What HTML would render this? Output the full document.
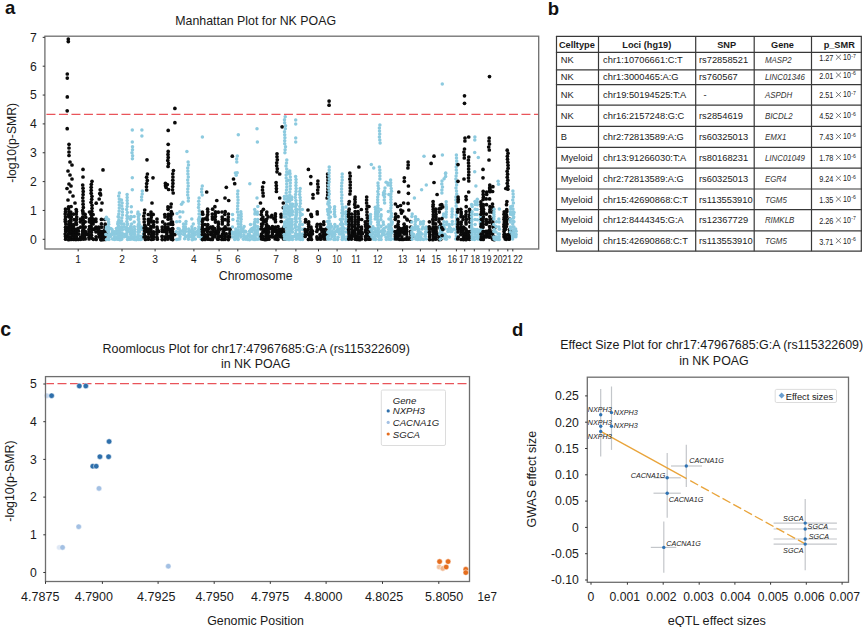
<!DOCTYPE html>
<html><head><meta charset="utf-8"><style>
html,body{margin:0;padding:0;background:#fff;}
svg{display:block;font-family:"Liberation Sans", sans-serif;}
</style></head><body>
<svg width="865" height="627" viewBox="0 0 865 627">
<rect width="865" height="627" fill="#fff"/>
<line x1="45.699999999999996" y1="114.4" x2="538.2" y2="114.4" stroke="#e9545a" stroke-width="1.3" stroke-dasharray="9 3.5" stroke-dashoffset="11.75"/>
<circle cx="65.6" cy="239.2" r="1.85" fill="#0a0a0a"/>
<circle cx="65.5" cy="236.4" r="1.85" fill="#0a0a0a"/>
<circle cx="65.2" cy="234.0" r="1.85" fill="#0a0a0a"/>
<circle cx="65.8" cy="231.5" r="1.85" fill="#0a0a0a"/>
<circle cx="65.6" cy="229.7" r="1.85" fill="#0a0a0a"/>
<circle cx="65.5" cy="227.2" r="1.85" fill="#0a0a0a"/>
<circle cx="65.8" cy="224.1" r="1.85" fill="#0a0a0a"/>
<circle cx="65.3" cy="221.6" r="1.85" fill="#0a0a0a"/>
<circle cx="65.3" cy="219.4" r="1.85" fill="#0a0a0a"/>
<circle cx="65.5" cy="216.8" r="1.85" fill="#0a0a0a"/>
<circle cx="65.2" cy="214.1" r="1.85" fill="#0a0a0a"/>
<circle cx="65.5" cy="211.7" r="1.85" fill="#0a0a0a"/>
<circle cx="65.5" cy="209.1" r="1.85" fill="#0a0a0a"/>
<circle cx="67.0" cy="236.7" r="1.85" fill="#0a0a0a"/>
<circle cx="67.4" cy="228.5" r="1.85" fill="#0a0a0a"/>
<circle cx="68.6" cy="239.7" r="1.85" fill="#0a0a0a"/>
<circle cx="68.7" cy="237.0" r="1.85" fill="#0a0a0a"/>
<circle cx="68.5" cy="234.2" r="1.85" fill="#0a0a0a"/>
<circle cx="68.8" cy="231.5" r="1.85" fill="#0a0a0a"/>
<circle cx="68.5" cy="229.5" r="1.85" fill="#0a0a0a"/>
<circle cx="68.8" cy="226.6" r="1.85" fill="#0a0a0a"/>
<circle cx="68.8" cy="224.3" r="1.85" fill="#0a0a0a"/>
<circle cx="68.9" cy="221.7" r="1.85" fill="#0a0a0a"/>
<circle cx="68.7" cy="216.8" r="1.85" fill="#0a0a0a"/>
<circle cx="68.5" cy="214.5" r="1.85" fill="#0a0a0a"/>
<circle cx="68.9" cy="211.8" r="1.85" fill="#0a0a0a"/>
<circle cx="68.6" cy="209.1" r="1.85" fill="#0a0a0a"/>
<circle cx="68.6" cy="206.8" r="1.85" fill="#0a0a0a"/>
<circle cx="70.2" cy="231.1" r="1.85" fill="#0a0a0a"/>
<circle cx="70.5" cy="228.4" r="1.85" fill="#0a0a0a"/>
<circle cx="71.0" cy="239.4" r="1.85" fill="#0a0a0a"/>
<circle cx="71.2" cy="236.8" r="1.85" fill="#0a0a0a"/>
<circle cx="71.2" cy="233.9" r="1.85" fill="#0a0a0a"/>
<circle cx="71.3" cy="232.1" r="1.85" fill="#0a0a0a"/>
<circle cx="71.0" cy="229.2" r="1.85" fill="#0a0a0a"/>
<circle cx="71.2" cy="226.4" r="1.85" fill="#0a0a0a"/>
<circle cx="70.9" cy="224.0" r="1.85" fill="#0a0a0a"/>
<circle cx="70.8" cy="221.4" r="1.85" fill="#0a0a0a"/>
<circle cx="70.8" cy="219.2" r="1.85" fill="#0a0a0a"/>
<circle cx="71.4" cy="216.9" r="1.85" fill="#0a0a0a"/>
<circle cx="70.9" cy="214.2" r="1.85" fill="#0a0a0a"/>
<circle cx="70.8" cy="212.1" r="1.85" fill="#0a0a0a"/>
<circle cx="71.1" cy="206.5" r="1.85" fill="#0a0a0a"/>
<circle cx="73.1" cy="239.1" r="1.85" fill="#0a0a0a"/>
<circle cx="72.8" cy="234.6" r="1.85" fill="#0a0a0a"/>
<circle cx="72.9" cy="231.5" r="1.85" fill="#0a0a0a"/>
<circle cx="73.2" cy="229.4" r="1.85" fill="#0a0a0a"/>
<circle cx="73.5" cy="239.5" r="1.85" fill="#0a0a0a"/>
<circle cx="73.9" cy="236.7" r="1.85" fill="#0a0a0a"/>
<circle cx="74.0" cy="234.7" r="1.85" fill="#0a0a0a"/>
<circle cx="74.0" cy="232.1" r="1.85" fill="#0a0a0a"/>
<circle cx="73.6" cy="229.3" r="1.85" fill="#0a0a0a"/>
<circle cx="73.4" cy="226.4" r="1.85" fill="#0a0a0a"/>
<circle cx="73.6" cy="224.5" r="1.85" fill="#0a0a0a"/>
<circle cx="74.1" cy="219.7" r="1.85" fill="#0a0a0a"/>
<circle cx="73.6" cy="214.1" r="1.85" fill="#0a0a0a"/>
<circle cx="75.4" cy="239.4" r="1.85" fill="#0a0a0a"/>
<circle cx="75.7" cy="231.8" r="1.85" fill="#0a0a0a"/>
<circle cx="75.7" cy="229.3" r="1.85" fill="#0a0a0a"/>
<circle cx="76.3" cy="239.5" r="1.85" fill="#0a0a0a"/>
<circle cx="76.4" cy="236.7" r="1.85" fill="#0a0a0a"/>
<circle cx="76.6" cy="234.0" r="1.85" fill="#0a0a0a"/>
<circle cx="76.2" cy="232.1" r="1.85" fill="#0a0a0a"/>
<circle cx="76.2" cy="229.6" r="1.85" fill="#0a0a0a"/>
<circle cx="76.4" cy="224.3" r="1.85" fill="#0a0a0a"/>
<circle cx="76.1" cy="222.2" r="1.85" fill="#0a0a0a"/>
<circle cx="76.5" cy="219.6" r="1.85" fill="#0a0a0a"/>
<circle cx="76.7" cy="217.1" r="1.85" fill="#0a0a0a"/>
<circle cx="76.3" cy="214.1" r="1.85" fill="#0a0a0a"/>
<circle cx="76.5" cy="211.6" r="1.85" fill="#0a0a0a"/>
<circle cx="76.2" cy="209.6" r="1.85" fill="#0a0a0a"/>
<circle cx="78.4" cy="239.4" r="1.85" fill="#0a0a0a"/>
<circle cx="78.7" cy="234.1" r="1.85" fill="#0a0a0a"/>
<circle cx="78.4" cy="231.0" r="1.85" fill="#0a0a0a"/>
<circle cx="78.1" cy="228.4" r="1.85" fill="#0a0a0a"/>
<circle cx="68.3" cy="39.0" r="1.85" fill="#0a0a0a"/>
<circle cx="68.3" cy="41.6" r="1.85" fill="#0a0a0a"/>
<circle cx="67.3" cy="74.0" r="1.85" fill="#0a0a0a"/>
<circle cx="67.3" cy="78.1" r="1.85" fill="#0a0a0a"/>
<circle cx="67.3" cy="96.9" r="1.85" fill="#0a0a0a"/>
<circle cx="67.2" cy="110.8" r="1.85" fill="#0a0a0a"/>
<circle cx="67.2" cy="128.7" r="1.85" fill="#0a0a0a"/>
<circle cx="69.0" cy="144.3" r="1.85" fill="#0a0a0a"/>
<circle cx="69.0" cy="148.0" r="1.85" fill="#0a0a0a"/>
<circle cx="69.0" cy="152.0" r="1.85" fill="#0a0a0a"/>
<circle cx="69.0" cy="155.5" r="1.85" fill="#0a0a0a"/>
<circle cx="70.0" cy="162.0" r="1.85" fill="#0a0a0a"/>
<circle cx="72.0" cy="165.0" r="1.85" fill="#0a0a0a"/>
<circle cx="68.0" cy="171.0" r="1.85" fill="#0a0a0a"/>
<circle cx="70.0" cy="175.0" r="1.85" fill="#0a0a0a"/>
<circle cx="72.0" cy="179.0" r="1.85" fill="#0a0a0a"/>
<circle cx="69.0" cy="184.0" r="1.85" fill="#0a0a0a"/>
<circle cx="67.0" cy="188.5" r="1.85" fill="#0a0a0a"/>
<circle cx="70.0" cy="192.0" r="1.85" fill="#0a0a0a"/>
<circle cx="73.0" cy="196.0" r="1.85" fill="#0a0a0a"/>
<circle cx="68.0" cy="200.0" r="1.85" fill="#0a0a0a"/>
<circle cx="75.0" cy="203.0" r="1.85" fill="#0a0a0a"/>
<circle cx="71.0" cy="186.0" r="1.85" fill="#0a0a0a"/>
<circle cx="83.0" cy="169.4" r="1.85" fill="#0a0a0a"/>
<circle cx="83.0" cy="177.0" r="1.85" fill="#0a0a0a"/>
<circle cx="82.7" cy="185.0" r="1.85" fill="#0a0a0a"/>
<circle cx="83.0" cy="188.2" r="1.85" fill="#0a0a0a"/>
<circle cx="83.2" cy="191.4" r="1.85" fill="#0a0a0a"/>
<circle cx="83.1" cy="194.6" r="1.85" fill="#0a0a0a"/>
<circle cx="82.8" cy="197.8" r="1.85" fill="#0a0a0a"/>
<circle cx="83.0" cy="201.0" r="1.85" fill="#0a0a0a"/>
<circle cx="83.1" cy="204.2" r="1.85" fill="#0a0a0a"/>
<circle cx="83.3" cy="207.4" r="1.85" fill="#0a0a0a"/>
<circle cx="82.6" cy="210.6" r="1.85" fill="#0a0a0a"/>
<circle cx="83.1" cy="213.8" r="1.85" fill="#0a0a0a"/>
<circle cx="82.7" cy="217.0" r="1.85" fill="#0a0a0a"/>
<circle cx="82.8" cy="220.2" r="1.85" fill="#0a0a0a"/>
<circle cx="83.3" cy="223.4" r="1.85" fill="#0a0a0a"/>
<circle cx="83.0" cy="226.6" r="1.85" fill="#0a0a0a"/>
<circle cx="83.1" cy="229.8" r="1.85" fill="#0a0a0a"/>
<circle cx="83.3" cy="233.0" r="1.85" fill="#0a0a0a"/>
<circle cx="83.4" cy="236.2" r="1.85" fill="#0a0a0a"/>
<circle cx="80.7" cy="239.3" r="1.85" fill="#0a0a0a"/>
<circle cx="80.5" cy="237.2" r="1.85" fill="#0a0a0a"/>
<circle cx="80.6" cy="227.2" r="1.85" fill="#0a0a0a"/>
<circle cx="80.3" cy="221.8" r="1.85" fill="#0a0a0a"/>
<circle cx="80.4" cy="219.0" r="1.85" fill="#0a0a0a"/>
<circle cx="82.3" cy="236.9" r="1.85" fill="#0a0a0a"/>
<circle cx="82.4" cy="234.6" r="1.85" fill="#0a0a0a"/>
<circle cx="82.5" cy="231.4" r="1.85" fill="#0a0a0a"/>
<circle cx="83.2" cy="239.1" r="1.85" fill="#0a0a0a"/>
<circle cx="83.4" cy="236.4" r="1.85" fill="#0a0a0a"/>
<circle cx="83.2" cy="233.9" r="1.85" fill="#0a0a0a"/>
<circle cx="83.4" cy="231.8" r="1.85" fill="#0a0a0a"/>
<circle cx="83.6" cy="229.5" r="1.85" fill="#0a0a0a"/>
<circle cx="83.1" cy="223.9" r="1.85" fill="#0a0a0a"/>
<circle cx="83.0" cy="219.2" r="1.85" fill="#0a0a0a"/>
<circle cx="83.0" cy="212.1" r="1.85" fill="#0a0a0a"/>
<circle cx="84.6" cy="236.9" r="1.85" fill="#0a0a0a"/>
<circle cx="85.3" cy="231.6" r="1.85" fill="#0a0a0a"/>
<circle cx="85.2" cy="238.9" r="1.85" fill="#0a0a0a"/>
<circle cx="85.7" cy="234.4" r="1.85" fill="#0a0a0a"/>
<circle cx="85.6" cy="232.2" r="1.85" fill="#0a0a0a"/>
<circle cx="85.2" cy="227.1" r="1.85" fill="#0a0a0a"/>
<circle cx="85.2" cy="221.8" r="1.85" fill="#0a0a0a"/>
<circle cx="85.7" cy="217.2" r="1.85" fill="#0a0a0a"/>
<circle cx="85.1" cy="214.3" r="1.85" fill="#0a0a0a"/>
<circle cx="87.3" cy="234.3" r="1.85" fill="#0a0a0a"/>
<circle cx="92.0" cy="181.3" r="1.85" fill="#0a0a0a"/>
<circle cx="91.3" cy="184.3" r="1.85" fill="#0a0a0a"/>
<circle cx="91.2" cy="187.3" r="1.85" fill="#0a0a0a"/>
<circle cx="91.2" cy="190.3" r="1.85" fill="#0a0a0a"/>
<circle cx="91.2" cy="193.3" r="1.85" fill="#0a0a0a"/>
<circle cx="91.9" cy="196.3" r="1.85" fill="#0a0a0a"/>
<circle cx="91.7" cy="199.3" r="1.85" fill="#0a0a0a"/>
<circle cx="91.1" cy="202.3" r="1.85" fill="#0a0a0a"/>
<circle cx="92.0" cy="205.3" r="1.85" fill="#0a0a0a"/>
<circle cx="92.0" cy="208.3" r="1.85" fill="#0a0a0a"/>
<circle cx="91.8" cy="211.3" r="1.85" fill="#0a0a0a"/>
<circle cx="91.0" cy="214.3" r="1.85" fill="#0a0a0a"/>
<circle cx="91.6" cy="217.3" r="1.85" fill="#0a0a0a"/>
<circle cx="91.9" cy="220.3" r="1.85" fill="#0a0a0a"/>
<circle cx="91.4" cy="223.3" r="1.85" fill="#0a0a0a"/>
<circle cx="91.1" cy="226.3" r="1.85" fill="#0a0a0a"/>
<circle cx="91.7" cy="229.3" r="1.85" fill="#0a0a0a"/>
<circle cx="91.4" cy="232.3" r="1.85" fill="#0a0a0a"/>
<circle cx="91.5" cy="235.3" r="1.85" fill="#0a0a0a"/>
<circle cx="92.0" cy="238.3" r="1.85" fill="#0a0a0a"/>
<circle cx="89.1" cy="238.9" r="1.85" fill="#0a0a0a"/>
<circle cx="89.1" cy="237.2" r="1.85" fill="#0a0a0a"/>
<circle cx="88.9" cy="234.6" r="1.85" fill="#0a0a0a"/>
<circle cx="89.0" cy="231.7" r="1.85" fill="#0a0a0a"/>
<circle cx="89.1" cy="229.4" r="1.85" fill="#0a0a0a"/>
<circle cx="89.5" cy="226.5" r="1.85" fill="#0a0a0a"/>
<circle cx="89.3" cy="221.7" r="1.85" fill="#0a0a0a"/>
<circle cx="89.4" cy="219.0" r="1.85" fill="#0a0a0a"/>
<circle cx="89.5" cy="212.0" r="1.85" fill="#0a0a0a"/>
<circle cx="91.4" cy="228.5" r="1.85" fill="#0a0a0a"/>
<circle cx="93.4" cy="239.3" r="1.85" fill="#0a0a0a"/>
<circle cx="93.7" cy="229.4" r="1.85" fill="#0a0a0a"/>
<circle cx="93.1" cy="224.0" r="1.85" fill="#0a0a0a"/>
<circle cx="93.2" cy="222.1" r="1.85" fill="#0a0a0a"/>
<circle cx="93.5" cy="219.4" r="1.85" fill="#0a0a0a"/>
<circle cx="93.1" cy="214.5" r="1.85" fill="#0a0a0a"/>
<circle cx="94.9" cy="228.7" r="1.85" fill="#0a0a0a"/>
<circle cx="100.2" cy="193.6" r="1.85" fill="#0a0a0a"/>
<circle cx="99.8" cy="193.5" r="1.85" fill="#0a0a0a"/>
<circle cx="99.2" cy="199.0" r="1.85" fill="#0a0a0a"/>
<circle cx="100.2" cy="189.8" r="1.85" fill="#0a0a0a"/>
<circle cx="100.6" cy="194.9" r="1.85" fill="#0a0a0a"/>
<circle cx="96.2" cy="203.2" r="1.85" fill="#0a0a0a"/>
<circle cx="96.2" cy="239.4" r="1.85" fill="#0a0a0a"/>
<circle cx="96.1" cy="236.8" r="1.85" fill="#0a0a0a"/>
<circle cx="95.9" cy="231.8" r="1.85" fill="#0a0a0a"/>
<circle cx="96.0" cy="227.0" r="1.85" fill="#0a0a0a"/>
<circle cx="95.9" cy="221.5" r="1.85" fill="#0a0a0a"/>
<circle cx="95.9" cy="219.0" r="1.85" fill="#0a0a0a"/>
<circle cx="98.2" cy="231.9" r="1.85" fill="#0a0a0a"/>
<circle cx="97.5" cy="229.1" r="1.85" fill="#0a0a0a"/>
<circle cx="99.1" cy="237.0" r="1.85" fill="#0a0a0a"/>
<circle cx="99.1" cy="234.3" r="1.85" fill="#0a0a0a"/>
<circle cx="98.5" cy="231.8" r="1.85" fill="#0a0a0a"/>
<circle cx="98.7" cy="229.0" r="1.85" fill="#0a0a0a"/>
<circle cx="98.7" cy="227.1" r="1.85" fill="#0a0a0a"/>
<circle cx="101.0" cy="239.6" r="1.85" fill="#0a0a0a"/>
<circle cx="101.2" cy="236.9" r="1.85" fill="#0a0a0a"/>
<circle cx="100.7" cy="231.4" r="1.85" fill="#0a0a0a"/>
<circle cx="103.0" cy="169.9" r="1.85" fill="#0a0a0a"/>
<circle cx="102.0" cy="203.0" r="1.85" fill="#0a0a0a"/>
<circle cx="101.0" cy="210.0" r="1.85" fill="#0a0a0a"/>
<circle cx="100.9" cy="239.6" r="1.85" fill="#0a0a0a"/>
<circle cx="101.5" cy="236.6" r="1.85" fill="#0a0a0a"/>
<circle cx="101.2" cy="234.1" r="1.85" fill="#0a0a0a"/>
<circle cx="101.5" cy="232.1" r="1.85" fill="#0a0a0a"/>
<circle cx="101.5" cy="227.2" r="1.85" fill="#0a0a0a"/>
<circle cx="101.4" cy="223.9" r="1.85" fill="#0a0a0a"/>
<circle cx="101.4" cy="219.4" r="1.85" fill="#0a0a0a"/>
<circle cx="102.7" cy="239.7" r="1.85" fill="#0a0a0a"/>
<circle cx="103.0" cy="236.5" r="1.85" fill="#0a0a0a"/>
<circle cx="103.2" cy="234.6" r="1.85" fill="#0a0a0a"/>
<circle cx="103.2" cy="231.3" r="1.85" fill="#0a0a0a"/>
<circle cx="105.0" cy="239.5" r="1.85" fill="#0a0a0a"/>
<circle cx="104.9" cy="236.7" r="1.85" fill="#0a0a0a"/>
<circle cx="105.0" cy="231.6" r="1.85" fill="#0a0a0a"/>
<circle cx="105.0" cy="229.2" r="1.85" fill="#0a0a0a"/>
<circle cx="105.2" cy="226.6" r="1.85" fill="#0a0a0a"/>
<circle cx="105.2" cy="224.2" r="1.85" fill="#0a0a0a"/>
<circle cx="104.8" cy="219.5" r="1.85" fill="#0a0a0a"/>
<circle cx="106.6" cy="234.1" r="1.85" fill="#0a0a0a"/>
<circle cx="106.5" cy="239.6" r="1.75" fill="#8ccadf"/>
<circle cx="105.9" cy="234.5" r="1.75" fill="#8ccadf"/>
<circle cx="106.3" cy="228.9" r="1.75" fill="#8ccadf"/>
<circle cx="106.5" cy="227.1" r="1.75" fill="#8ccadf"/>
<circle cx="106.0" cy="219.0" r="1.75" fill="#8ccadf"/>
<circle cx="106.4" cy="217.2" r="1.75" fill="#8ccadf"/>
<circle cx="108.0" cy="231.0" r="1.75" fill="#8ccadf"/>
<circle cx="109.0" cy="239.4" r="1.75" fill="#8ccadf"/>
<circle cx="108.6" cy="237.0" r="1.75" fill="#8ccadf"/>
<circle cx="108.5" cy="234.7" r="1.75" fill="#8ccadf"/>
<circle cx="108.5" cy="232.0" r="1.75" fill="#8ccadf"/>
<circle cx="108.7" cy="229.7" r="1.75" fill="#8ccadf"/>
<circle cx="108.5" cy="227.1" r="1.75" fill="#8ccadf"/>
<circle cx="108.7" cy="224.3" r="1.75" fill="#8ccadf"/>
<circle cx="108.6" cy="221.9" r="1.75" fill="#8ccadf"/>
<circle cx="108.4" cy="219.6" r="1.75" fill="#8ccadf"/>
<circle cx="110.5" cy="236.6" r="1.75" fill="#8ccadf"/>
<circle cx="110.7" cy="234.3" r="1.75" fill="#8ccadf"/>
<circle cx="110.6" cy="228.4" r="1.75" fill="#8ccadf"/>
<circle cx="112.5" cy="239.1" r="1.75" fill="#8ccadf"/>
<circle cx="111.9" cy="234.5" r="1.75" fill="#8ccadf"/>
<circle cx="112.4" cy="231.8" r="1.75" fill="#8ccadf"/>
<circle cx="111.9" cy="229.2" r="1.75" fill="#8ccadf"/>
<circle cx="113.6" cy="239.0" r="1.75" fill="#8ccadf"/>
<circle cx="113.4" cy="233.7" r="1.75" fill="#8ccadf"/>
<circle cx="114.0" cy="231.9" r="1.75" fill="#8ccadf"/>
<circle cx="114.7" cy="239.5" r="1.75" fill="#8ccadf"/>
<circle cx="114.5" cy="236.7" r="1.75" fill="#8ccadf"/>
<circle cx="114.2" cy="234.0" r="1.75" fill="#8ccadf"/>
<circle cx="114.2" cy="231.7" r="1.75" fill="#8ccadf"/>
<circle cx="116.5" cy="239.0" r="1.75" fill="#8ccadf"/>
<circle cx="116.4" cy="237.0" r="1.75" fill="#8ccadf"/>
<circle cx="115.8" cy="234.1" r="1.75" fill="#8ccadf"/>
<circle cx="116.5" cy="231.2" r="1.75" fill="#8ccadf"/>
<circle cx="116.4" cy="228.4" r="1.75" fill="#8ccadf"/>
<circle cx="118.0" cy="239.3" r="1.75" fill="#8ccadf"/>
<circle cx="117.8" cy="234.0" r="1.75" fill="#8ccadf"/>
<circle cx="118.0" cy="231.7" r="1.75" fill="#8ccadf"/>
<circle cx="118.2" cy="227.0" r="1.75" fill="#8ccadf"/>
<circle cx="118.2" cy="221.9" r="1.75" fill="#8ccadf"/>
<circle cx="119.8" cy="238.9" r="1.75" fill="#8ccadf"/>
<circle cx="119.7" cy="234.4" r="1.75" fill="#8ccadf"/>
<circle cx="119.4" cy="193.0" r="1.75" fill="#8ccadf"/>
<circle cx="118.7" cy="196.0" r="1.75" fill="#8ccadf"/>
<circle cx="119.3" cy="199.0" r="1.75" fill="#8ccadf"/>
<circle cx="119.2" cy="202.0" r="1.75" fill="#8ccadf"/>
<circle cx="119.3" cy="205.0" r="1.75" fill="#8ccadf"/>
<circle cx="119.3" cy="208.0" r="1.75" fill="#8ccadf"/>
<circle cx="119.1" cy="211.0" r="1.75" fill="#8ccadf"/>
<circle cx="118.8" cy="214.0" r="1.75" fill="#8ccadf"/>
<circle cx="118.8" cy="217.0" r="1.75" fill="#8ccadf"/>
<circle cx="118.9" cy="220.0" r="1.75" fill="#8ccadf"/>
<circle cx="119.3" cy="223.0" r="1.75" fill="#8ccadf"/>
<circle cx="118.6" cy="226.0" r="1.75" fill="#8ccadf"/>
<circle cx="118.7" cy="229.0" r="1.75" fill="#8ccadf"/>
<circle cx="119.3" cy="232.0" r="1.75" fill="#8ccadf"/>
<circle cx="118.7" cy="235.0" r="1.75" fill="#8ccadf"/>
<circle cx="118.6" cy="238.0" r="1.75" fill="#8ccadf"/>
<circle cx="121.5" cy="200.0" r="1.75" fill="#8ccadf"/>
<circle cx="122.1" cy="203.0" r="1.75" fill="#8ccadf"/>
<circle cx="121.8" cy="206.0" r="1.75" fill="#8ccadf"/>
<circle cx="122.5" cy="209.0" r="1.75" fill="#8ccadf"/>
<circle cx="122.4" cy="212.0" r="1.75" fill="#8ccadf"/>
<circle cx="122.5" cy="215.0" r="1.75" fill="#8ccadf"/>
<circle cx="121.8" cy="218.0" r="1.75" fill="#8ccadf"/>
<circle cx="121.6" cy="221.0" r="1.75" fill="#8ccadf"/>
<circle cx="121.6" cy="224.0" r="1.75" fill="#8ccadf"/>
<circle cx="122.0" cy="227.0" r="1.75" fill="#8ccadf"/>
<circle cx="122.2" cy="230.0" r="1.75" fill="#8ccadf"/>
<circle cx="121.9" cy="233.0" r="1.75" fill="#8ccadf"/>
<circle cx="121.7" cy="236.0" r="1.75" fill="#8ccadf"/>
<circle cx="121.9" cy="239.0" r="1.75" fill="#8ccadf"/>
<circle cx="127.1" cy="194.5" r="1.75" fill="#8ccadf"/>
<circle cx="127.2" cy="197.5" r="1.75" fill="#8ccadf"/>
<circle cx="127.2" cy="200.5" r="1.75" fill="#8ccadf"/>
<circle cx="127.3" cy="203.5" r="1.75" fill="#8ccadf"/>
<circle cx="127.2" cy="206.5" r="1.75" fill="#8ccadf"/>
<circle cx="126.6" cy="209.5" r="1.75" fill="#8ccadf"/>
<circle cx="127.3" cy="212.5" r="1.75" fill="#8ccadf"/>
<circle cx="126.8" cy="215.5" r="1.75" fill="#8ccadf"/>
<circle cx="127.1" cy="218.5" r="1.75" fill="#8ccadf"/>
<circle cx="126.9" cy="221.5" r="1.75" fill="#8ccadf"/>
<circle cx="127.2" cy="224.5" r="1.75" fill="#8ccadf"/>
<circle cx="126.7" cy="227.5" r="1.75" fill="#8ccadf"/>
<circle cx="126.7" cy="230.5" r="1.75" fill="#8ccadf"/>
<circle cx="126.7" cy="233.5" r="1.75" fill="#8ccadf"/>
<circle cx="126.7" cy="236.5" r="1.75" fill="#8ccadf"/>
<circle cx="118.2" cy="239.3" r="1.75" fill="#8ccadf"/>
<circle cx="118.1" cy="236.9" r="1.75" fill="#8ccadf"/>
<circle cx="117.9" cy="232.1" r="1.75" fill="#8ccadf"/>
<circle cx="117.7" cy="224.0" r="1.75" fill="#8ccadf"/>
<circle cx="118.2" cy="221.9" r="1.75" fill="#8ccadf"/>
<circle cx="118.1" cy="216.8" r="1.75" fill="#8ccadf"/>
<circle cx="119.9" cy="239.7" r="1.75" fill="#8ccadf"/>
<circle cx="119.7" cy="236.8" r="1.75" fill="#8ccadf"/>
<circle cx="119.6" cy="233.7" r="1.75" fill="#8ccadf"/>
<circle cx="119.5" cy="231.6" r="1.75" fill="#8ccadf"/>
<circle cx="121.1" cy="239.4" r="1.75" fill="#8ccadf"/>
<circle cx="120.9" cy="236.8" r="1.75" fill="#8ccadf"/>
<circle cx="121.1" cy="234.5" r="1.75" fill="#8ccadf"/>
<circle cx="121.2" cy="229.4" r="1.75" fill="#8ccadf"/>
<circle cx="121.0" cy="227.2" r="1.75" fill="#8ccadf"/>
<circle cx="120.9" cy="222.0" r="1.75" fill="#8ccadf"/>
<circle cx="122.1" cy="237.0" r="1.75" fill="#8ccadf"/>
<circle cx="122.4" cy="229.3" r="1.75" fill="#8ccadf"/>
<circle cx="124.5" cy="236.8" r="1.75" fill="#8ccadf"/>
<circle cx="123.8" cy="234.3" r="1.75" fill="#8ccadf"/>
<circle cx="124.3" cy="226.7" r="1.75" fill="#8ccadf"/>
<circle cx="123.9" cy="224.1" r="1.75" fill="#8ccadf"/>
<circle cx="125.9" cy="234.4" r="1.75" fill="#8ccadf"/>
<circle cx="125.6" cy="229.3" r="1.75" fill="#8ccadf"/>
<circle cx="127.5" cy="239.5" r="1.75" fill="#8ccadf"/>
<circle cx="128.0" cy="236.9" r="1.75" fill="#8ccadf"/>
<circle cx="127.8" cy="231.6" r="1.75" fill="#8ccadf"/>
<circle cx="127.8" cy="228.9" r="1.75" fill="#8ccadf"/>
<circle cx="127.7" cy="224.0" r="1.75" fill="#8ccadf"/>
<circle cx="128.0" cy="217.1" r="1.75" fill="#8ccadf"/>
<circle cx="129.2" cy="239.3" r="1.75" fill="#8ccadf"/>
<circle cx="129.1" cy="228.8" r="1.75" fill="#8ccadf"/>
<circle cx="130.7" cy="239.3" r="1.75" fill="#8ccadf"/>
<circle cx="130.8" cy="237.0" r="1.75" fill="#8ccadf"/>
<circle cx="130.4" cy="234.3" r="1.75" fill="#8ccadf"/>
<circle cx="130.3" cy="231.7" r="1.75" fill="#8ccadf"/>
<circle cx="130.6" cy="229.3" r="1.75" fill="#8ccadf"/>
<circle cx="130.7" cy="226.5" r="1.75" fill="#8ccadf"/>
<circle cx="130.3" cy="219.3" r="1.75" fill="#8ccadf"/>
<circle cx="130.9" cy="216.5" r="1.75" fill="#8ccadf"/>
<circle cx="132.6" cy="231.5" r="1.75" fill="#8ccadf"/>
<circle cx="132.3" cy="130.0" r="1.75" fill="#8ccadf"/>
<circle cx="132.3" cy="141.9" r="1.75" fill="#8ccadf"/>
<circle cx="132.5" cy="146.7" r="1.75" fill="#8ccadf"/>
<circle cx="132.5" cy="149.7" r="1.75" fill="#8ccadf"/>
<circle cx="132.0" cy="152.7" r="1.75" fill="#8ccadf"/>
<circle cx="132.6" cy="155.7" r="1.75" fill="#8ccadf"/>
<circle cx="132.4" cy="158.7" r="1.75" fill="#8ccadf"/>
<circle cx="132.3" cy="177.8" r="1.75" fill="#8ccadf"/>
<circle cx="132.3" cy="189.7" r="1.75" fill="#8ccadf"/>
<circle cx="131.2" cy="237.2" r="1.75" fill="#8ccadf"/>
<circle cx="131.5" cy="234.4" r="1.75" fill="#8ccadf"/>
<circle cx="131.3" cy="231.6" r="1.75" fill="#8ccadf"/>
<circle cx="131.5" cy="229.1" r="1.75" fill="#8ccadf"/>
<circle cx="131.3" cy="227.0" r="1.75" fill="#8ccadf"/>
<circle cx="131.6" cy="223.9" r="1.75" fill="#8ccadf"/>
<circle cx="131.4" cy="217.0" r="1.75" fill="#8ccadf"/>
<circle cx="131.4" cy="212.1" r="1.75" fill="#8ccadf"/>
<circle cx="131.3" cy="206.7" r="1.75" fill="#8ccadf"/>
<circle cx="132.8" cy="238.9" r="1.75" fill="#8ccadf"/>
<circle cx="133.0" cy="237.2" r="1.75" fill="#8ccadf"/>
<circle cx="132.9" cy="233.9" r="1.75" fill="#8ccadf"/>
<circle cx="134.4" cy="239.4" r="1.75" fill="#8ccadf"/>
<circle cx="134.5" cy="236.4" r="1.75" fill="#8ccadf"/>
<circle cx="134.6" cy="233.9" r="1.75" fill="#8ccadf"/>
<circle cx="134.6" cy="231.6" r="1.75" fill="#8ccadf"/>
<circle cx="134.6" cy="229.2" r="1.75" fill="#8ccadf"/>
<circle cx="134.3" cy="226.7" r="1.75" fill="#8ccadf"/>
<circle cx="134.2" cy="222.0" r="1.75" fill="#8ccadf"/>
<circle cx="134.2" cy="216.5" r="1.75" fill="#8ccadf"/>
<circle cx="136.2" cy="239.8" r="1.75" fill="#8ccadf"/>
<circle cx="136.2" cy="237.1" r="1.75" fill="#8ccadf"/>
<circle cx="138.1" cy="239.2" r="1.75" fill="#8ccadf"/>
<circle cx="137.8" cy="237.0" r="1.75" fill="#8ccadf"/>
<circle cx="138.1" cy="234.7" r="1.75" fill="#8ccadf"/>
<circle cx="137.9" cy="231.9" r="1.75" fill="#8ccadf"/>
<circle cx="138.2" cy="229.6" r="1.75" fill="#8ccadf"/>
<circle cx="138.0" cy="226.6" r="1.75" fill="#8ccadf"/>
<circle cx="138.4" cy="224.5" r="1.75" fill="#8ccadf"/>
<circle cx="138.3" cy="219.5" r="1.75" fill="#8ccadf"/>
<circle cx="138.3" cy="216.8" r="1.75" fill="#8ccadf"/>
<circle cx="137.8" cy="214.1" r="1.75" fill="#8ccadf"/>
<circle cx="138.0" cy="212.0" r="1.75" fill="#8ccadf"/>
<circle cx="139.3" cy="239.2" r="1.75" fill="#8ccadf"/>
<circle cx="139.4" cy="232.0" r="1.75" fill="#8ccadf"/>
<circle cx="139.6" cy="228.4" r="1.75" fill="#8ccadf"/>
<circle cx="141.9" cy="130.0" r="1.75" fill="#8ccadf"/>
<circle cx="141.9" cy="135.9" r="1.75" fill="#8ccadf"/>
<circle cx="142.3" cy="191.0" r="1.75" fill="#8ccadf"/>
<circle cx="142.2" cy="194.0" r="1.75" fill="#8ccadf"/>
<circle cx="141.6" cy="197.0" r="1.75" fill="#8ccadf"/>
<circle cx="141.6" cy="200.0" r="1.75" fill="#8ccadf"/>
<circle cx="138.9" cy="239.6" r="1.75" fill="#8ccadf"/>
<circle cx="139.0" cy="229.3" r="1.75" fill="#8ccadf"/>
<circle cx="138.7" cy="227.2" r="1.75" fill="#8ccadf"/>
<circle cx="139.3" cy="224.5" r="1.75" fill="#8ccadf"/>
<circle cx="139.0" cy="221.9" r="1.75" fill="#8ccadf"/>
<circle cx="138.7" cy="219.0" r="1.75" fill="#8ccadf"/>
<circle cx="139.3" cy="214.5" r="1.75" fill="#8ccadf"/>
<circle cx="140.4" cy="239.4" r="1.75" fill="#8ccadf"/>
<circle cx="140.4" cy="236.2" r="1.75" fill="#8ccadf"/>
<circle cx="141.1" cy="228.9" r="1.75" fill="#8ccadf"/>
<circle cx="141.7" cy="239.1" r="1.75" fill="#8ccadf"/>
<circle cx="141.4" cy="237.2" r="1.75" fill="#8ccadf"/>
<circle cx="141.9" cy="229.4" r="1.75" fill="#8ccadf"/>
<circle cx="141.5" cy="227.0" r="1.75" fill="#8ccadf"/>
<circle cx="143.0" cy="236.5" r="1.75" fill="#8ccadf"/>
<circle cx="143.4" cy="233.6" r="1.75" fill="#8ccadf"/>
<circle cx="144.7" cy="210.0" r="1.85" fill="#0a0a0a"/>
<circle cx="144.4" cy="213.0" r="1.85" fill="#0a0a0a"/>
<circle cx="143.8" cy="216.0" r="1.85" fill="#0a0a0a"/>
<circle cx="144.2" cy="219.0" r="1.85" fill="#0a0a0a"/>
<circle cx="144.2" cy="222.0" r="1.85" fill="#0a0a0a"/>
<circle cx="144.6" cy="225.0" r="1.85" fill="#0a0a0a"/>
<circle cx="144.1" cy="228.0" r="1.85" fill="#0a0a0a"/>
<circle cx="144.5" cy="231.0" r="1.85" fill="#0a0a0a"/>
<circle cx="144.3" cy="234.0" r="1.85" fill="#0a0a0a"/>
<circle cx="144.0" cy="237.0" r="1.85" fill="#0a0a0a"/>
<circle cx="147.0" cy="159.8" r="1.85" fill="#0a0a0a"/>
<circle cx="147.4" cy="174.0" r="1.85" fill="#0a0a0a"/>
<circle cx="146.6" cy="177.2" r="1.85" fill="#0a0a0a"/>
<circle cx="147.3" cy="180.4" r="1.85" fill="#0a0a0a"/>
<circle cx="146.7" cy="183.6" r="1.85" fill="#0a0a0a"/>
<circle cx="146.5" cy="186.8" r="1.85" fill="#0a0a0a"/>
<circle cx="146.7" cy="190.0" r="1.85" fill="#0a0a0a"/>
<circle cx="153.0" cy="177.8" r="1.85" fill="#0a0a0a"/>
<circle cx="152.0" cy="203.0" r="1.85" fill="#0a0a0a"/>
<circle cx="145.4" cy="239.5" r="1.85" fill="#0a0a0a"/>
<circle cx="145.4" cy="236.7" r="1.85" fill="#0a0a0a"/>
<circle cx="145.7" cy="231.6" r="1.85" fill="#0a0a0a"/>
<circle cx="145.6" cy="229.3" r="1.85" fill="#0a0a0a"/>
<circle cx="145.5" cy="226.5" r="1.85" fill="#0a0a0a"/>
<circle cx="147.4" cy="228.8" r="1.85" fill="#0a0a0a"/>
<circle cx="148.3" cy="239.2" r="1.85" fill="#0a0a0a"/>
<circle cx="148.2" cy="237.2" r="1.85" fill="#0a0a0a"/>
<circle cx="148.8" cy="234.0" r="1.85" fill="#0a0a0a"/>
<circle cx="148.6" cy="231.9" r="1.85" fill="#0a0a0a"/>
<circle cx="148.5" cy="229.3" r="1.85" fill="#0a0a0a"/>
<circle cx="148.5" cy="224.2" r="1.85" fill="#0a0a0a"/>
<circle cx="148.6" cy="221.6" r="1.85" fill="#0a0a0a"/>
<circle cx="148.3" cy="219.4" r="1.85" fill="#0a0a0a"/>
<circle cx="148.3" cy="214.5" r="1.85" fill="#0a0a0a"/>
<circle cx="151.5" cy="239.5" r="1.85" fill="#0a0a0a"/>
<circle cx="151.5" cy="236.5" r="1.85" fill="#0a0a0a"/>
<circle cx="151.5" cy="234.5" r="1.85" fill="#0a0a0a"/>
<circle cx="151.1" cy="231.6" r="1.85" fill="#0a0a0a"/>
<circle cx="150.9" cy="229.1" r="1.85" fill="#0a0a0a"/>
<circle cx="150.8" cy="226.7" r="1.85" fill="#0a0a0a"/>
<circle cx="151.1" cy="221.9" r="1.85" fill="#0a0a0a"/>
<circle cx="150.9" cy="219.4" r="1.85" fill="#0a0a0a"/>
<circle cx="151.3" cy="217.1" r="1.85" fill="#0a0a0a"/>
<circle cx="151.2" cy="214.5" r="1.85" fill="#0a0a0a"/>
<circle cx="151.0" cy="212.0" r="1.85" fill="#0a0a0a"/>
<circle cx="153.2" cy="239.2" r="1.85" fill="#0a0a0a"/>
<circle cx="153.7" cy="236.9" r="1.85" fill="#0a0a0a"/>
<circle cx="153.5" cy="234.3" r="1.85" fill="#0a0a0a"/>
<circle cx="153.5" cy="231.9" r="1.85" fill="#0a0a0a"/>
<circle cx="153.6" cy="227.0" r="1.85" fill="#0a0a0a"/>
<circle cx="153.5" cy="224.7" r="1.85" fill="#0a0a0a"/>
<circle cx="153.6" cy="221.5" r="1.85" fill="#0a0a0a"/>
<circle cx="153.2" cy="214.4" r="1.85" fill="#0a0a0a"/>
<circle cx="157.3" cy="239.2" r="1.85" fill="#0a0a0a"/>
<circle cx="156.9" cy="237.2" r="1.85" fill="#0a0a0a"/>
<circle cx="156.9" cy="234.1" r="1.85" fill="#0a0a0a"/>
<circle cx="156.8" cy="231.7" r="1.85" fill="#0a0a0a"/>
<circle cx="157.3" cy="229.2" r="1.85" fill="#0a0a0a"/>
<circle cx="157.0" cy="227.0" r="1.85" fill="#0a0a0a"/>
<circle cx="157.0" cy="222.0" r="1.85" fill="#0a0a0a"/>
<circle cx="157.0" cy="219.0" r="1.85" fill="#0a0a0a"/>
<circle cx="158.7" cy="231.4" r="1.85" fill="#0a0a0a"/>
<circle cx="174.9" cy="108.4" r="1.85" fill="#0a0a0a"/>
<circle cx="174.9" cy="122.7" r="1.85" fill="#0a0a0a"/>
<circle cx="168.2" cy="130.4" r="1.85" fill="#0a0a0a"/>
<circle cx="168.2" cy="144.3" r="1.85" fill="#0a0a0a"/>
<circle cx="168.2" cy="151.4" r="1.85" fill="#0a0a0a"/>
<circle cx="168.0" cy="154.4" r="1.85" fill="#0a0a0a"/>
<circle cx="168.2" cy="157.4" r="1.85" fill="#0a0a0a"/>
<circle cx="167.8" cy="160.4" r="1.85" fill="#0a0a0a"/>
<circle cx="168.5" cy="163.4" r="1.85" fill="#0a0a0a"/>
<circle cx="168.1" cy="166.4" r="1.85" fill="#0a0a0a"/>
<circle cx="173.4" cy="170.6" r="1.85" fill="#0a0a0a"/>
<circle cx="172.8" cy="173.8" r="1.85" fill="#0a0a0a"/>
<circle cx="172.9" cy="177.0" r="1.85" fill="#0a0a0a"/>
<circle cx="172.8" cy="180.2" r="1.85" fill="#0a0a0a"/>
<circle cx="172.9" cy="183.4" r="1.85" fill="#0a0a0a"/>
<circle cx="172.7" cy="186.6" r="1.85" fill="#0a0a0a"/>
<circle cx="172.5" cy="189.8" r="1.85" fill="#0a0a0a"/>
<circle cx="173.2" cy="193.0" r="1.85" fill="#0a0a0a"/>
<circle cx="165.4" cy="183.4" r="1.85" fill="#0a0a0a"/>
<circle cx="165.5" cy="185.8" r="1.85" fill="#0a0a0a"/>
<circle cx="166.1" cy="187.4" r="1.85" fill="#0a0a0a"/>
<circle cx="167.3" cy="184.6" r="1.85" fill="#0a0a0a"/>
<circle cx="168.6" cy="189.5" r="1.85" fill="#0a0a0a"/>
<circle cx="162.2" cy="239.6" r="1.85" fill="#0a0a0a"/>
<circle cx="162.1" cy="236.4" r="1.85" fill="#0a0a0a"/>
<circle cx="162.3" cy="231.5" r="1.85" fill="#0a0a0a"/>
<circle cx="162.3" cy="229.5" r="1.85" fill="#0a0a0a"/>
<circle cx="162.2" cy="227.1" r="1.85" fill="#0a0a0a"/>
<circle cx="162.7" cy="221.9" r="1.85" fill="#0a0a0a"/>
<circle cx="163.8" cy="231.5" r="1.85" fill="#0a0a0a"/>
<circle cx="165.0" cy="239.6" r="1.85" fill="#0a0a0a"/>
<circle cx="165.1" cy="236.8" r="1.85" fill="#0a0a0a"/>
<circle cx="164.9" cy="231.5" r="1.85" fill="#0a0a0a"/>
<circle cx="165.2" cy="229.0" r="1.85" fill="#0a0a0a"/>
<circle cx="165.2" cy="226.8" r="1.85" fill="#0a0a0a"/>
<circle cx="165.1" cy="224.2" r="1.85" fill="#0a0a0a"/>
<circle cx="165.0" cy="216.9" r="1.85" fill="#0a0a0a"/>
<circle cx="164.8" cy="214.5" r="1.85" fill="#0a0a0a"/>
<circle cx="167.1" cy="237.0" r="1.85" fill="#0a0a0a"/>
<circle cx="166.8" cy="234.0" r="1.85" fill="#0a0a0a"/>
<circle cx="166.7" cy="231.7" r="1.85" fill="#0a0a0a"/>
<circle cx="167.3" cy="229.0" r="1.85" fill="#0a0a0a"/>
<circle cx="167.8" cy="239.1" r="1.85" fill="#0a0a0a"/>
<circle cx="168.1" cy="236.7" r="1.85" fill="#0a0a0a"/>
<circle cx="167.9" cy="229.3" r="1.85" fill="#0a0a0a"/>
<circle cx="167.9" cy="227.0" r="1.85" fill="#0a0a0a"/>
<circle cx="168.4" cy="224.0" r="1.85" fill="#0a0a0a"/>
<circle cx="168.1" cy="219.2" r="1.85" fill="#0a0a0a"/>
<circle cx="168.0" cy="216.5" r="1.85" fill="#0a0a0a"/>
<circle cx="168.3" cy="214.3" r="1.85" fill="#0a0a0a"/>
<circle cx="168.1" cy="209.3" r="1.85" fill="#0a0a0a"/>
<circle cx="167.9" cy="206.9" r="1.85" fill="#0a0a0a"/>
<circle cx="169.5" cy="236.8" r="1.85" fill="#0a0a0a"/>
<circle cx="170.0" cy="231.9" r="1.85" fill="#0a0a0a"/>
<circle cx="169.5" cy="229.3" r="1.85" fill="#0a0a0a"/>
<circle cx="171.0" cy="239.1" r="1.85" fill="#0a0a0a"/>
<circle cx="170.9" cy="236.7" r="1.85" fill="#0a0a0a"/>
<circle cx="171.1" cy="234.6" r="1.85" fill="#0a0a0a"/>
<circle cx="171.0" cy="231.4" r="1.85" fill="#0a0a0a"/>
<circle cx="171.2" cy="229.4" r="1.85" fill="#0a0a0a"/>
<circle cx="170.7" cy="224.2" r="1.85" fill="#0a0a0a"/>
<circle cx="171.3" cy="222.2" r="1.85" fill="#0a0a0a"/>
<circle cx="170.9" cy="219.0" r="1.85" fill="#0a0a0a"/>
<circle cx="170.8" cy="216.5" r="1.85" fill="#0a0a0a"/>
<circle cx="170.6" cy="214.4" r="1.85" fill="#0a0a0a"/>
<circle cx="171.3" cy="211.5" r="1.85" fill="#0a0a0a"/>
<circle cx="170.7" cy="207.0" r="1.85" fill="#0a0a0a"/>
<circle cx="171.2" cy="204.0" r="1.85" fill="#0a0a0a"/>
<circle cx="172.5" cy="239.5" r="1.85" fill="#0a0a0a"/>
<circle cx="172.4" cy="231.7" r="1.85" fill="#0a0a0a"/>
<circle cx="172.6" cy="228.7" r="1.85" fill="#0a0a0a"/>
<circle cx="172.7" cy="239.6" r="1.85" fill="#0a0a0a"/>
<circle cx="172.4" cy="237.0" r="1.85" fill="#0a0a0a"/>
<circle cx="172.8" cy="234.3" r="1.85" fill="#0a0a0a"/>
<circle cx="172.5" cy="231.9" r="1.85" fill="#0a0a0a"/>
<circle cx="172.7" cy="229.0" r="1.85" fill="#0a0a0a"/>
<circle cx="172.7" cy="224.4" r="1.85" fill="#0a0a0a"/>
<circle cx="172.5" cy="222.0" r="1.85" fill="#0a0a0a"/>
<circle cx="172.4" cy="213.9" r="1.85" fill="#0a0a0a"/>
<circle cx="174.8" cy="234.6" r="1.85" fill="#0a0a0a"/>
<circle cx="186.9" cy="151.4" r="1.75" fill="#8ccadf"/>
<circle cx="188.1" cy="162.0" r="1.75" fill="#8ccadf"/>
<circle cx="188.5" cy="165.0" r="1.75" fill="#8ccadf"/>
<circle cx="187.7" cy="168.0" r="1.75" fill="#8ccadf"/>
<circle cx="187.9" cy="171.0" r="1.75" fill="#8ccadf"/>
<circle cx="187.9" cy="174.0" r="1.75" fill="#8ccadf"/>
<circle cx="188.3" cy="177.0" r="1.75" fill="#8ccadf"/>
<circle cx="187.7" cy="180.0" r="1.75" fill="#8ccadf"/>
<circle cx="188.0" cy="183.0" r="1.75" fill="#8ccadf"/>
<circle cx="188.2" cy="186.0" r="1.75" fill="#8ccadf"/>
<circle cx="187.8" cy="189.0" r="1.75" fill="#8ccadf"/>
<circle cx="187.8" cy="192.0" r="1.75" fill="#8ccadf"/>
<circle cx="187.7" cy="195.0" r="1.75" fill="#8ccadf"/>
<circle cx="188.4" cy="198.0" r="1.75" fill="#8ccadf"/>
<circle cx="188.3" cy="201.0" r="1.75" fill="#8ccadf"/>
<circle cx="181.5" cy="204.3" r="1.75" fill="#8ccadf"/>
<circle cx="177.0" cy="213.4" r="1.75" fill="#8ccadf"/>
<circle cx="182.9" cy="202.2" r="1.75" fill="#8ccadf"/>
<circle cx="182.8" cy="212.0" r="1.75" fill="#8ccadf"/>
<circle cx="179.8" cy="211.7" r="1.75" fill="#8ccadf"/>
<circle cx="176.6" cy="239.5" r="1.75" fill="#8ccadf"/>
<circle cx="176.3" cy="231.7" r="1.75" fill="#8ccadf"/>
<circle cx="176.6" cy="221.8" r="1.75" fill="#8ccadf"/>
<circle cx="177.9" cy="239.2" r="1.75" fill="#8ccadf"/>
<circle cx="178.5" cy="233.9" r="1.75" fill="#8ccadf"/>
<circle cx="178.0" cy="228.5" r="1.75" fill="#8ccadf"/>
<circle cx="179.7" cy="239.0" r="1.75" fill="#8ccadf"/>
<circle cx="180.0" cy="236.7" r="1.75" fill="#8ccadf"/>
<circle cx="179.8" cy="234.5" r="1.75" fill="#8ccadf"/>
<circle cx="179.7" cy="231.7" r="1.75" fill="#8ccadf"/>
<circle cx="179.3" cy="228.9" r="1.75" fill="#8ccadf"/>
<circle cx="179.7" cy="221.6" r="1.75" fill="#8ccadf"/>
<circle cx="180.0" cy="217.0" r="1.75" fill="#8ccadf"/>
<circle cx="180.8" cy="233.8" r="1.75" fill="#8ccadf"/>
<circle cx="180.9" cy="231.1" r="1.75" fill="#8ccadf"/>
<circle cx="183.6" cy="234.5" r="1.75" fill="#8ccadf"/>
<circle cx="183.2" cy="231.6" r="1.75" fill="#8ccadf"/>
<circle cx="183.6" cy="229.3" r="1.75" fill="#8ccadf"/>
<circle cx="183.6" cy="226.7" r="1.75" fill="#8ccadf"/>
<circle cx="183.5" cy="224.0" r="1.75" fill="#8ccadf"/>
<circle cx="184.6" cy="238.8" r="1.75" fill="#8ccadf"/>
<circle cx="184.6" cy="234.3" r="1.75" fill="#8ccadf"/>
<circle cx="185.5" cy="236.9" r="1.75" fill="#8ccadf"/>
<circle cx="185.5" cy="231.6" r="1.75" fill="#8ccadf"/>
<circle cx="185.6" cy="229.0" r="1.75" fill="#8ccadf"/>
<circle cx="185.4" cy="226.9" r="1.75" fill="#8ccadf"/>
<circle cx="185.8" cy="224.1" r="1.75" fill="#8ccadf"/>
<circle cx="186.0" cy="221.6" r="1.75" fill="#8ccadf"/>
<circle cx="187.0" cy="236.3" r="1.75" fill="#8ccadf"/>
<circle cx="188.4" cy="239.2" r="1.75" fill="#8ccadf"/>
<circle cx="188.8" cy="236.5" r="1.75" fill="#8ccadf"/>
<circle cx="188.9" cy="234.3" r="1.75" fill="#8ccadf"/>
<circle cx="188.6" cy="231.6" r="1.75" fill="#8ccadf"/>
<circle cx="188.7" cy="229.1" r="1.75" fill="#8ccadf"/>
<circle cx="190.1" cy="236.7" r="1.75" fill="#8ccadf"/>
<circle cx="190.4" cy="231.6" r="1.75" fill="#8ccadf"/>
<circle cx="192.1" cy="239.7" r="1.75" fill="#8ccadf"/>
<circle cx="191.8" cy="236.6" r="1.75" fill="#8ccadf"/>
<circle cx="191.9" cy="234.2" r="1.75" fill="#8ccadf"/>
<circle cx="192.2" cy="232.2" r="1.75" fill="#8ccadf"/>
<circle cx="192.0" cy="229.3" r="1.75" fill="#8ccadf"/>
<circle cx="191.9" cy="226.8" r="1.75" fill="#8ccadf"/>
<circle cx="191.8" cy="218.9" r="1.75" fill="#8ccadf"/>
<circle cx="193.0" cy="239.0" r="1.75" fill="#8ccadf"/>
<circle cx="192.9" cy="231.6" r="1.75" fill="#8ccadf"/>
<circle cx="202.4" cy="137.0" r="1.75" fill="#8ccadf"/>
<circle cx="202.3" cy="186.0" r="1.75" fill="#8ccadf"/>
<circle cx="201.7" cy="189.0" r="1.75" fill="#8ccadf"/>
<circle cx="201.6" cy="192.0" r="1.75" fill="#8ccadf"/>
<circle cx="202.2" cy="195.0" r="1.75" fill="#8ccadf"/>
<circle cx="199.1" cy="198.0" r="1.75" fill="#8ccadf"/>
<circle cx="198.7" cy="201.2" r="1.75" fill="#8ccadf"/>
<circle cx="198.8" cy="204.4" r="1.75" fill="#8ccadf"/>
<circle cx="198.5" cy="207.6" r="1.75" fill="#8ccadf"/>
<circle cx="199.2" cy="210.8" r="1.75" fill="#8ccadf"/>
<circle cx="199.0" cy="214.0" r="1.75" fill="#8ccadf"/>
<circle cx="199.3" cy="217.2" r="1.75" fill="#8ccadf"/>
<circle cx="199.4" cy="220.4" r="1.75" fill="#8ccadf"/>
<circle cx="199.0" cy="223.6" r="1.75" fill="#8ccadf"/>
<circle cx="198.8" cy="226.8" r="1.75" fill="#8ccadf"/>
<circle cx="198.8" cy="230.0" r="1.75" fill="#8ccadf"/>
<circle cx="199.1" cy="233.2" r="1.75" fill="#8ccadf"/>
<circle cx="199.4" cy="236.4" r="1.75" fill="#8ccadf"/>
<circle cx="193.5" cy="239.1" r="1.75" fill="#8ccadf"/>
<circle cx="193.7" cy="236.4" r="1.75" fill="#8ccadf"/>
<circle cx="193.6" cy="231.7" r="1.75" fill="#8ccadf"/>
<circle cx="193.3" cy="224.1" r="1.75" fill="#8ccadf"/>
<circle cx="194.4" cy="234.3" r="1.75" fill="#8ccadf"/>
<circle cx="195.0" cy="228.5" r="1.75" fill="#8ccadf"/>
<circle cx="195.4" cy="239.1" r="1.75" fill="#8ccadf"/>
<circle cx="195.3" cy="234.5" r="1.75" fill="#8ccadf"/>
<circle cx="195.3" cy="231.9" r="1.75" fill="#8ccadf"/>
<circle cx="197.8" cy="234.3" r="1.75" fill="#8ccadf"/>
<circle cx="197.2" cy="231.5" r="1.75" fill="#8ccadf"/>
<circle cx="198.3" cy="236.6" r="1.75" fill="#8ccadf"/>
<circle cx="198.5" cy="232.2" r="1.75" fill="#8ccadf"/>
<circle cx="198.6" cy="229.5" r="1.75" fill="#8ccadf"/>
<circle cx="198.9" cy="221.4" r="1.75" fill="#8ccadf"/>
<circle cx="198.5" cy="219.6" r="1.75" fill="#8ccadf"/>
<circle cx="200.4" cy="234.2" r="1.75" fill="#8ccadf"/>
<circle cx="200.2" cy="231.7" r="1.75" fill="#8ccadf"/>
<circle cx="200.8" cy="229.1" r="1.75" fill="#8ccadf"/>
<circle cx="201.3" cy="239.3" r="1.75" fill="#8ccadf"/>
<circle cx="201.1" cy="237.2" r="1.75" fill="#8ccadf"/>
<circle cx="201.4" cy="219.1" r="1.75" fill="#8ccadf"/>
<circle cx="201.4" cy="214.6" r="1.75" fill="#8ccadf"/>
<circle cx="202.9" cy="236.6" r="1.75" fill="#8ccadf"/>
<circle cx="202.8" cy="231.6" r="1.75" fill="#8ccadf"/>
<circle cx="203.0" cy="229.4" r="1.75" fill="#8ccadf"/>
<circle cx="206.7" cy="192.0" r="1.85" fill="#0a0a0a"/>
<circle cx="216.8" cy="200.5" r="1.85" fill="#0a0a0a"/>
<circle cx="226.3" cy="187.3" r="1.85" fill="#0a0a0a"/>
<circle cx="225.0" cy="198.0" r="1.85" fill="#0a0a0a"/>
<circle cx="228.7" cy="200.5" r="1.85" fill="#0a0a0a"/>
<circle cx="202.5" cy="239.6" r="1.85" fill="#0a0a0a"/>
<circle cx="202.4" cy="234.5" r="1.85" fill="#0a0a0a"/>
<circle cx="202.4" cy="231.8" r="1.85" fill="#0a0a0a"/>
<circle cx="202.3" cy="229.2" r="1.85" fill="#0a0a0a"/>
<circle cx="202.4" cy="227.1" r="1.85" fill="#0a0a0a"/>
<circle cx="202.5" cy="224.6" r="1.85" fill="#0a0a0a"/>
<circle cx="202.4" cy="221.6" r="1.85" fill="#0a0a0a"/>
<circle cx="202.9" cy="219.2" r="1.85" fill="#0a0a0a"/>
<circle cx="202.8" cy="214.2" r="1.85" fill="#0a0a0a"/>
<circle cx="202.4" cy="212.1" r="1.85" fill="#0a0a0a"/>
<circle cx="203.3" cy="238.8" r="1.85" fill="#0a0a0a"/>
<circle cx="203.8" cy="231.5" r="1.85" fill="#0a0a0a"/>
<circle cx="205.0" cy="239.5" r="1.85" fill="#0a0a0a"/>
<circle cx="204.6" cy="236.7" r="1.85" fill="#0a0a0a"/>
<circle cx="204.8" cy="234.6" r="1.85" fill="#0a0a0a"/>
<circle cx="204.9" cy="229.5" r="1.85" fill="#0a0a0a"/>
<circle cx="204.9" cy="224.5" r="1.85" fill="#0a0a0a"/>
<circle cx="205.0" cy="218.9" r="1.85" fill="#0a0a0a"/>
<circle cx="206.9" cy="229.3" r="1.85" fill="#0a0a0a"/>
<circle cx="207.6" cy="239.1" r="1.85" fill="#0a0a0a"/>
<circle cx="207.5" cy="236.7" r="1.85" fill="#0a0a0a"/>
<circle cx="207.7" cy="234.6" r="1.85" fill="#0a0a0a"/>
<circle cx="207.4" cy="231.5" r="1.85" fill="#0a0a0a"/>
<circle cx="207.2" cy="229.4" r="1.85" fill="#0a0a0a"/>
<circle cx="207.2" cy="227.1" r="1.85" fill="#0a0a0a"/>
<circle cx="207.7" cy="224.6" r="1.85" fill="#0a0a0a"/>
<circle cx="207.4" cy="219.6" r="1.85" fill="#0a0a0a"/>
<circle cx="207.1" cy="216.9" r="1.85" fill="#0a0a0a"/>
<circle cx="207.7" cy="214.5" r="1.85" fill="#0a0a0a"/>
<circle cx="207.8" cy="211.8" r="1.85" fill="#0a0a0a"/>
<circle cx="207.6" cy="209.2" r="1.85" fill="#0a0a0a"/>
<circle cx="209.2" cy="239.2" r="1.85" fill="#0a0a0a"/>
<circle cx="209.0" cy="228.8" r="1.85" fill="#0a0a0a"/>
<circle cx="210.7" cy="239.4" r="1.85" fill="#0a0a0a"/>
<circle cx="210.8" cy="234.6" r="1.85" fill="#0a0a0a"/>
<circle cx="210.6" cy="232.2" r="1.85" fill="#0a0a0a"/>
<circle cx="210.5" cy="227.1" r="1.85" fill="#0a0a0a"/>
<circle cx="211.6" cy="233.9" r="1.85" fill="#0a0a0a"/>
<circle cx="212.4" cy="239.4" r="1.85" fill="#0a0a0a"/>
<circle cx="212.8" cy="237.0" r="1.85" fill="#0a0a0a"/>
<circle cx="212.3" cy="234.5" r="1.85" fill="#0a0a0a"/>
<circle cx="213.0" cy="231.7" r="1.85" fill="#0a0a0a"/>
<circle cx="212.3" cy="228.9" r="1.85" fill="#0a0a0a"/>
<circle cx="212.8" cy="226.9" r="1.85" fill="#0a0a0a"/>
<circle cx="212.4" cy="219.1" r="1.85" fill="#0a0a0a"/>
<circle cx="212.4" cy="216.8" r="1.85" fill="#0a0a0a"/>
<circle cx="212.3" cy="214.0" r="1.85" fill="#0a0a0a"/>
<circle cx="212.6" cy="209.2" r="1.85" fill="#0a0a0a"/>
<circle cx="214.5" cy="228.7" r="1.85" fill="#0a0a0a"/>
<circle cx="215.0" cy="236.8" r="1.85" fill="#0a0a0a"/>
<circle cx="214.8" cy="234.6" r="1.85" fill="#0a0a0a"/>
<circle cx="215.4" cy="231.8" r="1.85" fill="#0a0a0a"/>
<circle cx="214.9" cy="228.9" r="1.85" fill="#0a0a0a"/>
<circle cx="215.4" cy="222.1" r="1.85" fill="#0a0a0a"/>
<circle cx="215.2" cy="219.7" r="1.85" fill="#0a0a0a"/>
<circle cx="215.4" cy="216.6" r="1.85" fill="#0a0a0a"/>
<circle cx="215.3" cy="214.1" r="1.85" fill="#0a0a0a"/>
<circle cx="215.4" cy="211.8" r="1.85" fill="#0a0a0a"/>
<circle cx="214.9" cy="206.7" r="1.85" fill="#0a0a0a"/>
<circle cx="217.5" cy="239.1" r="1.85" fill="#0a0a0a"/>
<circle cx="217.1" cy="234.0" r="1.85" fill="#0a0a0a"/>
<circle cx="216.8" cy="231.1" r="1.85" fill="#0a0a0a"/>
<circle cx="218.3" cy="239.2" r="1.85" fill="#0a0a0a"/>
<circle cx="218.1" cy="237.0" r="1.85" fill="#0a0a0a"/>
<circle cx="218.1" cy="234.1" r="1.85" fill="#0a0a0a"/>
<circle cx="218.6" cy="231.8" r="1.85" fill="#0a0a0a"/>
<circle cx="218.6" cy="229.1" r="1.85" fill="#0a0a0a"/>
<circle cx="218.2" cy="226.7" r="1.85" fill="#0a0a0a"/>
<circle cx="218.4" cy="224.1" r="1.85" fill="#0a0a0a"/>
<circle cx="218.2" cy="222.1" r="1.85" fill="#0a0a0a"/>
<circle cx="218.3" cy="212.2" r="1.85" fill="#0a0a0a"/>
<circle cx="220.1" cy="236.3" r="1.85" fill="#0a0a0a"/>
<circle cx="220.4" cy="229.1" r="1.85" fill="#0a0a0a"/>
<circle cx="221.8" cy="239.5" r="1.85" fill="#0a0a0a"/>
<circle cx="222.3" cy="236.6" r="1.85" fill="#0a0a0a"/>
<circle cx="222.4" cy="234.0" r="1.85" fill="#0a0a0a"/>
<circle cx="222.3" cy="224.0" r="1.85" fill="#0a0a0a"/>
<circle cx="222.3" cy="221.7" r="1.85" fill="#0a0a0a"/>
<circle cx="222.4" cy="219.3" r="1.85" fill="#0a0a0a"/>
<circle cx="222.2" cy="217.1" r="1.85" fill="#0a0a0a"/>
<circle cx="222.0" cy="212.0" r="1.85" fill="#0a0a0a"/>
<circle cx="223.7" cy="239.3" r="1.85" fill="#0a0a0a"/>
<circle cx="223.8" cy="233.7" r="1.85" fill="#0a0a0a"/>
<circle cx="223.3" cy="231.6" r="1.85" fill="#0a0a0a"/>
<circle cx="223.6" cy="228.8" r="1.85" fill="#0a0a0a"/>
<circle cx="225.1" cy="239.3" r="1.85" fill="#0a0a0a"/>
<circle cx="225.3" cy="236.9" r="1.85" fill="#0a0a0a"/>
<circle cx="225.0" cy="234.3" r="1.85" fill="#0a0a0a"/>
<circle cx="225.0" cy="229.6" r="1.85" fill="#0a0a0a"/>
<circle cx="225.1" cy="226.9" r="1.85" fill="#0a0a0a"/>
<circle cx="225.1" cy="219.7" r="1.85" fill="#0a0a0a"/>
<circle cx="224.8" cy="214.5" r="1.85" fill="#0a0a0a"/>
<circle cx="225.2" cy="211.7" r="1.85" fill="#0a0a0a"/>
<circle cx="226.3" cy="233.9" r="1.85" fill="#0a0a0a"/>
<circle cx="226.2" cy="228.9" r="1.85" fill="#0a0a0a"/>
<circle cx="228.4" cy="239.6" r="1.85" fill="#0a0a0a"/>
<circle cx="228.3" cy="236.6" r="1.85" fill="#0a0a0a"/>
<circle cx="228.1" cy="229.0" r="1.85" fill="#0a0a0a"/>
<circle cx="228.1" cy="224.7" r="1.85" fill="#0a0a0a"/>
<circle cx="228.2" cy="221.5" r="1.85" fill="#0a0a0a"/>
<circle cx="228.0" cy="219.4" r="1.85" fill="#0a0a0a"/>
<circle cx="228.3" cy="217.0" r="1.85" fill="#0a0a0a"/>
<circle cx="228.4" cy="214.0" r="1.85" fill="#0a0a0a"/>
<circle cx="229.9" cy="236.8" r="1.85" fill="#0a0a0a"/>
<circle cx="229.8" cy="233.7" r="1.85" fill="#0a0a0a"/>
<circle cx="230.1" cy="231.7" r="1.85" fill="#0a0a0a"/>
<circle cx="230.1" cy="229.2" r="1.85" fill="#0a0a0a"/>
<circle cx="232.3" cy="156.2" r="1.85" fill="#0a0a0a"/>
<circle cx="233.5" cy="179.0" r="1.85" fill="#0a0a0a"/>
<circle cx="234.7" cy="183.7" r="1.85" fill="#0a0a0a"/>
<circle cx="238.3" cy="134.7" r="1.75" fill="#8ccadf"/>
<circle cx="237.3" cy="156.0" r="1.75" fill="#8ccadf"/>
<circle cx="236.6" cy="159.0" r="1.75" fill="#8ccadf"/>
<circle cx="236.8" cy="162.0" r="1.75" fill="#8ccadf"/>
<circle cx="237.2" cy="172.8" r="1.75" fill="#8ccadf"/>
<circle cx="235.4" cy="173.1" r="1.75" fill="#8ccadf"/>
<circle cx="236.2" cy="175.2" r="1.75" fill="#8ccadf"/>
<circle cx="237.9" cy="191.0" r="1.75" fill="#8ccadf"/>
<circle cx="237.6" cy="194.0" r="1.75" fill="#8ccadf"/>
<circle cx="237.8" cy="197.0" r="1.75" fill="#8ccadf"/>
<circle cx="238.0" cy="200.0" r="1.75" fill="#8ccadf"/>
<circle cx="237.9" cy="203.0" r="1.75" fill="#8ccadf"/>
<circle cx="237.7" cy="206.0" r="1.75" fill="#8ccadf"/>
<circle cx="237.6" cy="209.0" r="1.75" fill="#8ccadf"/>
<circle cx="237.5" cy="212.0" r="1.75" fill="#8ccadf"/>
<circle cx="238.5" cy="215.0" r="1.75" fill="#8ccadf"/>
<circle cx="238.3" cy="218.0" r="1.75" fill="#8ccadf"/>
<circle cx="237.6" cy="221.0" r="1.75" fill="#8ccadf"/>
<circle cx="238.2" cy="224.0" r="1.75" fill="#8ccadf"/>
<circle cx="238.5" cy="227.0" r="1.75" fill="#8ccadf"/>
<circle cx="238.1" cy="230.0" r="1.75" fill="#8ccadf"/>
<circle cx="237.6" cy="233.0" r="1.75" fill="#8ccadf"/>
<circle cx="238.0" cy="236.0" r="1.75" fill="#8ccadf"/>
<circle cx="237.9" cy="239.0" r="1.75" fill="#8ccadf"/>
<circle cx="232.8" cy="237.1" r="1.75" fill="#8ccadf"/>
<circle cx="232.6" cy="234.1" r="1.75" fill="#8ccadf"/>
<circle cx="232.4" cy="232.0" r="1.75" fill="#8ccadf"/>
<circle cx="232.5" cy="226.9" r="1.75" fill="#8ccadf"/>
<circle cx="232.9" cy="219.6" r="1.75" fill="#8ccadf"/>
<circle cx="232.5" cy="214.6" r="1.75" fill="#8ccadf"/>
<circle cx="234.7" cy="239.4" r="1.75" fill="#8ccadf"/>
<circle cx="235.1" cy="236.4" r="1.75" fill="#8ccadf"/>
<circle cx="234.9" cy="234.2" r="1.75" fill="#8ccadf"/>
<circle cx="235.4" cy="239.1" r="1.75" fill="#8ccadf"/>
<circle cx="235.3" cy="237.0" r="1.75" fill="#8ccadf"/>
<circle cx="235.6" cy="234.7" r="1.75" fill="#8ccadf"/>
<circle cx="235.3" cy="231.8" r="1.75" fill="#8ccadf"/>
<circle cx="235.8" cy="228.9" r="1.75" fill="#8ccadf"/>
<circle cx="237.1" cy="236.9" r="1.75" fill="#8ccadf"/>
<circle cx="237.1" cy="231.4" r="1.75" fill="#8ccadf"/>
<circle cx="238.1" cy="239.4" r="1.75" fill="#8ccadf"/>
<circle cx="237.9" cy="236.5" r="1.75" fill="#8ccadf"/>
<circle cx="238.1" cy="234.7" r="1.75" fill="#8ccadf"/>
<circle cx="240.2" cy="234.2" r="1.75" fill="#8ccadf"/>
<circle cx="240.1" cy="232.0" r="1.75" fill="#8ccadf"/>
<circle cx="240.9" cy="236.9" r="1.75" fill="#8ccadf"/>
<circle cx="240.8" cy="234.4" r="1.75" fill="#8ccadf"/>
<circle cx="241.1" cy="231.7" r="1.75" fill="#8ccadf"/>
<circle cx="241.1" cy="229.2" r="1.75" fill="#8ccadf"/>
<circle cx="240.8" cy="227.1" r="1.75" fill="#8ccadf"/>
<circle cx="240.8" cy="224.6" r="1.75" fill="#8ccadf"/>
<circle cx="240.8" cy="221.8" r="1.75" fill="#8ccadf"/>
<circle cx="241.1" cy="219.3" r="1.75" fill="#8ccadf"/>
<circle cx="241.1" cy="216.5" r="1.75" fill="#8ccadf"/>
<circle cx="241.1" cy="214.0" r="1.75" fill="#8ccadf"/>
<circle cx="240.8" cy="211.8" r="1.75" fill="#8ccadf"/>
<circle cx="243.2" cy="231.7" r="1.75" fill="#8ccadf"/>
<circle cx="243.1" cy="228.8" r="1.75" fill="#8ccadf"/>
<circle cx="243.4" cy="239.2" r="1.75" fill="#8ccadf"/>
<circle cx="243.7" cy="236.4" r="1.75" fill="#8ccadf"/>
<circle cx="243.9" cy="234.7" r="1.75" fill="#8ccadf"/>
<circle cx="243.5" cy="231.5" r="1.75" fill="#8ccadf"/>
<circle cx="244.1" cy="226.6" r="1.75" fill="#8ccadf"/>
<circle cx="245.8" cy="239.2" r="1.75" fill="#8ccadf"/>
<circle cx="245.9" cy="237.0" r="1.75" fill="#8ccadf"/>
<circle cx="245.4" cy="231.2" r="1.75" fill="#8ccadf"/>
<circle cx="257.0" cy="128.7" r="1.75" fill="#8ccadf"/>
<circle cx="257.4" cy="141.9" r="1.75" fill="#8ccadf"/>
<circle cx="249.8" cy="183.7" r="1.75" fill="#8ccadf"/>
<circle cx="257.0" cy="198.0" r="1.75" fill="#8ccadf"/>
<circle cx="255.0" cy="239.5" r="1.75" fill="#8ccadf"/>
<circle cx="255.3" cy="236.9" r="1.75" fill="#8ccadf"/>
<circle cx="254.8" cy="234.3" r="1.75" fill="#8ccadf"/>
<circle cx="254.7" cy="228.9" r="1.75" fill="#8ccadf"/>
<circle cx="255.2" cy="226.5" r="1.75" fill="#8ccadf"/>
<circle cx="254.8" cy="224.4" r="1.75" fill="#8ccadf"/>
<circle cx="254.7" cy="222.1" r="1.75" fill="#8ccadf"/>
<circle cx="255.1" cy="219.5" r="1.75" fill="#8ccadf"/>
<circle cx="254.9" cy="214.0" r="1.75" fill="#8ccadf"/>
<circle cx="255.2" cy="212.0" r="1.75" fill="#8ccadf"/>
<circle cx="254.7" cy="209.6" r="1.75" fill="#8ccadf"/>
<circle cx="256.4" cy="239.0" r="1.75" fill="#8ccadf"/>
<circle cx="256.8" cy="234.2" r="1.75" fill="#8ccadf"/>
<circle cx="256.3" cy="231.2" r="1.75" fill="#8ccadf"/>
<circle cx="257.5" cy="239.3" r="1.75" fill="#8ccadf"/>
<circle cx="257.5" cy="234.3" r="1.75" fill="#8ccadf"/>
<circle cx="257.4" cy="232.1" r="1.75" fill="#8ccadf"/>
<circle cx="257.7" cy="229.5" r="1.75" fill="#8ccadf"/>
<circle cx="257.5" cy="226.5" r="1.75" fill="#8ccadf"/>
<circle cx="257.6" cy="221.9" r="1.75" fill="#8ccadf"/>
<circle cx="257.7" cy="219.6" r="1.75" fill="#8ccadf"/>
<circle cx="257.4" cy="214.2" r="1.75" fill="#8ccadf"/>
<circle cx="257.3" cy="212.0" r="1.75" fill="#8ccadf"/>
<circle cx="257.8" cy="206.5" r="1.75" fill="#8ccadf"/>
<circle cx="259.2" cy="239.1" r="1.75" fill="#8ccadf"/>
<circle cx="259.1" cy="236.4" r="1.75" fill="#8ccadf"/>
<circle cx="259.0" cy="229.1" r="1.75" fill="#8ccadf"/>
<circle cx="245.7" cy="237.1" r="1.75" fill="#8ccadf"/>
<circle cx="245.8" cy="232.0" r="1.75" fill="#8ccadf"/>
<circle cx="247.4" cy="236.5" r="1.75" fill="#8ccadf"/>
<circle cx="247.9" cy="239.4" r="1.75" fill="#8ccadf"/>
<circle cx="248.3" cy="234.2" r="1.75" fill="#8ccadf"/>
<circle cx="249.6" cy="239.7" r="1.75" fill="#8ccadf"/>
<circle cx="249.4" cy="236.2" r="1.75" fill="#8ccadf"/>
<circle cx="249.4" cy="234.3" r="1.75" fill="#8ccadf"/>
<circle cx="249.5" cy="231.2" r="1.75" fill="#8ccadf"/>
<circle cx="250.3" cy="237.0" r="1.75" fill="#8ccadf"/>
<circle cx="250.4" cy="231.6" r="1.75" fill="#8ccadf"/>
<circle cx="250.9" cy="229.4" r="1.75" fill="#8ccadf"/>
<circle cx="250.5" cy="224.5" r="1.75" fill="#8ccadf"/>
<circle cx="252.1" cy="239.1" r="1.75" fill="#8ccadf"/>
<circle cx="251.9" cy="236.2" r="1.75" fill="#8ccadf"/>
<circle cx="252.0" cy="231.6" r="1.75" fill="#8ccadf"/>
<circle cx="252.0" cy="228.4" r="1.75" fill="#8ccadf"/>
<circle cx="254.0" cy="239.5" r="1.75" fill="#8ccadf"/>
<circle cx="253.6" cy="236.5" r="1.75" fill="#8ccadf"/>
<circle cx="254.1" cy="234.0" r="1.75" fill="#8ccadf"/>
<circle cx="253.9" cy="229.4" r="1.75" fill="#8ccadf"/>
<circle cx="254.0" cy="226.9" r="1.75" fill="#8ccadf"/>
<circle cx="254.1" cy="224.1" r="1.75" fill="#8ccadf"/>
<circle cx="255.2" cy="232.0" r="1.75" fill="#8ccadf"/>
<circle cx="254.8" cy="228.9" r="1.75" fill="#8ccadf"/>
<circle cx="260.5" cy="203.0" r="1.85" fill="#0a0a0a"/>
<circle cx="263.7" cy="182.5" r="1.85" fill="#0a0a0a"/>
<circle cx="262.6" cy="187.0" r="1.85" fill="#0a0a0a"/>
<circle cx="262.5" cy="190.0" r="1.85" fill="#0a0a0a"/>
<circle cx="263.0" cy="193.0" r="1.85" fill="#0a0a0a"/>
<circle cx="263.2" cy="196.0" r="1.85" fill="#0a0a0a"/>
<circle cx="261.6" cy="239.0" r="1.85" fill="#0a0a0a"/>
<circle cx="261.2" cy="236.4" r="1.85" fill="#0a0a0a"/>
<circle cx="261.5" cy="234.0" r="1.85" fill="#0a0a0a"/>
<circle cx="261.2" cy="229.0" r="1.85" fill="#0a0a0a"/>
<circle cx="261.7" cy="226.5" r="1.85" fill="#0a0a0a"/>
<circle cx="261.6" cy="224.1" r="1.85" fill="#0a0a0a"/>
<circle cx="261.5" cy="219.2" r="1.85" fill="#0a0a0a"/>
<circle cx="261.3" cy="214.6" r="1.85" fill="#0a0a0a"/>
<circle cx="261.6" cy="211.5" r="1.85" fill="#0a0a0a"/>
<circle cx="262.8" cy="236.3" r="1.85" fill="#0a0a0a"/>
<circle cx="262.9" cy="231.9" r="1.85" fill="#0a0a0a"/>
<circle cx="263.1" cy="239.2" r="1.85" fill="#0a0a0a"/>
<circle cx="263.2" cy="236.6" r="1.85" fill="#0a0a0a"/>
<circle cx="263.6" cy="232.0" r="1.85" fill="#0a0a0a"/>
<circle cx="263.6" cy="229.5" r="1.85" fill="#0a0a0a"/>
<circle cx="263.1" cy="224.0" r="1.85" fill="#0a0a0a"/>
<circle cx="263.5" cy="221.6" r="1.85" fill="#0a0a0a"/>
<circle cx="263.3" cy="219.7" r="1.85" fill="#0a0a0a"/>
<circle cx="262.9" cy="217.0" r="1.85" fill="#0a0a0a"/>
<circle cx="263.4" cy="209.3" r="1.85" fill="#0a0a0a"/>
<circle cx="265.0" cy="239.7" r="1.85" fill="#0a0a0a"/>
<circle cx="265.7" cy="231.1" r="1.85" fill="#0a0a0a"/>
<circle cx="265.3" cy="228.8" r="1.85" fill="#0a0a0a"/>
<circle cx="266.5" cy="239.4" r="1.85" fill="#0a0a0a"/>
<circle cx="266.3" cy="237.1" r="1.85" fill="#0a0a0a"/>
<circle cx="266.2" cy="234.4" r="1.85" fill="#0a0a0a"/>
<circle cx="266.2" cy="231.9" r="1.85" fill="#0a0a0a"/>
<circle cx="266.6" cy="229.5" r="1.85" fill="#0a0a0a"/>
<circle cx="266.7" cy="226.5" r="1.85" fill="#0a0a0a"/>
<circle cx="266.7" cy="224.7" r="1.85" fill="#0a0a0a"/>
<circle cx="266.1" cy="221.6" r="1.85" fill="#0a0a0a"/>
<circle cx="266.5" cy="219.3" r="1.85" fill="#0a0a0a"/>
<circle cx="266.7" cy="214.7" r="1.85" fill="#0a0a0a"/>
<circle cx="266.8" cy="212.1" r="1.85" fill="#0a0a0a"/>
<circle cx="267.8" cy="236.9" r="1.85" fill="#0a0a0a"/>
<circle cx="267.9" cy="234.6" r="1.85" fill="#0a0a0a"/>
<circle cx="267.8" cy="231.8" r="1.85" fill="#0a0a0a"/>
<circle cx="268.1" cy="216.9" r="1.85" fill="#0a0a0a"/>
<circle cx="271.9" cy="215.4" r="1.85" fill="#0a0a0a"/>
<circle cx="271.3" cy="216.9" r="1.85" fill="#0a0a0a"/>
<circle cx="273.9" cy="218.7" r="1.85" fill="#0a0a0a"/>
<circle cx="269.0" cy="239.2" r="1.85" fill="#0a0a0a"/>
<circle cx="268.6" cy="236.5" r="1.85" fill="#0a0a0a"/>
<circle cx="268.8" cy="232.1" r="1.85" fill="#0a0a0a"/>
<circle cx="268.8" cy="229.2" r="1.85" fill="#0a0a0a"/>
<circle cx="268.5" cy="226.5" r="1.85" fill="#0a0a0a"/>
<circle cx="270.6" cy="236.5" r="1.85" fill="#0a0a0a"/>
<circle cx="270.8" cy="228.4" r="1.85" fill="#0a0a0a"/>
<circle cx="272.4" cy="237.0" r="1.85" fill="#0a0a0a"/>
<circle cx="272.5" cy="234.2" r="1.85" fill="#0a0a0a"/>
<circle cx="272.4" cy="231.9" r="1.85" fill="#0a0a0a"/>
<circle cx="272.4" cy="229.3" r="1.85" fill="#0a0a0a"/>
<circle cx="272.4" cy="226.6" r="1.85" fill="#0a0a0a"/>
<circle cx="273.6" cy="229.3" r="1.85" fill="#0a0a0a"/>
<circle cx="282.1" cy="126.8" r="1.85" fill="#0a0a0a"/>
<circle cx="277.0" cy="153.8" r="1.85" fill="#0a0a0a"/>
<circle cx="277.0" cy="156.8" r="1.85" fill="#0a0a0a"/>
<circle cx="277.3" cy="159.8" r="1.85" fill="#0a0a0a"/>
<circle cx="276.7" cy="162.8" r="1.85" fill="#0a0a0a"/>
<circle cx="276.7" cy="165.8" r="1.85" fill="#0a0a0a"/>
<circle cx="277.3" cy="168.8" r="1.85" fill="#0a0a0a"/>
<circle cx="277.0" cy="171.8" r="1.85" fill="#0a0a0a"/>
<circle cx="279.7" cy="174.0" r="1.85" fill="#0a0a0a"/>
<circle cx="276.1" cy="182.5" r="1.85" fill="#0a0a0a"/>
<circle cx="276.3" cy="185.5" r="1.85" fill="#0a0a0a"/>
<circle cx="276.4" cy="188.5" r="1.85" fill="#0a0a0a"/>
<circle cx="276.4" cy="191.5" r="1.85" fill="#0a0a0a"/>
<circle cx="279.7" cy="198.0" r="1.85" fill="#0a0a0a"/>
<circle cx="283.3" cy="203.0" r="1.85" fill="#0a0a0a"/>
<circle cx="283.3" cy="207.7" r="1.85" fill="#0a0a0a"/>
<circle cx="275.1" cy="239.0" r="1.85" fill="#0a0a0a"/>
<circle cx="275.1" cy="236.7" r="1.85" fill="#0a0a0a"/>
<circle cx="275.4" cy="231.5" r="1.85" fill="#0a0a0a"/>
<circle cx="275.7" cy="229.5" r="1.85" fill="#0a0a0a"/>
<circle cx="275.4" cy="227.0" r="1.85" fill="#0a0a0a"/>
<circle cx="275.5" cy="221.7" r="1.85" fill="#0a0a0a"/>
<circle cx="275.2" cy="219.2" r="1.85" fill="#0a0a0a"/>
<circle cx="275.3" cy="216.4" r="1.85" fill="#0a0a0a"/>
<circle cx="275.4" cy="213.9" r="1.85" fill="#0a0a0a"/>
<circle cx="276.8" cy="239.1" r="1.85" fill="#0a0a0a"/>
<circle cx="276.4" cy="237.0" r="1.85" fill="#0a0a0a"/>
<circle cx="276.8" cy="234.5" r="1.85" fill="#0a0a0a"/>
<circle cx="276.6" cy="231.8" r="1.85" fill="#0a0a0a"/>
<circle cx="277.9" cy="239.5" r="1.85" fill="#0a0a0a"/>
<circle cx="278.3" cy="234.1" r="1.85" fill="#0a0a0a"/>
<circle cx="278.5" cy="231.5" r="1.85" fill="#0a0a0a"/>
<circle cx="278.6" cy="229.6" r="1.85" fill="#0a0a0a"/>
<circle cx="278.0" cy="226.6" r="1.85" fill="#0a0a0a"/>
<circle cx="279.6" cy="236.6" r="1.85" fill="#0a0a0a"/>
<circle cx="280.0" cy="234.2" r="1.85" fill="#0a0a0a"/>
<circle cx="279.7" cy="229.3" r="1.85" fill="#0a0a0a"/>
<circle cx="281.4" cy="236.8" r="1.85" fill="#0a0a0a"/>
<circle cx="281.6" cy="231.7" r="1.85" fill="#0a0a0a"/>
<circle cx="281.6" cy="229.3" r="1.85" fill="#0a0a0a"/>
<circle cx="281.2" cy="221.5" r="1.85" fill="#0a0a0a"/>
<circle cx="281.1" cy="217.0" r="1.85" fill="#0a0a0a"/>
<circle cx="281.1" cy="214.4" r="1.85" fill="#0a0a0a"/>
<circle cx="283.2" cy="234.0" r="1.85" fill="#0a0a0a"/>
<circle cx="283.5" cy="238.9" r="1.85" fill="#0a0a0a"/>
<circle cx="283.3" cy="234.2" r="1.85" fill="#0a0a0a"/>
<circle cx="283.7" cy="231.8" r="1.85" fill="#0a0a0a"/>
<circle cx="283.4" cy="228.9" r="1.85" fill="#0a0a0a"/>
<circle cx="283.8" cy="227.0" r="1.85" fill="#0a0a0a"/>
<circle cx="285.2" cy="238.9" r="1.85" fill="#0a0a0a"/>
<circle cx="285.4" cy="234.1" r="1.85" fill="#0a0a0a"/>
<circle cx="285.7" cy="228.6" r="1.85" fill="#0a0a0a"/>
<circle cx="285.2" cy="116.7" r="1.75" fill="#8ccadf"/>
<circle cx="284.5" cy="119.7" r="1.75" fill="#8ccadf"/>
<circle cx="284.6" cy="122.7" r="1.75" fill="#8ccadf"/>
<circle cx="285.5" cy="125.7" r="1.75" fill="#8ccadf"/>
<circle cx="285.3" cy="128.7" r="1.75" fill="#8ccadf"/>
<circle cx="284.5" cy="131.7" r="1.75" fill="#8ccadf"/>
<circle cx="284.7" cy="134.7" r="1.75" fill="#8ccadf"/>
<circle cx="284.9" cy="137.7" r="1.75" fill="#8ccadf"/>
<circle cx="284.7" cy="140.7" r="1.75" fill="#8ccadf"/>
<circle cx="284.7" cy="143.7" r="1.75" fill="#8ccadf"/>
<circle cx="285.5" cy="146.7" r="1.75" fill="#8ccadf"/>
<circle cx="285.1" cy="149.7" r="1.75" fill="#8ccadf"/>
<circle cx="284.9" cy="152.7" r="1.75" fill="#8ccadf"/>
<circle cx="289.5" cy="173.7" r="1.75" fill="#8ccadf"/>
<circle cx="288.4" cy="173.5" r="1.75" fill="#8ccadf"/>
<circle cx="289.7" cy="173.0" r="1.75" fill="#8ccadf"/>
<circle cx="288.3" cy="180.2" r="1.75" fill="#8ccadf"/>
<circle cx="286.8" cy="160.0" r="1.75" fill="#8ccadf"/>
<circle cx="286.5" cy="163.0" r="1.75" fill="#8ccadf"/>
<circle cx="286.0" cy="166.0" r="1.75" fill="#8ccadf"/>
<circle cx="286.7" cy="169.0" r="1.75" fill="#8ccadf"/>
<circle cx="286.7" cy="172.0" r="1.75" fill="#8ccadf"/>
<circle cx="286.2" cy="175.0" r="1.75" fill="#8ccadf"/>
<circle cx="286.2" cy="178.0" r="1.75" fill="#8ccadf"/>
<circle cx="286.7" cy="181.0" r="1.75" fill="#8ccadf"/>
<circle cx="286.7" cy="184.0" r="1.75" fill="#8ccadf"/>
<circle cx="286.8" cy="187.0" r="1.75" fill="#8ccadf"/>
<circle cx="286.5" cy="190.0" r="1.75" fill="#8ccadf"/>
<circle cx="286.2" cy="193.0" r="1.75" fill="#8ccadf"/>
<circle cx="286.8" cy="196.0" r="1.75" fill="#8ccadf"/>
<circle cx="286.7" cy="199.0" r="1.75" fill="#8ccadf"/>
<circle cx="286.5" cy="202.0" r="1.75" fill="#8ccadf"/>
<circle cx="286.5" cy="205.0" r="1.75" fill="#8ccadf"/>
<circle cx="286.2" cy="208.0" r="1.75" fill="#8ccadf"/>
<circle cx="286.1" cy="211.0" r="1.75" fill="#8ccadf"/>
<circle cx="286.1" cy="214.0" r="1.75" fill="#8ccadf"/>
<circle cx="286.2" cy="217.0" r="1.75" fill="#8ccadf"/>
<circle cx="286.8" cy="220.0" r="1.75" fill="#8ccadf"/>
<circle cx="286.7" cy="223.0" r="1.75" fill="#8ccadf"/>
<circle cx="286.4" cy="226.0" r="1.75" fill="#8ccadf"/>
<circle cx="286.4" cy="229.0" r="1.75" fill="#8ccadf"/>
<circle cx="286.9" cy="232.0" r="1.75" fill="#8ccadf"/>
<circle cx="286.9" cy="235.0" r="1.75" fill="#8ccadf"/>
<circle cx="286.1" cy="238.0" r="1.75" fill="#8ccadf"/>
<circle cx="289.7" cy="171.0" r="1.75" fill="#8ccadf"/>
<circle cx="289.9" cy="174.0" r="1.75" fill="#8ccadf"/>
<circle cx="290.3" cy="177.0" r="1.75" fill="#8ccadf"/>
<circle cx="290.4" cy="180.0" r="1.75" fill="#8ccadf"/>
<circle cx="290.3" cy="183.0" r="1.75" fill="#8ccadf"/>
<circle cx="290.2" cy="186.0" r="1.75" fill="#8ccadf"/>
<circle cx="290.2" cy="189.0" r="1.75" fill="#8ccadf"/>
<circle cx="289.8" cy="192.0" r="1.75" fill="#8ccadf"/>
<circle cx="289.8" cy="195.0" r="1.75" fill="#8ccadf"/>
<circle cx="290.0" cy="198.0" r="1.75" fill="#8ccadf"/>
<circle cx="289.7" cy="201.0" r="1.75" fill="#8ccadf"/>
<circle cx="290.4" cy="204.0" r="1.75" fill="#8ccadf"/>
<circle cx="290.2" cy="207.0" r="1.75" fill="#8ccadf"/>
<circle cx="289.7" cy="210.0" r="1.75" fill="#8ccadf"/>
<circle cx="290.5" cy="213.0" r="1.75" fill="#8ccadf"/>
<circle cx="289.8" cy="216.0" r="1.75" fill="#8ccadf"/>
<circle cx="289.7" cy="219.0" r="1.75" fill="#8ccadf"/>
<circle cx="289.8" cy="222.0" r="1.75" fill="#8ccadf"/>
<circle cx="290.2" cy="225.0" r="1.75" fill="#8ccadf"/>
<circle cx="290.2" cy="228.0" r="1.75" fill="#8ccadf"/>
<circle cx="289.7" cy="231.0" r="1.75" fill="#8ccadf"/>
<circle cx="289.6" cy="234.0" r="1.75" fill="#8ccadf"/>
<circle cx="289.7" cy="237.0" r="1.75" fill="#8ccadf"/>
<circle cx="284.5" cy="239.1" r="1.75" fill="#8ccadf"/>
<circle cx="284.5" cy="236.5" r="1.75" fill="#8ccadf"/>
<circle cx="284.1" cy="234.5" r="1.75" fill="#8ccadf"/>
<circle cx="284.3" cy="226.6" r="1.75" fill="#8ccadf"/>
<circle cx="284.6" cy="224.1" r="1.75" fill="#8ccadf"/>
<circle cx="284.6" cy="222.0" r="1.75" fill="#8ccadf"/>
<circle cx="284.3" cy="216.9" r="1.75" fill="#8ccadf"/>
<circle cx="284.1" cy="214.1" r="1.75" fill="#8ccadf"/>
<circle cx="284.3" cy="211.5" r="1.75" fill="#8ccadf"/>
<circle cx="284.4" cy="209.2" r="1.75" fill="#8ccadf"/>
<circle cx="284.2" cy="207.1" r="1.75" fill="#8ccadf"/>
<circle cx="284.6" cy="199.0" r="1.75" fill="#8ccadf"/>
<circle cx="284.4" cy="196.4" r="1.75" fill="#8ccadf"/>
<circle cx="286.6" cy="239.2" r="1.75" fill="#8ccadf"/>
<circle cx="286.8" cy="233.7" r="1.75" fill="#8ccadf"/>
<circle cx="288.6" cy="239.6" r="1.75" fill="#8ccadf"/>
<circle cx="288.1" cy="236.5" r="1.75" fill="#8ccadf"/>
<circle cx="288.3" cy="231.8" r="1.75" fill="#8ccadf"/>
<circle cx="288.3" cy="229.0" r="1.75" fill="#8ccadf"/>
<circle cx="288.3" cy="226.7" r="1.75" fill="#8ccadf"/>
<circle cx="288.3" cy="224.1" r="1.75" fill="#8ccadf"/>
<circle cx="288.2" cy="222.1" r="1.75" fill="#8ccadf"/>
<circle cx="288.6" cy="218.9" r="1.75" fill="#8ccadf"/>
<circle cx="288.5" cy="214.4" r="1.75" fill="#8ccadf"/>
<circle cx="288.2" cy="212.0" r="1.75" fill="#8ccadf"/>
<circle cx="288.2" cy="208.9" r="1.75" fill="#8ccadf"/>
<circle cx="288.4" cy="206.6" r="1.75" fill="#8ccadf"/>
<circle cx="288.4" cy="201.6" r="1.75" fill="#8ccadf"/>
<circle cx="288.5" cy="199.5" r="1.75" fill="#8ccadf"/>
<circle cx="288.2" cy="196.9" r="1.75" fill="#8ccadf"/>
<circle cx="289.6" cy="239.5" r="1.75" fill="#8ccadf"/>
<circle cx="289.7" cy="234.1" r="1.75" fill="#8ccadf"/>
<circle cx="289.9" cy="228.8" r="1.75" fill="#8ccadf"/>
<circle cx="291.6" cy="239.0" r="1.75" fill="#8ccadf"/>
<circle cx="291.8" cy="236.6" r="1.75" fill="#8ccadf"/>
<circle cx="291.7" cy="231.5" r="1.75" fill="#8ccadf"/>
<circle cx="291.9" cy="228.9" r="1.75" fill="#8ccadf"/>
<circle cx="291.5" cy="226.5" r="1.75" fill="#8ccadf"/>
<circle cx="291.3" cy="224.6" r="1.75" fill="#8ccadf"/>
<circle cx="291.5" cy="221.7" r="1.75" fill="#8ccadf"/>
<circle cx="291.9" cy="219.4" r="1.75" fill="#8ccadf"/>
<circle cx="291.8" cy="214.3" r="1.75" fill="#8ccadf"/>
<circle cx="291.7" cy="211.6" r="1.75" fill="#8ccadf"/>
<circle cx="291.6" cy="209.5" r="1.75" fill="#8ccadf"/>
<circle cx="291.4" cy="206.7" r="1.75" fill="#8ccadf"/>
<circle cx="291.9" cy="204.3" r="1.75" fill="#8ccadf"/>
<circle cx="291.7" cy="199.4" r="1.75" fill="#8ccadf"/>
<circle cx="291.8" cy="197.0" r="1.75" fill="#8ccadf"/>
<circle cx="293.0" cy="236.8" r="1.75" fill="#8ccadf"/>
<circle cx="295.7" cy="120.0" r="1.75" fill="#8ccadf"/>
<circle cx="295.7" cy="124.0" r="1.75" fill="#8ccadf"/>
<circle cx="295.7" cy="138.0" r="1.75" fill="#8ccadf"/>
<circle cx="295.7" cy="142.0" r="1.75" fill="#8ccadf"/>
<circle cx="295.6" cy="176.6" r="1.75" fill="#8ccadf"/>
<circle cx="296.0" cy="179.6" r="1.75" fill="#8ccadf"/>
<circle cx="296.0" cy="182.6" r="1.75" fill="#8ccadf"/>
<circle cx="295.9" cy="185.6" r="1.75" fill="#8ccadf"/>
<circle cx="296.1" cy="188.6" r="1.75" fill="#8ccadf"/>
<circle cx="296.0" cy="191.6" r="1.75" fill="#8ccadf"/>
<circle cx="295.6" cy="194.6" r="1.75" fill="#8ccadf"/>
<circle cx="295.3" cy="197.6" r="1.75" fill="#8ccadf"/>
<circle cx="295.9" cy="200.6" r="1.75" fill="#8ccadf"/>
<circle cx="296.0" cy="203.6" r="1.75" fill="#8ccadf"/>
<circle cx="295.5" cy="206.6" r="1.75" fill="#8ccadf"/>
<circle cx="295.8" cy="209.6" r="1.75" fill="#8ccadf"/>
<circle cx="296.0" cy="212.6" r="1.75" fill="#8ccadf"/>
<circle cx="296.0" cy="215.6" r="1.75" fill="#8ccadf"/>
<circle cx="295.2" cy="218.6" r="1.75" fill="#8ccadf"/>
<circle cx="295.7" cy="221.6" r="1.75" fill="#8ccadf"/>
<circle cx="295.2" cy="224.6" r="1.75" fill="#8ccadf"/>
<circle cx="295.3" cy="227.6" r="1.75" fill="#8ccadf"/>
<circle cx="296.0" cy="230.6" r="1.75" fill="#8ccadf"/>
<circle cx="295.6" cy="233.6" r="1.75" fill="#8ccadf"/>
<circle cx="295.8" cy="236.6" r="1.75" fill="#8ccadf"/>
<circle cx="292.5" cy="239.4" r="1.75" fill="#8ccadf"/>
<circle cx="292.0" cy="236.6" r="1.75" fill="#8ccadf"/>
<circle cx="292.4" cy="232.0" r="1.75" fill="#8ccadf"/>
<circle cx="292.4" cy="228.9" r="1.75" fill="#8ccadf"/>
<circle cx="292.1" cy="224.7" r="1.75" fill="#8ccadf"/>
<circle cx="292.1" cy="222.1" r="1.75" fill="#8ccadf"/>
<circle cx="292.3" cy="214.7" r="1.75" fill="#8ccadf"/>
<circle cx="292.6" cy="211.6" r="1.75" fill="#8ccadf"/>
<circle cx="292.3" cy="206.4" r="1.75" fill="#8ccadf"/>
<circle cx="292.6" cy="204.3" r="1.75" fill="#8ccadf"/>
<circle cx="294.0" cy="236.3" r="1.75" fill="#8ccadf"/>
<circle cx="296.1" cy="239.3" r="1.75" fill="#8ccadf"/>
<circle cx="296.0" cy="236.6" r="1.75" fill="#8ccadf"/>
<circle cx="296.3" cy="234.4" r="1.75" fill="#8ccadf"/>
<circle cx="296.3" cy="226.8" r="1.75" fill="#8ccadf"/>
<circle cx="296.5" cy="222.1" r="1.75" fill="#8ccadf"/>
<circle cx="296.1" cy="219.1" r="1.75" fill="#8ccadf"/>
<circle cx="296.0" cy="216.9" r="1.75" fill="#8ccadf"/>
<circle cx="296.5" cy="214.3" r="1.75" fill="#8ccadf"/>
<circle cx="296.5" cy="211.6" r="1.75" fill="#8ccadf"/>
<circle cx="296.5" cy="209.3" r="1.75" fill="#8ccadf"/>
<circle cx="296.3" cy="204.7" r="1.75" fill="#8ccadf"/>
<circle cx="297.8" cy="238.8" r="1.75" fill="#8ccadf"/>
<circle cx="297.2" cy="234.6" r="1.75" fill="#8ccadf"/>
<circle cx="300.2" cy="188.5" r="1.75" fill="#8ccadf"/>
<circle cx="299.8" cy="191.5" r="1.75" fill="#8ccadf"/>
<circle cx="299.7" cy="194.5" r="1.75" fill="#8ccadf"/>
<circle cx="300.1" cy="197.5" r="1.75" fill="#8ccadf"/>
<circle cx="300.3" cy="200.5" r="1.75" fill="#8ccadf"/>
<circle cx="300.3" cy="203.5" r="1.75" fill="#8ccadf"/>
<circle cx="299.8" cy="206.5" r="1.75" fill="#8ccadf"/>
<circle cx="299.6" cy="209.5" r="1.75" fill="#8ccadf"/>
<circle cx="300.0" cy="212.5" r="1.75" fill="#8ccadf"/>
<circle cx="300.4" cy="215.5" r="1.75" fill="#8ccadf"/>
<circle cx="299.7" cy="218.5" r="1.75" fill="#8ccadf"/>
<circle cx="300.2" cy="221.5" r="1.75" fill="#8ccadf"/>
<circle cx="299.7" cy="224.5" r="1.75" fill="#8ccadf"/>
<circle cx="299.8" cy="227.5" r="1.75" fill="#8ccadf"/>
<circle cx="299.6" cy="230.5" r="1.75" fill="#8ccadf"/>
<circle cx="299.8" cy="233.5" r="1.75" fill="#8ccadf"/>
<circle cx="299.9" cy="236.5" r="1.75" fill="#8ccadf"/>
<circle cx="299.2" cy="239.1" r="1.75" fill="#8ccadf"/>
<circle cx="298.8" cy="236.5" r="1.75" fill="#8ccadf"/>
<circle cx="298.8" cy="234.2" r="1.75" fill="#8ccadf"/>
<circle cx="298.6" cy="229.6" r="1.75" fill="#8ccadf"/>
<circle cx="299.1" cy="226.9" r="1.75" fill="#8ccadf"/>
<circle cx="300.5" cy="239.6" r="1.75" fill="#8ccadf"/>
<circle cx="302.6" cy="239.6" r="1.75" fill="#8ccadf"/>
<circle cx="302.3" cy="236.4" r="1.75" fill="#8ccadf"/>
<circle cx="302.5" cy="234.1" r="1.75" fill="#8ccadf"/>
<circle cx="302.7" cy="229.6" r="1.75" fill="#8ccadf"/>
<circle cx="302.4" cy="224.6" r="1.75" fill="#8ccadf"/>
<circle cx="302.2" cy="214.5" r="1.75" fill="#8ccadf"/>
<circle cx="302.3" cy="209.6" r="1.75" fill="#8ccadf"/>
<circle cx="304.1" cy="229.1" r="1.75" fill="#8ccadf"/>
<circle cx="308.4" cy="169.4" r="1.85" fill="#0a0a0a"/>
<circle cx="310.8" cy="176.6" r="1.85" fill="#0a0a0a"/>
<circle cx="310.8" cy="183.7" r="1.85" fill="#0a0a0a"/>
<circle cx="313.0" cy="194.5" r="1.85" fill="#0a0a0a"/>
<circle cx="313.0" cy="198.0" r="1.85" fill="#0a0a0a"/>
<circle cx="308.0" cy="210.0" r="1.85" fill="#0a0a0a"/>
<circle cx="305.2" cy="236.5" r="1.85" fill="#0a0a0a"/>
<circle cx="305.3" cy="234.6" r="1.85" fill="#0a0a0a"/>
<circle cx="305.4" cy="231.7" r="1.85" fill="#0a0a0a"/>
<circle cx="305.1" cy="229.6" r="1.85" fill="#0a0a0a"/>
<circle cx="305.4" cy="222.0" r="1.85" fill="#0a0a0a"/>
<circle cx="305.6" cy="219.6" r="1.85" fill="#0a0a0a"/>
<circle cx="306.9" cy="231.7" r="1.85" fill="#0a0a0a"/>
<circle cx="308.4" cy="239.4" r="1.85" fill="#0a0a0a"/>
<circle cx="308.3" cy="234.4" r="1.85" fill="#0a0a0a"/>
<circle cx="308.1" cy="229.3" r="1.85" fill="#0a0a0a"/>
<circle cx="308.7" cy="226.6" r="1.85" fill="#0a0a0a"/>
<circle cx="308.6" cy="224.3" r="1.85" fill="#0a0a0a"/>
<circle cx="308.7" cy="221.9" r="1.85" fill="#0a0a0a"/>
<circle cx="309.8" cy="236.7" r="1.85" fill="#0a0a0a"/>
<circle cx="310.1" cy="232.0" r="1.85" fill="#0a0a0a"/>
<circle cx="311.5" cy="239.5" r="1.85" fill="#0a0a0a"/>
<circle cx="310.9" cy="237.0" r="1.85" fill="#0a0a0a"/>
<circle cx="311.2" cy="234.2" r="1.85" fill="#0a0a0a"/>
<circle cx="311.3" cy="232.0" r="1.85" fill="#0a0a0a"/>
<circle cx="311.2" cy="229.3" r="1.85" fill="#0a0a0a"/>
<circle cx="311.0" cy="227.1" r="1.85" fill="#0a0a0a"/>
<circle cx="311.6" cy="216.5" r="1.85" fill="#0a0a0a"/>
<circle cx="311.0" cy="214.3" r="1.85" fill="#0a0a0a"/>
<circle cx="312.4" cy="233.8" r="1.85" fill="#0a0a0a"/>
<circle cx="312.4" cy="231.2" r="1.85" fill="#0a0a0a"/>
<circle cx="317.9" cy="181.0" r="1.85" fill="#0a0a0a"/>
<circle cx="317.7" cy="184.0" r="1.85" fill="#0a0a0a"/>
<circle cx="318.2" cy="187.0" r="1.85" fill="#0a0a0a"/>
<circle cx="317.7" cy="190.0" r="1.85" fill="#0a0a0a"/>
<circle cx="317.8" cy="193.0" r="1.85" fill="#0a0a0a"/>
<circle cx="327.6" cy="174.0" r="1.85" fill="#0a0a0a"/>
<circle cx="327.7" cy="177.0" r="1.85" fill="#0a0a0a"/>
<circle cx="328.0" cy="180.0" r="1.85" fill="#0a0a0a"/>
<circle cx="327.7" cy="183.0" r="1.85" fill="#0a0a0a"/>
<circle cx="327.9" cy="186.0" r="1.85" fill="#0a0a0a"/>
<circle cx="327.9" cy="189.0" r="1.85" fill="#0a0a0a"/>
<circle cx="327.7" cy="192.0" r="1.85" fill="#0a0a0a"/>
<circle cx="327.7" cy="195.0" r="1.85" fill="#0a0a0a"/>
<circle cx="327.1" cy="198.0" r="1.85" fill="#0a0a0a"/>
<circle cx="317.2" cy="239.1" r="1.85" fill="#0a0a0a"/>
<circle cx="316.9" cy="236.9" r="1.85" fill="#0a0a0a"/>
<circle cx="316.8" cy="231.5" r="1.85" fill="#0a0a0a"/>
<circle cx="317.4" cy="229.5" r="1.85" fill="#0a0a0a"/>
<circle cx="316.8" cy="226.5" r="1.85" fill="#0a0a0a"/>
<circle cx="317.3" cy="224.3" r="1.85" fill="#0a0a0a"/>
<circle cx="317.3" cy="214.0" r="1.85" fill="#0a0a0a"/>
<circle cx="317.2" cy="211.8" r="1.85" fill="#0a0a0a"/>
<circle cx="318.1" cy="238.8" r="1.85" fill="#0a0a0a"/>
<circle cx="320.6" cy="239.2" r="1.85" fill="#0a0a0a"/>
<circle cx="320.1" cy="237.0" r="1.85" fill="#0a0a0a"/>
<circle cx="320.0" cy="234.6" r="1.85" fill="#0a0a0a"/>
<circle cx="320.6" cy="229.1" r="1.85" fill="#0a0a0a"/>
<circle cx="320.7" cy="227.1" r="1.85" fill="#0a0a0a"/>
<circle cx="320.4" cy="224.3" r="1.85" fill="#0a0a0a"/>
<circle cx="321.5" cy="236.6" r="1.85" fill="#0a0a0a"/>
<circle cx="322.0" cy="231.9" r="1.85" fill="#0a0a0a"/>
<circle cx="321.8" cy="229.3" r="1.85" fill="#0a0a0a"/>
<circle cx="323.9" cy="239.0" r="1.85" fill="#0a0a0a"/>
<circle cx="323.9" cy="237.2" r="1.85" fill="#0a0a0a"/>
<circle cx="323.6" cy="234.6" r="1.85" fill="#0a0a0a"/>
<circle cx="323.3" cy="231.8" r="1.85" fill="#0a0a0a"/>
<circle cx="323.8" cy="229.5" r="1.85" fill="#0a0a0a"/>
<circle cx="323.7" cy="224.5" r="1.85" fill="#0a0a0a"/>
<circle cx="323.8" cy="221.9" r="1.85" fill="#0a0a0a"/>
<circle cx="325.5" cy="239.0" r="1.85" fill="#0a0a0a"/>
<circle cx="325.1" cy="236.6" r="1.85" fill="#0a0a0a"/>
<circle cx="325.8" cy="236.4" r="1.85" fill="#0a0a0a"/>
<circle cx="325.8" cy="234.7" r="1.85" fill="#0a0a0a"/>
<circle cx="325.9" cy="232.0" r="1.85" fill="#0a0a0a"/>
<circle cx="326.1" cy="229.0" r="1.85" fill="#0a0a0a"/>
<circle cx="327.8" cy="234.2" r="1.85" fill="#0a0a0a"/>
<circle cx="311.0" cy="215.0" r="1.85" fill="#0a0a0a"/>
<circle cx="329.1" cy="101.1" r="1.85" fill="#0a0a0a"/>
<circle cx="329.1" cy="105.2" r="1.85" fill="#0a0a0a"/>
<circle cx="329.2" cy="167.0" r="1.75" fill="#8ccadf"/>
<circle cx="329.2" cy="170.0" r="1.75" fill="#8ccadf"/>
<circle cx="329.1" cy="173.0" r="1.75" fill="#8ccadf"/>
<circle cx="329.0" cy="176.0" r="1.75" fill="#8ccadf"/>
<circle cx="329.2" cy="179.0" r="1.75" fill="#8ccadf"/>
<circle cx="329.1" cy="182.0" r="1.75" fill="#8ccadf"/>
<circle cx="328.7" cy="185.0" r="1.75" fill="#8ccadf"/>
<circle cx="328.7" cy="188.0" r="1.75" fill="#8ccadf"/>
<circle cx="329.0" cy="191.0" r="1.75" fill="#8ccadf"/>
<circle cx="329.3" cy="194.0" r="1.75" fill="#8ccadf"/>
<circle cx="328.7" cy="197.0" r="1.75" fill="#8ccadf"/>
<circle cx="329.2" cy="200.0" r="1.75" fill="#8ccadf"/>
<circle cx="329.2" cy="203.0" r="1.75" fill="#8ccadf"/>
<circle cx="329.2" cy="206.0" r="1.75" fill="#8ccadf"/>
<circle cx="329.5" cy="209.0" r="1.75" fill="#8ccadf"/>
<circle cx="329.1" cy="212.0" r="1.75" fill="#8ccadf"/>
<circle cx="328.6" cy="215.0" r="1.75" fill="#8ccadf"/>
<circle cx="329.0" cy="218.0" r="1.75" fill="#8ccadf"/>
<circle cx="329.2" cy="221.0" r="1.75" fill="#8ccadf"/>
<circle cx="328.6" cy="224.0" r="1.75" fill="#8ccadf"/>
<circle cx="328.7" cy="227.0" r="1.75" fill="#8ccadf"/>
<circle cx="329.4" cy="230.0" r="1.75" fill="#8ccadf"/>
<circle cx="329.5" cy="233.0" r="1.75" fill="#8ccadf"/>
<circle cx="328.6" cy="236.0" r="1.75" fill="#8ccadf"/>
<circle cx="328.8" cy="239.0" r="1.75" fill="#8ccadf"/>
<circle cx="327.7" cy="239.1" r="1.75" fill="#8ccadf"/>
<circle cx="327.5" cy="236.9" r="1.75" fill="#8ccadf"/>
<circle cx="327.8" cy="232.2" r="1.75" fill="#8ccadf"/>
<circle cx="327.7" cy="227.0" r="1.75" fill="#8ccadf"/>
<circle cx="327.5" cy="221.4" r="1.75" fill="#8ccadf"/>
<circle cx="328.2" cy="214.5" r="1.75" fill="#8ccadf"/>
<circle cx="327.9" cy="211.6" r="1.75" fill="#8ccadf"/>
<circle cx="327.6" cy="209.5" r="1.75" fill="#8ccadf"/>
<circle cx="327.8" cy="204.0" r="1.75" fill="#8ccadf"/>
<circle cx="328.2" cy="201.9" r="1.75" fill="#8ccadf"/>
<circle cx="329.7" cy="228.4" r="1.75" fill="#8ccadf"/>
<circle cx="330.5" cy="238.9" r="1.75" fill="#8ccadf"/>
<circle cx="330.2" cy="234.0" r="1.75" fill="#8ccadf"/>
<circle cx="330.0" cy="232.1" r="1.75" fill="#8ccadf"/>
<circle cx="330.2" cy="229.0" r="1.75" fill="#8ccadf"/>
<circle cx="330.3" cy="226.6" r="1.75" fill="#8ccadf"/>
<circle cx="330.4" cy="224.1" r="1.75" fill="#8ccadf"/>
<circle cx="330.5" cy="216.9" r="1.75" fill="#8ccadf"/>
<circle cx="330.5" cy="212.1" r="1.75" fill="#8ccadf"/>
<circle cx="330.0" cy="207.2" r="1.75" fill="#8ccadf"/>
<circle cx="332.2" cy="236.5" r="1.75" fill="#8ccadf"/>
<circle cx="331.7" cy="234.6" r="1.75" fill="#8ccadf"/>
<circle cx="332.2" cy="231.6" r="1.75" fill="#8ccadf"/>
<circle cx="342.2" cy="174.0" r="1.75" fill="#8ccadf"/>
<circle cx="342.1" cy="177.0" r="1.75" fill="#8ccadf"/>
<circle cx="342.2" cy="180.0" r="1.75" fill="#8ccadf"/>
<circle cx="341.8" cy="183.0" r="1.75" fill="#8ccadf"/>
<circle cx="341.6" cy="186.0" r="1.75" fill="#8ccadf"/>
<circle cx="341.6" cy="189.0" r="1.75" fill="#8ccadf"/>
<circle cx="341.5" cy="192.0" r="1.75" fill="#8ccadf"/>
<circle cx="341.9" cy="195.0" r="1.75" fill="#8ccadf"/>
<circle cx="341.6" cy="198.0" r="1.75" fill="#8ccadf"/>
<circle cx="341.6" cy="201.0" r="1.75" fill="#8ccadf"/>
<circle cx="342.0" cy="204.0" r="1.75" fill="#8ccadf"/>
<circle cx="342.5" cy="207.0" r="1.75" fill="#8ccadf"/>
<circle cx="342.2" cy="210.0" r="1.75" fill="#8ccadf"/>
<circle cx="341.8" cy="213.0" r="1.75" fill="#8ccadf"/>
<circle cx="342.3" cy="216.0" r="1.75" fill="#8ccadf"/>
<circle cx="341.7" cy="219.0" r="1.75" fill="#8ccadf"/>
<circle cx="341.6" cy="222.0" r="1.75" fill="#8ccadf"/>
<circle cx="341.8" cy="225.0" r="1.75" fill="#8ccadf"/>
<circle cx="341.9" cy="228.0" r="1.75" fill="#8ccadf"/>
<circle cx="342.2" cy="231.0" r="1.75" fill="#8ccadf"/>
<circle cx="341.9" cy="234.0" r="1.75" fill="#8ccadf"/>
<circle cx="342.2" cy="237.0" r="1.75" fill="#8ccadf"/>
<circle cx="332.2" cy="236.6" r="1.75" fill="#8ccadf"/>
<circle cx="331.6" cy="226.6" r="1.75" fill="#8ccadf"/>
<circle cx="333.8" cy="239.4" r="1.75" fill="#8ccadf"/>
<circle cx="333.4" cy="233.7" r="1.75" fill="#8ccadf"/>
<circle cx="333.8" cy="229.0" r="1.75" fill="#8ccadf"/>
<circle cx="335.0" cy="239.6" r="1.75" fill="#8ccadf"/>
<circle cx="334.7" cy="236.5" r="1.75" fill="#8ccadf"/>
<circle cx="334.9" cy="234.2" r="1.75" fill="#8ccadf"/>
<circle cx="334.8" cy="232.1" r="1.75" fill="#8ccadf"/>
<circle cx="334.9" cy="227.1" r="1.75" fill="#8ccadf"/>
<circle cx="334.8" cy="224.6" r="1.75" fill="#8ccadf"/>
<circle cx="335.0" cy="216.6" r="1.75" fill="#8ccadf"/>
<circle cx="334.4" cy="214.2" r="1.75" fill="#8ccadf"/>
<circle cx="334.6" cy="211.8" r="1.75" fill="#8ccadf"/>
<circle cx="334.4" cy="209.3" r="1.75" fill="#8ccadf"/>
<circle cx="334.6" cy="206.8" r="1.75" fill="#8ccadf"/>
<circle cx="336.3" cy="231.3" r="1.75" fill="#8ccadf"/>
<circle cx="337.6" cy="239.5" r="1.75" fill="#8ccadf"/>
<circle cx="338.0" cy="237.2" r="1.75" fill="#8ccadf"/>
<circle cx="338.1" cy="231.8" r="1.75" fill="#8ccadf"/>
<circle cx="337.5" cy="229.6" r="1.75" fill="#8ccadf"/>
<circle cx="337.5" cy="226.6" r="1.75" fill="#8ccadf"/>
<circle cx="339.3" cy="233.9" r="1.75" fill="#8ccadf"/>
<circle cx="339.4" cy="231.4" r="1.75" fill="#8ccadf"/>
<circle cx="339.7" cy="228.9" r="1.75" fill="#8ccadf"/>
<circle cx="340.8" cy="233.9" r="1.75" fill="#8ccadf"/>
<circle cx="340.5" cy="224.2" r="1.75" fill="#8ccadf"/>
<circle cx="340.3" cy="219.6" r="1.75" fill="#8ccadf"/>
<circle cx="342.1" cy="239.5" r="1.75" fill="#8ccadf"/>
<circle cx="342.5" cy="231.8" r="1.75" fill="#8ccadf"/>
<circle cx="342.0" cy="228.6" r="1.75" fill="#8ccadf"/>
<circle cx="343.4" cy="239.1" r="1.75" fill="#8ccadf"/>
<circle cx="343.1" cy="237.2" r="1.75" fill="#8ccadf"/>
<circle cx="343.4" cy="234.4" r="1.75" fill="#8ccadf"/>
<circle cx="343.3" cy="231.6" r="1.75" fill="#8ccadf"/>
<circle cx="342.9" cy="227.2" r="1.75" fill="#8ccadf"/>
<circle cx="343.0" cy="224.2" r="1.75" fill="#8ccadf"/>
<circle cx="343.0" cy="219.0" r="1.75" fill="#8ccadf"/>
<circle cx="343.2" cy="214.1" r="1.75" fill="#8ccadf"/>
<circle cx="343.1" cy="212.0" r="1.75" fill="#8ccadf"/>
<circle cx="342.9" cy="209.0" r="1.75" fill="#8ccadf"/>
<circle cx="344.2" cy="236.7" r="1.75" fill="#8ccadf"/>
<circle cx="344.3" cy="228.6" r="1.75" fill="#8ccadf"/>
<circle cx="345.8" cy="239.5" r="1.75" fill="#8ccadf"/>
<circle cx="346.0" cy="232.1" r="1.75" fill="#8ccadf"/>
<circle cx="346.2" cy="224.0" r="1.75" fill="#8ccadf"/>
<circle cx="345.7" cy="221.7" r="1.75" fill="#8ccadf"/>
<circle cx="346.1" cy="219.5" r="1.75" fill="#8ccadf"/>
<circle cx="346.0" cy="216.8" r="1.75" fill="#8ccadf"/>
<circle cx="346.1" cy="214.2" r="1.75" fill="#8ccadf"/>
<circle cx="346.1" cy="211.7" r="1.75" fill="#8ccadf"/>
<circle cx="345.9" cy="207.1" r="1.75" fill="#8ccadf"/>
<circle cx="347.9" cy="236.5" r="1.75" fill="#8ccadf"/>
<circle cx="347.7" cy="228.6" r="1.75" fill="#8ccadf"/>
<circle cx="348.6" cy="239.5" r="1.75" fill="#8ccadf"/>
<circle cx="348.2" cy="237.2" r="1.75" fill="#8ccadf"/>
<circle cx="348.4" cy="232.2" r="1.75" fill="#8ccadf"/>
<circle cx="348.4" cy="229.7" r="1.75" fill="#8ccadf"/>
<circle cx="348.6" cy="224.2" r="1.75" fill="#8ccadf"/>
<circle cx="348.3" cy="216.6" r="1.75" fill="#8ccadf"/>
<circle cx="350.2" cy="238.9" r="1.75" fill="#8ccadf"/>
<circle cx="350.5" cy="236.3" r="1.75" fill="#8ccadf"/>
<circle cx="358.9" cy="167.0" r="1.85" fill="#0a0a0a"/>
<circle cx="349.8" cy="173.0" r="1.85" fill="#0a0a0a"/>
<circle cx="350.3" cy="176.0" r="1.85" fill="#0a0a0a"/>
<circle cx="349.8" cy="179.0" r="1.85" fill="#0a0a0a"/>
<circle cx="350.3" cy="182.0" r="1.85" fill="#0a0a0a"/>
<circle cx="350.2" cy="185.0" r="1.85" fill="#0a0a0a"/>
<circle cx="350.2" cy="188.0" r="1.85" fill="#0a0a0a"/>
<circle cx="350.3" cy="191.0" r="1.85" fill="#0a0a0a"/>
<circle cx="349.9" cy="194.0" r="1.85" fill="#0a0a0a"/>
<circle cx="348.7" cy="239.1" r="1.85" fill="#0a0a0a"/>
<circle cx="349.1" cy="236.7" r="1.85" fill="#0a0a0a"/>
<circle cx="349.0" cy="234.0" r="1.85" fill="#0a0a0a"/>
<circle cx="348.9" cy="231.9" r="1.85" fill="#0a0a0a"/>
<circle cx="348.6" cy="229.6" r="1.85" fill="#0a0a0a"/>
<circle cx="348.9" cy="226.8" r="1.85" fill="#0a0a0a"/>
<circle cx="349.1" cy="224.6" r="1.85" fill="#0a0a0a"/>
<circle cx="348.8" cy="221.5" r="1.85" fill="#0a0a0a"/>
<circle cx="349.2" cy="219.5" r="1.85" fill="#0a0a0a"/>
<circle cx="348.6" cy="216.5" r="1.85" fill="#0a0a0a"/>
<circle cx="348.7" cy="214.3" r="1.85" fill="#0a0a0a"/>
<circle cx="348.8" cy="211.6" r="1.85" fill="#0a0a0a"/>
<circle cx="349.2" cy="209.2" r="1.85" fill="#0a0a0a"/>
<circle cx="348.8" cy="204.0" r="1.85" fill="#0a0a0a"/>
<circle cx="349.3" cy="201.5" r="1.85" fill="#0a0a0a"/>
<circle cx="350.7" cy="236.3" r="1.85" fill="#0a0a0a"/>
<circle cx="351.5" cy="239.1" r="1.85" fill="#0a0a0a"/>
<circle cx="351.8" cy="236.5" r="1.85" fill="#0a0a0a"/>
<circle cx="352.1" cy="234.3" r="1.85" fill="#0a0a0a"/>
<circle cx="352.1" cy="231.9" r="1.85" fill="#0a0a0a"/>
<circle cx="351.8" cy="229.2" r="1.85" fill="#0a0a0a"/>
<circle cx="352.2" cy="226.6" r="1.85" fill="#0a0a0a"/>
<circle cx="351.8" cy="224.5" r="1.85" fill="#0a0a0a"/>
<circle cx="351.9" cy="221.7" r="1.85" fill="#0a0a0a"/>
<circle cx="351.7" cy="218.9" r="1.85" fill="#0a0a0a"/>
<circle cx="351.7" cy="217.0" r="1.85" fill="#0a0a0a"/>
<circle cx="351.6" cy="214.0" r="1.85" fill="#0a0a0a"/>
<circle cx="353.2" cy="234.1" r="1.85" fill="#0a0a0a"/>
<circle cx="353.7" cy="231.7" r="1.85" fill="#0a0a0a"/>
<circle cx="355.2" cy="239.2" r="1.85" fill="#0a0a0a"/>
<circle cx="354.8" cy="236.6" r="1.85" fill="#0a0a0a"/>
<circle cx="355.1" cy="234.1" r="1.85" fill="#0a0a0a"/>
<circle cx="354.8" cy="232.0" r="1.85" fill="#0a0a0a"/>
<circle cx="355.2" cy="229.4" r="1.85" fill="#0a0a0a"/>
<circle cx="354.8" cy="226.5" r="1.85" fill="#0a0a0a"/>
<circle cx="355.1" cy="224.2" r="1.85" fill="#0a0a0a"/>
<circle cx="355.2" cy="221.8" r="1.85" fill="#0a0a0a"/>
<circle cx="355.2" cy="219.7" r="1.85" fill="#0a0a0a"/>
<circle cx="355.1" cy="216.8" r="1.85" fill="#0a0a0a"/>
<circle cx="355.1" cy="214.2" r="1.85" fill="#0a0a0a"/>
<circle cx="355.2" cy="211.5" r="1.85" fill="#0a0a0a"/>
<circle cx="355.2" cy="207.2" r="1.85" fill="#0a0a0a"/>
<circle cx="354.7" cy="204.4" r="1.85" fill="#0a0a0a"/>
<circle cx="355.1" cy="202.1" r="1.85" fill="#0a0a0a"/>
<circle cx="354.9" cy="199.3" r="1.85" fill="#0a0a0a"/>
<circle cx="355.1" cy="197.0" r="1.85" fill="#0a0a0a"/>
<circle cx="356.9" cy="239.5" r="1.85" fill="#0a0a0a"/>
<circle cx="356.7" cy="236.5" r="1.85" fill="#0a0a0a"/>
<circle cx="356.3" cy="228.8" r="1.85" fill="#0a0a0a"/>
<circle cx="358.2" cy="239.3" r="1.85" fill="#0a0a0a"/>
<circle cx="358.5" cy="237.2" r="1.85" fill="#0a0a0a"/>
<circle cx="358.1" cy="234.1" r="1.85" fill="#0a0a0a"/>
<circle cx="358.4" cy="232.0" r="1.85" fill="#0a0a0a"/>
<circle cx="358.0" cy="229.5" r="1.85" fill="#0a0a0a"/>
<circle cx="358.5" cy="226.8" r="1.85" fill="#0a0a0a"/>
<circle cx="358.2" cy="224.5" r="1.85" fill="#0a0a0a"/>
<circle cx="358.2" cy="222.1" r="1.85" fill="#0a0a0a"/>
<circle cx="358.5" cy="219.4" r="1.85" fill="#0a0a0a"/>
<circle cx="358.4" cy="217.1" r="1.85" fill="#0a0a0a"/>
<circle cx="358.3" cy="213.9" r="1.85" fill="#0a0a0a"/>
<circle cx="358.0" cy="211.7" r="1.85" fill="#0a0a0a"/>
<circle cx="357.9" cy="206.4" r="1.85" fill="#0a0a0a"/>
<circle cx="359.8" cy="239.7" r="1.85" fill="#0a0a0a"/>
<circle cx="360.0" cy="234.0" r="1.85" fill="#0a0a0a"/>
<circle cx="360.3" cy="231.0" r="1.85" fill="#0a0a0a"/>
<circle cx="361.6" cy="239.0" r="1.85" fill="#0a0a0a"/>
<circle cx="361.1" cy="236.8" r="1.85" fill="#0a0a0a"/>
<circle cx="361.2" cy="234.1" r="1.85" fill="#0a0a0a"/>
<circle cx="361.4" cy="231.9" r="1.85" fill="#0a0a0a"/>
<circle cx="361.6" cy="229.0" r="1.85" fill="#0a0a0a"/>
<circle cx="361.5" cy="227.1" r="1.85" fill="#0a0a0a"/>
<circle cx="361.6" cy="219.5" r="1.85" fill="#0a0a0a"/>
<circle cx="361.3" cy="209.5" r="1.85" fill="#0a0a0a"/>
<circle cx="362.4" cy="233.7" r="1.85" fill="#0a0a0a"/>
<circle cx="366.7" cy="197.0" r="1.85" fill="#0a0a0a"/>
<circle cx="366.6" cy="200.0" r="1.85" fill="#0a0a0a"/>
<circle cx="366.6" cy="203.0" r="1.85" fill="#0a0a0a"/>
<circle cx="367.2" cy="206.0" r="1.85" fill="#0a0a0a"/>
<circle cx="366.7" cy="209.0" r="1.85" fill="#0a0a0a"/>
<circle cx="367.0" cy="212.0" r="1.85" fill="#0a0a0a"/>
<circle cx="366.9" cy="215.0" r="1.85" fill="#0a0a0a"/>
<circle cx="367.3" cy="218.0" r="1.85" fill="#0a0a0a"/>
<circle cx="367.5" cy="221.0" r="1.85" fill="#0a0a0a"/>
<circle cx="366.8" cy="224.0" r="1.85" fill="#0a0a0a"/>
<circle cx="367.1" cy="227.0" r="1.85" fill="#0a0a0a"/>
<circle cx="367.4" cy="230.0" r="1.85" fill="#0a0a0a"/>
<circle cx="367.0" cy="233.0" r="1.85" fill="#0a0a0a"/>
<circle cx="367.4" cy="236.0" r="1.85" fill="#0a0a0a"/>
<circle cx="367.2" cy="239.0" r="1.85" fill="#0a0a0a"/>
<circle cx="365.5" cy="239.6" r="1.85" fill="#0a0a0a"/>
<circle cx="365.4" cy="236.7" r="1.85" fill="#0a0a0a"/>
<circle cx="365.2" cy="231.7" r="1.85" fill="#0a0a0a"/>
<circle cx="365.8" cy="229.5" r="1.85" fill="#0a0a0a"/>
<circle cx="365.7" cy="226.4" r="1.85" fill="#0a0a0a"/>
<circle cx="365.4" cy="224.5" r="1.85" fill="#0a0a0a"/>
<circle cx="365.2" cy="221.8" r="1.85" fill="#0a0a0a"/>
<circle cx="366.8" cy="234.3" r="1.85" fill="#0a0a0a"/>
<circle cx="367.3" cy="229.4" r="1.85" fill="#0a0a0a"/>
<circle cx="368.9" cy="239.2" r="1.85" fill="#0a0a0a"/>
<circle cx="369.2" cy="234.3" r="1.85" fill="#0a0a0a"/>
<circle cx="369.2" cy="229.4" r="1.85" fill="#0a0a0a"/>
<circle cx="369.1" cy="227.1" r="1.85" fill="#0a0a0a"/>
<circle cx="368.6" cy="224.4" r="1.85" fill="#0a0a0a"/>
<circle cx="369.0" cy="218.9" r="1.85" fill="#0a0a0a"/>
<circle cx="368.9" cy="217.1" r="1.85" fill="#0a0a0a"/>
<circle cx="368.9" cy="206.5" r="1.85" fill="#0a0a0a"/>
<circle cx="370.1" cy="239.2" r="1.85" fill="#0a0a0a"/>
<circle cx="370.1" cy="236.9" r="1.85" fill="#0a0a0a"/>
<circle cx="370.1" cy="231.6" r="1.85" fill="#0a0a0a"/>
<circle cx="370.6" cy="229.2" r="1.85" fill="#0a0a0a"/>
<circle cx="371.3" cy="164.6" r="1.75" fill="#8ccadf"/>
<circle cx="373.7" cy="168.0" r="1.75" fill="#8ccadf"/>
<circle cx="379.9" cy="125.0" r="1.75" fill="#8ccadf"/>
<circle cx="379.4" cy="128.0" r="1.75" fill="#8ccadf"/>
<circle cx="379.5" cy="131.0" r="1.75" fill="#8ccadf"/>
<circle cx="379.7" cy="134.0" r="1.75" fill="#8ccadf"/>
<circle cx="379.4" cy="137.0" r="1.75" fill="#8ccadf"/>
<circle cx="379.8" cy="140.0" r="1.75" fill="#8ccadf"/>
<circle cx="380.1" cy="143.0" r="1.75" fill="#8ccadf"/>
<circle cx="379.4" cy="167.0" r="1.75" fill="#8ccadf"/>
<circle cx="379.8" cy="170.0" r="1.75" fill="#8ccadf"/>
<circle cx="379.9" cy="173.0" r="1.75" fill="#8ccadf"/>
<circle cx="379.9" cy="176.0" r="1.75" fill="#8ccadf"/>
<circle cx="379.9" cy="179.0" r="1.75" fill="#8ccadf"/>
<circle cx="388.0" cy="185.0" r="1.75" fill="#8ccadf"/>
<circle cx="388.9" cy="194.6" r="1.75" fill="#8ccadf"/>
<circle cx="383.4" cy="194.9" r="1.75" fill="#8ccadf"/>
<circle cx="386.1" cy="182.3" r="1.75" fill="#8ccadf"/>
<circle cx="383.5" cy="192.7" r="1.75" fill="#8ccadf"/>
<circle cx="387.7" cy="183.1" r="1.75" fill="#8ccadf"/>
<circle cx="378.0" cy="183.0" r="1.75" fill="#8ccadf"/>
<circle cx="378.1" cy="185.8" r="1.75" fill="#8ccadf"/>
<circle cx="378.5" cy="188.6" r="1.75" fill="#8ccadf"/>
<circle cx="377.8" cy="191.4" r="1.75" fill="#8ccadf"/>
<circle cx="378.3" cy="194.2" r="1.75" fill="#8ccadf"/>
<circle cx="377.7" cy="197.0" r="1.75" fill="#8ccadf"/>
<circle cx="377.7" cy="199.8" r="1.75" fill="#8ccadf"/>
<circle cx="377.7" cy="202.6" r="1.75" fill="#8ccadf"/>
<circle cx="377.9" cy="205.4" r="1.75" fill="#8ccadf"/>
<circle cx="378.1" cy="208.2" r="1.75" fill="#8ccadf"/>
<circle cx="377.8" cy="211.0" r="1.75" fill="#8ccadf"/>
<circle cx="377.7" cy="213.8" r="1.75" fill="#8ccadf"/>
<circle cx="377.7" cy="216.6" r="1.75" fill="#8ccadf"/>
<circle cx="377.6" cy="219.4" r="1.75" fill="#8ccadf"/>
<circle cx="377.7" cy="222.2" r="1.75" fill="#8ccadf"/>
<circle cx="377.8" cy="225.0" r="1.75" fill="#8ccadf"/>
<circle cx="378.0" cy="227.8" r="1.75" fill="#8ccadf"/>
<circle cx="377.7" cy="230.6" r="1.75" fill="#8ccadf"/>
<circle cx="378.0" cy="233.4" r="1.75" fill="#8ccadf"/>
<circle cx="377.9" cy="236.2" r="1.75" fill="#8ccadf"/>
<circle cx="385.0" cy="188.0" r="1.75" fill="#8ccadf"/>
<circle cx="384.5" cy="191.0" r="1.75" fill="#8ccadf"/>
<circle cx="384.9" cy="194.0" r="1.75" fill="#8ccadf"/>
<circle cx="384.5" cy="197.0" r="1.75" fill="#8ccadf"/>
<circle cx="384.2" cy="200.0" r="1.75" fill="#8ccadf"/>
<circle cx="384.6" cy="203.0" r="1.75" fill="#8ccadf"/>
<circle cx="390.6" cy="180.0" r="1.75" fill="#8ccadf"/>
<circle cx="390.7" cy="182.8" r="1.75" fill="#8ccadf"/>
<circle cx="390.6" cy="185.6" r="1.75" fill="#8ccadf"/>
<circle cx="391.2" cy="188.4" r="1.75" fill="#8ccadf"/>
<circle cx="391.5" cy="191.2" r="1.75" fill="#8ccadf"/>
<circle cx="390.9" cy="194.0" r="1.75" fill="#8ccadf"/>
<circle cx="390.9" cy="196.8" r="1.75" fill="#8ccadf"/>
<circle cx="390.9" cy="199.6" r="1.75" fill="#8ccadf"/>
<circle cx="390.9" cy="202.4" r="1.75" fill="#8ccadf"/>
<circle cx="391.2" cy="205.2" r="1.75" fill="#8ccadf"/>
<circle cx="390.9" cy="208.0" r="1.75" fill="#8ccadf"/>
<circle cx="390.7" cy="210.8" r="1.75" fill="#8ccadf"/>
<circle cx="391.4" cy="213.6" r="1.75" fill="#8ccadf"/>
<circle cx="391.1" cy="216.4" r="1.75" fill="#8ccadf"/>
<circle cx="390.5" cy="219.2" r="1.75" fill="#8ccadf"/>
<circle cx="391.3" cy="222.0" r="1.75" fill="#8ccadf"/>
<circle cx="391.2" cy="224.8" r="1.75" fill="#8ccadf"/>
<circle cx="390.9" cy="227.6" r="1.75" fill="#8ccadf"/>
<circle cx="391.1" cy="230.4" r="1.75" fill="#8ccadf"/>
<circle cx="391.4" cy="233.2" r="1.75" fill="#8ccadf"/>
<circle cx="390.9" cy="236.0" r="1.75" fill="#8ccadf"/>
<circle cx="390.9" cy="238.8" r="1.75" fill="#8ccadf"/>
<circle cx="370.4" cy="234.6" r="1.75" fill="#8ccadf"/>
<circle cx="370.6" cy="229.2" r="1.75" fill="#8ccadf"/>
<circle cx="370.5" cy="224.0" r="1.75" fill="#8ccadf"/>
<circle cx="370.8" cy="222.0" r="1.75" fill="#8ccadf"/>
<circle cx="370.4" cy="219.3" r="1.75" fill="#8ccadf"/>
<circle cx="370.4" cy="217.1" r="1.75" fill="#8ccadf"/>
<circle cx="370.5" cy="214.6" r="1.75" fill="#8ccadf"/>
<circle cx="371.9" cy="236.8" r="1.75" fill="#8ccadf"/>
<circle cx="371.9" cy="231.4" r="1.75" fill="#8ccadf"/>
<circle cx="372.3" cy="228.9" r="1.75" fill="#8ccadf"/>
<circle cx="373.5" cy="239.2" r="1.75" fill="#8ccadf"/>
<circle cx="372.9" cy="237.0" r="1.75" fill="#8ccadf"/>
<circle cx="373.0" cy="234.1" r="1.75" fill="#8ccadf"/>
<circle cx="372.9" cy="232.2" r="1.75" fill="#8ccadf"/>
<circle cx="372.9" cy="226.8" r="1.75" fill="#8ccadf"/>
<circle cx="375.2" cy="238.8" r="1.75" fill="#8ccadf"/>
<circle cx="375.1" cy="231.7" r="1.75" fill="#8ccadf"/>
<circle cx="374.7" cy="228.7" r="1.75" fill="#8ccadf"/>
<circle cx="375.5" cy="239.4" r="1.75" fill="#8ccadf"/>
<circle cx="375.1" cy="236.5" r="1.75" fill="#8ccadf"/>
<circle cx="375.5" cy="234.7" r="1.75" fill="#8ccadf"/>
<circle cx="375.7" cy="231.7" r="1.75" fill="#8ccadf"/>
<circle cx="375.2" cy="229.1" r="1.75" fill="#8ccadf"/>
<circle cx="375.2" cy="219.0" r="1.75" fill="#8ccadf"/>
<circle cx="375.5" cy="216.4" r="1.75" fill="#8ccadf"/>
<circle cx="375.5" cy="213.9" r="1.75" fill="#8ccadf"/>
<circle cx="375.6" cy="211.9" r="1.75" fill="#8ccadf"/>
<circle cx="375.6" cy="209.4" r="1.75" fill="#8ccadf"/>
<circle cx="375.3" cy="207.2" r="1.75" fill="#8ccadf"/>
<circle cx="377.1" cy="231.4" r="1.75" fill="#8ccadf"/>
<circle cx="378.9" cy="239.6" r="1.75" fill="#8ccadf"/>
<circle cx="378.7" cy="236.6" r="1.75" fill="#8ccadf"/>
<circle cx="378.7" cy="234.2" r="1.75" fill="#8ccadf"/>
<circle cx="378.6" cy="232.2" r="1.75" fill="#8ccadf"/>
<circle cx="378.9" cy="229.1" r="1.75" fill="#8ccadf"/>
<circle cx="378.7" cy="224.4" r="1.75" fill="#8ccadf"/>
<circle cx="378.6" cy="221.7" r="1.75" fill="#8ccadf"/>
<circle cx="378.6" cy="211.8" r="1.75" fill="#8ccadf"/>
<circle cx="381.1" cy="239.4" r="1.75" fill="#8ccadf"/>
<circle cx="381.1" cy="236.5" r="1.75" fill="#8ccadf"/>
<circle cx="380.7" cy="231.5" r="1.75" fill="#8ccadf"/>
<circle cx="381.0" cy="226.6" r="1.75" fill="#8ccadf"/>
<circle cx="380.8" cy="219.5" r="1.75" fill="#8ccadf"/>
<circle cx="380.9" cy="216.6" r="1.75" fill="#8ccadf"/>
<circle cx="381.1" cy="214.7" r="1.75" fill="#8ccadf"/>
<circle cx="380.9" cy="209.5" r="1.75" fill="#8ccadf"/>
<circle cx="382.5" cy="234.1" r="1.75" fill="#8ccadf"/>
<circle cx="382.4" cy="231.1" r="1.75" fill="#8ccadf"/>
<circle cx="383.6" cy="234.6" r="1.75" fill="#8ccadf"/>
<circle cx="383.3" cy="231.8" r="1.75" fill="#8ccadf"/>
<circle cx="383.0" cy="229.5" r="1.75" fill="#8ccadf"/>
<circle cx="383.4" cy="224.6" r="1.75" fill="#8ccadf"/>
<circle cx="383.2" cy="222.1" r="1.75" fill="#8ccadf"/>
<circle cx="384.3" cy="234.5" r="1.75" fill="#8ccadf"/>
<circle cx="384.8" cy="231.2" r="1.75" fill="#8ccadf"/>
<circle cx="384.2" cy="228.6" r="1.75" fill="#8ccadf"/>
<circle cx="386.3" cy="239.6" r="1.75" fill="#8ccadf"/>
<circle cx="385.9" cy="237.1" r="1.75" fill="#8ccadf"/>
<circle cx="386.2" cy="227.1" r="1.75" fill="#8ccadf"/>
<circle cx="387.7" cy="236.8" r="1.75" fill="#8ccadf"/>
<circle cx="387.3" cy="233.7" r="1.75" fill="#8ccadf"/>
<circle cx="388.9" cy="239.2" r="1.75" fill="#8ccadf"/>
<circle cx="388.3" cy="236.7" r="1.75" fill="#8ccadf"/>
<circle cx="388.9" cy="234.3" r="1.75" fill="#8ccadf"/>
<circle cx="388.4" cy="231.9" r="1.75" fill="#8ccadf"/>
<circle cx="388.7" cy="229.2" r="1.75" fill="#8ccadf"/>
<circle cx="388.9" cy="226.8" r="1.75" fill="#8ccadf"/>
<circle cx="388.8" cy="224.7" r="1.75" fill="#8ccadf"/>
<circle cx="388.9" cy="219.1" r="1.75" fill="#8ccadf"/>
<circle cx="388.3" cy="211.6" r="1.75" fill="#8ccadf"/>
<circle cx="390.7" cy="239.5" r="1.75" fill="#8ccadf"/>
<circle cx="390.3" cy="233.7" r="1.75" fill="#8ccadf"/>
<circle cx="391.6" cy="229.2" r="1.75" fill="#8ccadf"/>
<circle cx="392.0" cy="223.9" r="1.75" fill="#8ccadf"/>
<circle cx="392.2" cy="221.9" r="1.75" fill="#8ccadf"/>
<circle cx="391.7" cy="216.5" r="1.75" fill="#8ccadf"/>
<circle cx="393.7" cy="239.1" r="1.75" fill="#8ccadf"/>
<circle cx="393.7" cy="231.4" r="1.75" fill="#8ccadf"/>
<circle cx="408.1" cy="162.0" r="1.85" fill="#0a0a0a"/>
<circle cx="408.2" cy="165.0" r="1.85" fill="#0a0a0a"/>
<circle cx="407.9" cy="168.0" r="1.85" fill="#0a0a0a"/>
<circle cx="404.3" cy="177.8" r="1.85" fill="#0a0a0a"/>
<circle cx="404.3" cy="181.3" r="1.85" fill="#0a0a0a"/>
<circle cx="398.8" cy="192.0" r="1.85" fill="#0a0a0a"/>
<circle cx="408.4" cy="186.0" r="1.85" fill="#0a0a0a"/>
<circle cx="408.4" cy="193.3" r="1.85" fill="#0a0a0a"/>
<circle cx="403.6" cy="203.0" r="1.85" fill="#0a0a0a"/>
<circle cx="397.6" cy="206.5" r="1.85" fill="#0a0a0a"/>
<circle cx="407.4" cy="220.0" r="1.85" fill="#0a0a0a"/>
<circle cx="402.7" cy="211.1" r="1.85" fill="#0a0a0a"/>
<circle cx="408.1" cy="203.4" r="1.85" fill="#0a0a0a"/>
<circle cx="395.4" cy="204.0" r="1.85" fill="#0a0a0a"/>
<circle cx="401.4" cy="213.1" r="1.85" fill="#0a0a0a"/>
<circle cx="400.8" cy="210.1" r="1.85" fill="#0a0a0a"/>
<circle cx="400.5" cy="205.5" r="1.85" fill="#0a0a0a"/>
<circle cx="408.8" cy="210.0" r="1.85" fill="#0a0a0a"/>
<circle cx="395.5" cy="239.0" r="1.85" fill="#0a0a0a"/>
<circle cx="395.4" cy="236.5" r="1.85" fill="#0a0a0a"/>
<circle cx="395.3" cy="234.5" r="1.85" fill="#0a0a0a"/>
<circle cx="395.1" cy="231.5" r="1.85" fill="#0a0a0a"/>
<circle cx="395.6" cy="226.7" r="1.85" fill="#0a0a0a"/>
<circle cx="395.3" cy="219.3" r="1.85" fill="#0a0a0a"/>
<circle cx="395.6" cy="217.2" r="1.85" fill="#0a0a0a"/>
<circle cx="395.6" cy="214.1" r="1.85" fill="#0a0a0a"/>
<circle cx="397.6" cy="239.0" r="1.85" fill="#0a0a0a"/>
<circle cx="397.5" cy="237.0" r="1.85" fill="#0a0a0a"/>
<circle cx="396.9" cy="234.4" r="1.85" fill="#0a0a0a"/>
<circle cx="397.5" cy="231.4" r="1.85" fill="#0a0a0a"/>
<circle cx="398.2" cy="236.5" r="1.85" fill="#0a0a0a"/>
<circle cx="398.0" cy="234.6" r="1.85" fill="#0a0a0a"/>
<circle cx="398.0" cy="231.9" r="1.85" fill="#0a0a0a"/>
<circle cx="398.3" cy="229.2" r="1.85" fill="#0a0a0a"/>
<circle cx="398.4" cy="227.0" r="1.85" fill="#0a0a0a"/>
<circle cx="398.0" cy="224.4" r="1.85" fill="#0a0a0a"/>
<circle cx="398.4" cy="221.5" r="1.85" fill="#0a0a0a"/>
<circle cx="398.1" cy="216.7" r="1.85" fill="#0a0a0a"/>
<circle cx="399.7" cy="239.5" r="1.85" fill="#0a0a0a"/>
<circle cx="399.9" cy="234.3" r="1.85" fill="#0a0a0a"/>
<circle cx="400.0" cy="231.7" r="1.85" fill="#0a0a0a"/>
<circle cx="399.8" cy="228.5" r="1.85" fill="#0a0a0a"/>
<circle cx="401.7" cy="239.3" r="1.85" fill="#0a0a0a"/>
<circle cx="401.8" cy="236.8" r="1.85" fill="#0a0a0a"/>
<circle cx="402.0" cy="232.1" r="1.85" fill="#0a0a0a"/>
<circle cx="401.4" cy="229.3" r="1.85" fill="#0a0a0a"/>
<circle cx="403.0" cy="239.5" r="1.85" fill="#0a0a0a"/>
<circle cx="403.0" cy="231.8" r="1.85" fill="#0a0a0a"/>
<circle cx="402.7" cy="228.5" r="1.85" fill="#0a0a0a"/>
<circle cx="404.6" cy="239.1" r="1.85" fill="#0a0a0a"/>
<circle cx="404.1" cy="234.0" r="1.85" fill="#0a0a0a"/>
<circle cx="404.7" cy="231.9" r="1.85" fill="#0a0a0a"/>
<circle cx="404.7" cy="229.5" r="1.85" fill="#0a0a0a"/>
<circle cx="404.4" cy="226.9" r="1.85" fill="#0a0a0a"/>
<circle cx="404.1" cy="224.2" r="1.85" fill="#0a0a0a"/>
<circle cx="404.7" cy="217.0" r="1.85" fill="#0a0a0a"/>
<circle cx="406.5" cy="239.2" r="1.85" fill="#0a0a0a"/>
<circle cx="407.1" cy="236.9" r="1.85" fill="#0a0a0a"/>
<circle cx="406.5" cy="233.9" r="1.85" fill="#0a0a0a"/>
<circle cx="406.8" cy="231.4" r="1.85" fill="#0a0a0a"/>
<circle cx="406.5" cy="229.4" r="1.85" fill="#0a0a0a"/>
<circle cx="406.7" cy="226.8" r="1.85" fill="#0a0a0a"/>
<circle cx="406.8" cy="219.1" r="1.85" fill="#0a0a0a"/>
<circle cx="408.5" cy="239.1" r="1.85" fill="#0a0a0a"/>
<circle cx="410.5" cy="239.1" r="1.85" fill="#0a0a0a"/>
<circle cx="410.8" cy="236.9" r="1.85" fill="#0a0a0a"/>
<circle cx="410.8" cy="234.1" r="1.85" fill="#0a0a0a"/>
<circle cx="410.6" cy="231.4" r="1.85" fill="#0a0a0a"/>
<circle cx="410.8" cy="227.2" r="1.85" fill="#0a0a0a"/>
<circle cx="410.6" cy="221.5" r="1.85" fill="#0a0a0a"/>
<circle cx="411.9" cy="236.7" r="1.85" fill="#0a0a0a"/>
<circle cx="424.0" cy="156.2" r="1.75" fill="#8ccadf"/>
<circle cx="426.3" cy="185.0" r="1.75" fill="#8ccadf"/>
<circle cx="421.6" cy="189.7" r="1.75" fill="#8ccadf"/>
<circle cx="414.4" cy="198.0" r="1.75" fill="#8ccadf"/>
<circle cx="412.1" cy="239.2" r="1.75" fill="#8ccadf"/>
<circle cx="412.1" cy="236.6" r="1.75" fill="#8ccadf"/>
<circle cx="411.8" cy="233.9" r="1.75" fill="#8ccadf"/>
<circle cx="411.8" cy="232.0" r="1.75" fill="#8ccadf"/>
<circle cx="411.7" cy="229.1" r="1.75" fill="#8ccadf"/>
<circle cx="412.3" cy="227.2" r="1.75" fill="#8ccadf"/>
<circle cx="411.8" cy="222.0" r="1.75" fill="#8ccadf"/>
<circle cx="411.9" cy="216.5" r="1.75" fill="#8ccadf"/>
<circle cx="412.2" cy="214.1" r="1.75" fill="#8ccadf"/>
<circle cx="413.6" cy="234.3" r="1.75" fill="#8ccadf"/>
<circle cx="413.9" cy="229.2" r="1.75" fill="#8ccadf"/>
<circle cx="415.7" cy="239.0" r="1.75" fill="#8ccadf"/>
<circle cx="415.2" cy="236.8" r="1.75" fill="#8ccadf"/>
<circle cx="415.2" cy="229.2" r="1.75" fill="#8ccadf"/>
<circle cx="415.5" cy="226.7" r="1.75" fill="#8ccadf"/>
<circle cx="415.2" cy="224.4" r="1.75" fill="#8ccadf"/>
<circle cx="415.5" cy="221.6" r="1.75" fill="#8ccadf"/>
<circle cx="415.6" cy="219.3" r="1.75" fill="#8ccadf"/>
<circle cx="415.5" cy="216.8" r="1.75" fill="#8ccadf"/>
<circle cx="417.0" cy="239.3" r="1.75" fill="#8ccadf"/>
<circle cx="417.3" cy="234.6" r="1.75" fill="#8ccadf"/>
<circle cx="417.8" cy="239.6" r="1.75" fill="#8ccadf"/>
<circle cx="417.8" cy="236.7" r="1.75" fill="#8ccadf"/>
<circle cx="418.4" cy="234.2" r="1.75" fill="#8ccadf"/>
<circle cx="418.3" cy="231.5" r="1.75" fill="#8ccadf"/>
<circle cx="417.8" cy="229.1" r="1.75" fill="#8ccadf"/>
<circle cx="417.9" cy="226.7" r="1.75" fill="#8ccadf"/>
<circle cx="418.0" cy="219.5" r="1.75" fill="#8ccadf"/>
<circle cx="419.7" cy="236.8" r="1.75" fill="#8ccadf"/>
<circle cx="419.5" cy="233.7" r="1.75" fill="#8ccadf"/>
<circle cx="419.0" cy="231.9" r="1.75" fill="#8ccadf"/>
<circle cx="418.9" cy="229.4" r="1.75" fill="#8ccadf"/>
<circle cx="420.3" cy="239.5" r="1.75" fill="#8ccadf"/>
<circle cx="420.7" cy="236.7" r="1.75" fill="#8ccadf"/>
<circle cx="420.3" cy="232.2" r="1.75" fill="#8ccadf"/>
<circle cx="420.5" cy="224.1" r="1.75" fill="#8ccadf"/>
<circle cx="420.6" cy="222.0" r="1.75" fill="#8ccadf"/>
<circle cx="422.3" cy="238.9" r="1.75" fill="#8ccadf"/>
<circle cx="422.2" cy="233.9" r="1.75" fill="#8ccadf"/>
<circle cx="422.1" cy="229.0" r="1.75" fill="#8ccadf"/>
<circle cx="423.5" cy="239.5" r="1.75" fill="#8ccadf"/>
<circle cx="422.9" cy="227.1" r="1.75" fill="#8ccadf"/>
<circle cx="423.2" cy="224.0" r="1.75" fill="#8ccadf"/>
<circle cx="423.5" cy="221.5" r="1.75" fill="#8ccadf"/>
<circle cx="425.2" cy="236.3" r="1.75" fill="#8ccadf"/>
<circle cx="425.0" cy="228.6" r="1.75" fill="#8ccadf"/>
<circle cx="426.2" cy="239.1" r="1.75" fill="#8ccadf"/>
<circle cx="425.6" cy="234.2" r="1.75" fill="#8ccadf"/>
<circle cx="425.6" cy="231.9" r="1.75" fill="#8ccadf"/>
<circle cx="425.7" cy="229.1" r="1.75" fill="#8ccadf"/>
<circle cx="426.2" cy="227.1" r="1.75" fill="#8ccadf"/>
<circle cx="427.7" cy="231.8" r="1.75" fill="#8ccadf"/>
<circle cx="434.0" cy="156.2" r="1.85" fill="#0a0a0a"/>
<circle cx="431.1" cy="163.4" r="1.85" fill="#0a0a0a"/>
<circle cx="434.0" cy="182.5" r="1.85" fill="#0a0a0a"/>
<circle cx="437.1" cy="194.5" r="1.85" fill="#0a0a0a"/>
<circle cx="429.6" cy="239.6" r="1.85" fill="#0a0a0a"/>
<circle cx="429.6" cy="236.7" r="1.85" fill="#0a0a0a"/>
<circle cx="429.8" cy="234.7" r="1.85" fill="#0a0a0a"/>
<circle cx="429.4" cy="232.2" r="1.85" fill="#0a0a0a"/>
<circle cx="429.3" cy="229.1" r="1.85" fill="#0a0a0a"/>
<circle cx="429.2" cy="226.8" r="1.85" fill="#0a0a0a"/>
<circle cx="429.4" cy="221.8" r="1.85" fill="#0a0a0a"/>
<circle cx="430.7" cy="228.9" r="1.85" fill="#0a0a0a"/>
<circle cx="432.8" cy="239.7" r="1.85" fill="#0a0a0a"/>
<circle cx="433.3" cy="236.9" r="1.85" fill="#0a0a0a"/>
<circle cx="433.1" cy="234.6" r="1.85" fill="#0a0a0a"/>
<circle cx="432.9" cy="231.5" r="1.85" fill="#0a0a0a"/>
<circle cx="433.1" cy="229.6" r="1.85" fill="#0a0a0a"/>
<circle cx="433.2" cy="227.1" r="1.85" fill="#0a0a0a"/>
<circle cx="433.2" cy="224.0" r="1.85" fill="#0a0a0a"/>
<circle cx="433.1" cy="222.1" r="1.85" fill="#0a0a0a"/>
<circle cx="432.8" cy="219.4" r="1.85" fill="#0a0a0a"/>
<circle cx="433.4" cy="216.7" r="1.85" fill="#0a0a0a"/>
<circle cx="433.3" cy="214.5" r="1.85" fill="#0a0a0a"/>
<circle cx="433.3" cy="211.5" r="1.85" fill="#0a0a0a"/>
<circle cx="433.3" cy="209.2" r="1.85" fill="#0a0a0a"/>
<circle cx="433.0" cy="206.6" r="1.85" fill="#0a0a0a"/>
<circle cx="433.2" cy="204.6" r="1.85" fill="#0a0a0a"/>
<circle cx="433.1" cy="201.6" r="1.85" fill="#0a0a0a"/>
<circle cx="434.0" cy="237.2" r="1.85" fill="#0a0a0a"/>
<circle cx="434.7" cy="231.6" r="1.85" fill="#0a0a0a"/>
<circle cx="434.3" cy="229.3" r="1.85" fill="#0a0a0a"/>
<circle cx="435.6" cy="239.2" r="1.85" fill="#0a0a0a"/>
<circle cx="436.1" cy="237.2" r="1.85" fill="#0a0a0a"/>
<circle cx="435.7" cy="234.1" r="1.85" fill="#0a0a0a"/>
<circle cx="436.1" cy="231.4" r="1.85" fill="#0a0a0a"/>
<circle cx="436.1" cy="229.1" r="1.85" fill="#0a0a0a"/>
<circle cx="435.7" cy="227.1" r="1.85" fill="#0a0a0a"/>
<circle cx="435.6" cy="223.9" r="1.85" fill="#0a0a0a"/>
<circle cx="435.7" cy="219.6" r="1.85" fill="#0a0a0a"/>
<circle cx="436.0" cy="217.1" r="1.85" fill="#0a0a0a"/>
<circle cx="436.0" cy="214.3" r="1.85" fill="#0a0a0a"/>
<circle cx="435.5" cy="211.6" r="1.85" fill="#0a0a0a"/>
<circle cx="435.7" cy="209.2" r="1.85" fill="#0a0a0a"/>
<circle cx="437.3" cy="234.2" r="1.85" fill="#0a0a0a"/>
<circle cx="439.0" cy="239.6" r="1.85" fill="#0a0a0a"/>
<circle cx="439.4" cy="236.6" r="1.85" fill="#0a0a0a"/>
<circle cx="439.0" cy="234.7" r="1.85" fill="#0a0a0a"/>
<circle cx="438.9" cy="226.9" r="1.85" fill="#0a0a0a"/>
<circle cx="438.9" cy="221.6" r="1.85" fill="#0a0a0a"/>
<circle cx="439.0" cy="219.1" r="1.85" fill="#0a0a0a"/>
<circle cx="439.3" cy="212.1" r="1.85" fill="#0a0a0a"/>
<circle cx="439.1" cy="208.9" r="1.85" fill="#0a0a0a"/>
<circle cx="440.7" cy="239.5" r="1.85" fill="#0a0a0a"/>
<circle cx="440.6" cy="236.3" r="1.85" fill="#0a0a0a"/>
<circle cx="440.4" cy="233.6" r="1.85" fill="#0a0a0a"/>
<circle cx="441.0" cy="231.7" r="1.85" fill="#0a0a0a"/>
<circle cx="440.4" cy="229.0" r="1.85" fill="#0a0a0a"/>
<circle cx="442.3" cy="84.1" r="1.75" fill="#8ccadf"/>
<circle cx="442.4" cy="155.0" r="1.75" fill="#8ccadf"/>
<circle cx="444.1" cy="178.7" r="1.75" fill="#8ccadf"/>
<circle cx="445.5" cy="173.5" r="1.75" fill="#8ccadf"/>
<circle cx="445.6" cy="176.6" r="1.75" fill="#8ccadf"/>
<circle cx="445.7" cy="173.0" r="1.75" fill="#8ccadf"/>
<circle cx="442.0" cy="181.0" r="1.75" fill="#8ccadf"/>
<circle cx="441.8" cy="184.0" r="1.75" fill="#8ccadf"/>
<circle cx="442.5" cy="187.0" r="1.75" fill="#8ccadf"/>
<circle cx="441.9" cy="190.0" r="1.75" fill="#8ccadf"/>
<circle cx="441.9" cy="193.0" r="1.75" fill="#8ccadf"/>
<circle cx="440.3" cy="239.2" r="1.75" fill="#8ccadf"/>
<circle cx="439.8" cy="233.9" r="1.75" fill="#8ccadf"/>
<circle cx="440.4" cy="231.6" r="1.75" fill="#8ccadf"/>
<circle cx="440.3" cy="229.1" r="1.75" fill="#8ccadf"/>
<circle cx="440.1" cy="226.7" r="1.75" fill="#8ccadf"/>
<circle cx="441.9" cy="236.6" r="1.75" fill="#8ccadf"/>
<circle cx="441.8" cy="234.5" r="1.75" fill="#8ccadf"/>
<circle cx="441.9" cy="231.7" r="1.75" fill="#8ccadf"/>
<circle cx="442.2" cy="228.5" r="1.75" fill="#8ccadf"/>
<circle cx="443.8" cy="236.5" r="1.75" fill="#8ccadf"/>
<circle cx="443.6" cy="234.4" r="1.75" fill="#8ccadf"/>
<circle cx="443.7" cy="229.0" r="1.75" fill="#8ccadf"/>
<circle cx="443.9" cy="226.8" r="1.75" fill="#8ccadf"/>
<circle cx="443.5" cy="224.7" r="1.75" fill="#8ccadf"/>
<circle cx="443.9" cy="221.8" r="1.75" fill="#8ccadf"/>
<circle cx="443.3" cy="216.5" r="1.75" fill="#8ccadf"/>
<circle cx="443.6" cy="214.1" r="1.75" fill="#8ccadf"/>
<circle cx="444.9" cy="238.8" r="1.75" fill="#8ccadf"/>
<circle cx="444.9" cy="234.2" r="1.75" fill="#8ccadf"/>
<circle cx="444.9" cy="228.7" r="1.75" fill="#8ccadf"/>
<circle cx="446.4" cy="239.2" r="1.75" fill="#8ccadf"/>
<circle cx="446.6" cy="236.6" r="1.75" fill="#8ccadf"/>
<circle cx="446.5" cy="224.4" r="1.75" fill="#8ccadf"/>
<circle cx="446.6" cy="221.9" r="1.75" fill="#8ccadf"/>
<circle cx="446.0" cy="217.1" r="1.75" fill="#8ccadf"/>
<circle cx="446.1" cy="214.4" r="1.75" fill="#8ccadf"/>
<circle cx="446.3" cy="212.0" r="1.75" fill="#8ccadf"/>
<circle cx="446.4" cy="209.0" r="1.75" fill="#8ccadf"/>
<circle cx="446.4" cy="206.9" r="1.75" fill="#8ccadf"/>
<circle cx="446.1" cy="204.7" r="1.75" fill="#8ccadf"/>
<circle cx="446.2" cy="201.7" r="1.75" fill="#8ccadf"/>
<circle cx="447.9" cy="231.5" r="1.75" fill="#8ccadf"/>
<circle cx="448.2" cy="229.4" r="1.75" fill="#8ccadf"/>
<circle cx="449.4" cy="237.0" r="1.75" fill="#8ccadf"/>
<circle cx="449.4" cy="226.8" r="1.75" fill="#8ccadf"/>
<circle cx="449.1" cy="224.5" r="1.75" fill="#8ccadf"/>
<circle cx="450.6" cy="231.6" r="1.75" fill="#8ccadf"/>
<circle cx="450.7" cy="228.5" r="1.75" fill="#8ccadf"/>
<circle cx="451.8" cy="231.6" r="1.75" fill="#8ccadf"/>
<circle cx="452.1" cy="224.3" r="1.75" fill="#8ccadf"/>
<circle cx="452.3" cy="221.5" r="1.75" fill="#8ccadf"/>
<circle cx="451.9" cy="216.9" r="1.75" fill="#8ccadf"/>
<circle cx="452.1" cy="214.4" r="1.75" fill="#8ccadf"/>
<circle cx="452.1" cy="211.6" r="1.75" fill="#8ccadf"/>
<circle cx="452.2" cy="208.9" r="1.75" fill="#8ccadf"/>
<circle cx="453.6" cy="229.3" r="1.75" fill="#8ccadf"/>
<circle cx="440.8" cy="208.4" r="1.85" fill="#0a0a0a"/>
<circle cx="440.6" cy="224.1" r="1.85" fill="#0a0a0a"/>
<circle cx="441.7" cy="227.7" r="1.85" fill="#0a0a0a"/>
<circle cx="441.9" cy="218.6" r="1.85" fill="#0a0a0a"/>
<circle cx="442.8" cy="229.4" r="1.85" fill="#0a0a0a"/>
<circle cx="441.7" cy="204.6" r="1.85" fill="#0a0a0a"/>
<circle cx="442.8" cy="206.9" r="1.85" fill="#0a0a0a"/>
<circle cx="440.3" cy="205.0" r="1.85" fill="#0a0a0a"/>
<circle cx="442.1" cy="235.5" r="1.85" fill="#0a0a0a"/>
<circle cx="456.4" cy="155.0" r="1.75" fill="#8ccadf"/>
<circle cx="456.5" cy="158.0" r="1.75" fill="#8ccadf"/>
<circle cx="456.7" cy="161.0" r="1.75" fill="#8ccadf"/>
<circle cx="456.6" cy="164.0" r="1.75" fill="#8ccadf"/>
<circle cx="456.2" cy="167.0" r="1.75" fill="#8ccadf"/>
<circle cx="456.3" cy="170.0" r="1.75" fill="#8ccadf"/>
<circle cx="456.6" cy="173.0" r="1.75" fill="#8ccadf"/>
<circle cx="456.1" cy="176.0" r="1.75" fill="#8ccadf"/>
<circle cx="455.9" cy="179.0" r="1.75" fill="#8ccadf"/>
<circle cx="456.4" cy="182.0" r="1.75" fill="#8ccadf"/>
<circle cx="456.6" cy="185.0" r="1.75" fill="#8ccadf"/>
<circle cx="456.0" cy="188.0" r="1.75" fill="#8ccadf"/>
<circle cx="456.5" cy="191.0" r="1.75" fill="#8ccadf"/>
<circle cx="456.7" cy="194.0" r="1.75" fill="#8ccadf"/>
<circle cx="455.9" cy="197.0" r="1.75" fill="#8ccadf"/>
<circle cx="455.9" cy="200.0" r="1.75" fill="#8ccadf"/>
<circle cx="456.3" cy="203.0" r="1.75" fill="#8ccadf"/>
<circle cx="456.1" cy="206.0" r="1.75" fill="#8ccadf"/>
<circle cx="456.7" cy="209.0" r="1.75" fill="#8ccadf"/>
<circle cx="456.8" cy="212.0" r="1.75" fill="#8ccadf"/>
<circle cx="456.2" cy="215.0" r="1.75" fill="#8ccadf"/>
<circle cx="456.6" cy="218.0" r="1.75" fill="#8ccadf"/>
<circle cx="456.4" cy="221.0" r="1.75" fill="#8ccadf"/>
<circle cx="456.0" cy="224.0" r="1.75" fill="#8ccadf"/>
<circle cx="456.8" cy="227.0" r="1.75" fill="#8ccadf"/>
<circle cx="456.0" cy="230.0" r="1.75" fill="#8ccadf"/>
<circle cx="455.9" cy="233.0" r="1.75" fill="#8ccadf"/>
<circle cx="456.3" cy="236.0" r="1.75" fill="#8ccadf"/>
<circle cx="455.8" cy="239.0" r="1.75" fill="#8ccadf"/>
<circle cx="464.5" cy="95.8" r="1.85" fill="#0a0a0a"/>
<circle cx="464.5" cy="103.3" r="1.85" fill="#0a0a0a"/>
<circle cx="468.7" cy="137.0" r="1.85" fill="#0a0a0a"/>
<circle cx="458.0" cy="164.6" r="1.85" fill="#0a0a0a"/>
<circle cx="458.0" cy="181.3" r="1.85" fill="#0a0a0a"/>
<circle cx="464.0" cy="179.0" r="1.85" fill="#0a0a0a"/>
<circle cx="468.7" cy="192.0" r="1.85" fill="#0a0a0a"/>
<circle cx="465.0" cy="138.0" r="1.85" fill="#0a0a0a"/>
<circle cx="464.9" cy="141.0" r="1.85" fill="#0a0a0a"/>
<circle cx="464.5" cy="149.0" r="1.85" fill="#0a0a0a"/>
<circle cx="463.9" cy="152.0" r="1.85" fill="#0a0a0a"/>
<circle cx="464.3" cy="155.0" r="1.85" fill="#0a0a0a"/>
<circle cx="464.3" cy="158.0" r="1.85" fill="#0a0a0a"/>
<circle cx="468.8" cy="157.0" r="1.85" fill="#0a0a0a"/>
<circle cx="468.4" cy="160.0" r="1.85" fill="#0a0a0a"/>
<circle cx="468.5" cy="163.0" r="1.85" fill="#0a0a0a"/>
<circle cx="468.7" cy="166.0" r="1.85" fill="#0a0a0a"/>
<circle cx="468.6" cy="169.0" r="1.85" fill="#0a0a0a"/>
<circle cx="468.8" cy="172.0" r="1.85" fill="#0a0a0a"/>
<circle cx="468.7" cy="175.0" r="1.85" fill="#0a0a0a"/>
<circle cx="468.5" cy="178.0" r="1.85" fill="#0a0a0a"/>
<circle cx="468.8" cy="181.0" r="1.85" fill="#0a0a0a"/>
<circle cx="457.7" cy="238.9" r="1.85" fill="#0a0a0a"/>
<circle cx="458.3" cy="237.0" r="1.85" fill="#0a0a0a"/>
<circle cx="458.1" cy="231.9" r="1.85" fill="#0a0a0a"/>
<circle cx="457.9" cy="229.1" r="1.85" fill="#0a0a0a"/>
<circle cx="457.7" cy="226.8" r="1.85" fill="#0a0a0a"/>
<circle cx="458.0" cy="224.2" r="1.85" fill="#0a0a0a"/>
<circle cx="458.2" cy="222.0" r="1.85" fill="#0a0a0a"/>
<circle cx="457.8" cy="219.4" r="1.85" fill="#0a0a0a"/>
<circle cx="457.7" cy="212.1" r="1.85" fill="#0a0a0a"/>
<circle cx="457.9" cy="209.6" r="1.85" fill="#0a0a0a"/>
<circle cx="458.1" cy="201.7" r="1.85" fill="#0a0a0a"/>
<circle cx="458.2" cy="199.4" r="1.85" fill="#0a0a0a"/>
<circle cx="458.1" cy="197.1" r="1.85" fill="#0a0a0a"/>
<circle cx="459.8" cy="229.0" r="1.85" fill="#0a0a0a"/>
<circle cx="461.0" cy="239.5" r="1.85" fill="#0a0a0a"/>
<circle cx="460.8" cy="234.6" r="1.85" fill="#0a0a0a"/>
<circle cx="461.2" cy="231.4" r="1.85" fill="#0a0a0a"/>
<circle cx="461.2" cy="229.1" r="1.85" fill="#0a0a0a"/>
<circle cx="460.8" cy="227.0" r="1.85" fill="#0a0a0a"/>
<circle cx="461.0" cy="224.2" r="1.85" fill="#0a0a0a"/>
<circle cx="461.3" cy="222.0" r="1.85" fill="#0a0a0a"/>
<circle cx="461.0" cy="216.7" r="1.85" fill="#0a0a0a"/>
<circle cx="461.2" cy="214.0" r="1.85" fill="#0a0a0a"/>
<circle cx="461.2" cy="212.1" r="1.85" fill="#0a0a0a"/>
<circle cx="460.8" cy="209.3" r="1.85" fill="#0a0a0a"/>
<circle cx="462.9" cy="239.2" r="1.85" fill="#0a0a0a"/>
<circle cx="462.5" cy="231.2" r="1.85" fill="#0a0a0a"/>
<circle cx="462.4" cy="229.1" r="1.85" fill="#0a0a0a"/>
<circle cx="463.3" cy="239.6" r="1.85" fill="#0a0a0a"/>
<circle cx="463.6" cy="236.5" r="1.85" fill="#0a0a0a"/>
<circle cx="463.6" cy="233.9" r="1.85" fill="#0a0a0a"/>
<circle cx="463.6" cy="229.0" r="1.85" fill="#0a0a0a"/>
<circle cx="463.4" cy="227.0" r="1.85" fill="#0a0a0a"/>
<circle cx="463.1" cy="219.5" r="1.85" fill="#0a0a0a"/>
<circle cx="463.1" cy="216.9" r="1.85" fill="#0a0a0a"/>
<circle cx="465.2" cy="239.4" r="1.85" fill="#0a0a0a"/>
<circle cx="465.1" cy="236.6" r="1.85" fill="#0a0a0a"/>
<circle cx="465.2" cy="233.6" r="1.85" fill="#0a0a0a"/>
<circle cx="464.8" cy="228.4" r="1.85" fill="#0a0a0a"/>
<circle cx="466.2" cy="239.6" r="1.85" fill="#0a0a0a"/>
<circle cx="465.9" cy="236.7" r="1.85" fill="#0a0a0a"/>
<circle cx="465.9" cy="234.0" r="1.85" fill="#0a0a0a"/>
<circle cx="465.9" cy="231.9" r="1.85" fill="#0a0a0a"/>
<circle cx="466.0" cy="229.4" r="1.85" fill="#0a0a0a"/>
<circle cx="466.1" cy="223.9" r="1.85" fill="#0a0a0a"/>
<circle cx="466.0" cy="222.0" r="1.85" fill="#0a0a0a"/>
<circle cx="466.4" cy="219.3" r="1.85" fill="#0a0a0a"/>
<circle cx="465.9" cy="216.7" r="1.85" fill="#0a0a0a"/>
<circle cx="466.0" cy="214.5" r="1.85" fill="#0a0a0a"/>
<circle cx="466.1" cy="211.6" r="1.85" fill="#0a0a0a"/>
<circle cx="466.2" cy="206.7" r="1.85" fill="#0a0a0a"/>
<circle cx="466.2" cy="199.6" r="1.85" fill="#0a0a0a"/>
<circle cx="466.0" cy="196.5" r="1.85" fill="#0a0a0a"/>
<circle cx="468.2" cy="239.0" r="1.85" fill="#0a0a0a"/>
<circle cx="468.4" cy="236.7" r="1.85" fill="#0a0a0a"/>
<circle cx="468.3" cy="234.5" r="1.85" fill="#0a0a0a"/>
<circle cx="467.7" cy="231.6" r="1.85" fill="#0a0a0a"/>
<circle cx="469.5" cy="239.3" r="1.85" fill="#0a0a0a"/>
<circle cx="469.9" cy="237.1" r="1.85" fill="#0a0a0a"/>
<circle cx="469.9" cy="231.5" r="1.85" fill="#0a0a0a"/>
<circle cx="469.9" cy="226.7" r="1.85" fill="#0a0a0a"/>
<circle cx="469.8" cy="222.1" r="1.85" fill="#0a0a0a"/>
<circle cx="469.8" cy="219.1" r="1.85" fill="#0a0a0a"/>
<circle cx="469.6" cy="216.7" r="1.85" fill="#0a0a0a"/>
<circle cx="469.8" cy="214.5" r="1.85" fill="#0a0a0a"/>
<circle cx="469.9" cy="211.6" r="1.85" fill="#0a0a0a"/>
<circle cx="469.5" cy="209.4" r="1.85" fill="#0a0a0a"/>
<circle cx="471.1" cy="233.7" r="1.85" fill="#0a0a0a"/>
<circle cx="471.5" cy="231.4" r="1.85" fill="#0a0a0a"/>
<circle cx="474.9" cy="137.0" r="1.75" fill="#8ccadf"/>
<circle cx="474.8" cy="140.0" r="1.75" fill="#8ccadf"/>
<circle cx="474.7" cy="152.6" r="1.75" fill="#8ccadf"/>
<circle cx="478.3" cy="157.4" r="1.75" fill="#8ccadf"/>
<circle cx="474.7" cy="171.8" r="1.75" fill="#8ccadf"/>
<circle cx="475.9" cy="186.0" r="1.75" fill="#8ccadf"/>
<circle cx="472.2" cy="239.2" r="1.75" fill="#8ccadf"/>
<circle cx="472.2" cy="237.0" r="1.75" fill="#8ccadf"/>
<circle cx="471.9" cy="234.3" r="1.75" fill="#8ccadf"/>
<circle cx="472.1" cy="231.4" r="1.75" fill="#8ccadf"/>
<circle cx="471.6" cy="229.1" r="1.75" fill="#8ccadf"/>
<circle cx="471.7" cy="227.1" r="1.75" fill="#8ccadf"/>
<circle cx="471.6" cy="224.5" r="1.75" fill="#8ccadf"/>
<circle cx="471.7" cy="221.5" r="1.75" fill="#8ccadf"/>
<circle cx="471.9" cy="219.5" r="1.75" fill="#8ccadf"/>
<circle cx="471.6" cy="216.7" r="1.75" fill="#8ccadf"/>
<circle cx="471.6" cy="214.0" r="1.75" fill="#8ccadf"/>
<circle cx="472.1" cy="211.7" r="1.75" fill="#8ccadf"/>
<circle cx="472.2" cy="206.6" r="1.75" fill="#8ccadf"/>
<circle cx="471.6" cy="204.5" r="1.75" fill="#8ccadf"/>
<circle cx="473.5" cy="237.0" r="1.75" fill="#8ccadf"/>
<circle cx="473.2" cy="231.4" r="1.75" fill="#8ccadf"/>
<circle cx="473.1" cy="229.2" r="1.75" fill="#8ccadf"/>
<circle cx="474.5" cy="239.5" r="1.75" fill="#8ccadf"/>
<circle cx="475.0" cy="236.7" r="1.75" fill="#8ccadf"/>
<circle cx="474.9" cy="234.1" r="1.75" fill="#8ccadf"/>
<circle cx="475.0" cy="231.8" r="1.75" fill="#8ccadf"/>
<circle cx="474.8" cy="229.5" r="1.75" fill="#8ccadf"/>
<circle cx="475.1" cy="224.4" r="1.75" fill="#8ccadf"/>
<circle cx="475.0" cy="219.4" r="1.75" fill="#8ccadf"/>
<circle cx="474.8" cy="214.4" r="1.75" fill="#8ccadf"/>
<circle cx="475.2" cy="209.3" r="1.75" fill="#8ccadf"/>
<circle cx="475.1" cy="204.5" r="1.75" fill="#8ccadf"/>
<circle cx="475.0" cy="201.5" r="1.75" fill="#8ccadf"/>
<circle cx="476.4" cy="231.2" r="1.75" fill="#8ccadf"/>
<circle cx="477.6" cy="239.1" r="1.75" fill="#8ccadf"/>
<circle cx="477.2" cy="236.6" r="1.75" fill="#8ccadf"/>
<circle cx="477.3" cy="234.7" r="1.75" fill="#8ccadf"/>
<circle cx="477.5" cy="231.7" r="1.75" fill="#8ccadf"/>
<circle cx="477.3" cy="229.6" r="1.75" fill="#8ccadf"/>
<circle cx="477.4" cy="219.7" r="1.75" fill="#8ccadf"/>
<circle cx="477.1" cy="214.5" r="1.75" fill="#8ccadf"/>
<circle cx="477.2" cy="209.5" r="1.75" fill="#8ccadf"/>
<circle cx="477.3" cy="204.7" r="1.75" fill="#8ccadf"/>
<circle cx="477.2" cy="201.9" r="1.75" fill="#8ccadf"/>
<circle cx="477.3" cy="199.2" r="1.75" fill="#8ccadf"/>
<circle cx="479.7" cy="239.3" r="1.75" fill="#8ccadf"/>
<circle cx="479.4" cy="237.0" r="1.75" fill="#8ccadf"/>
<circle cx="479.3" cy="234.2" r="1.75" fill="#8ccadf"/>
<circle cx="479.1" cy="231.5" r="1.75" fill="#8ccadf"/>
<circle cx="481.0" cy="239.6" r="1.75" fill="#8ccadf"/>
<circle cx="480.8" cy="236.6" r="1.75" fill="#8ccadf"/>
<circle cx="480.9" cy="234.2" r="1.75" fill="#8ccadf"/>
<circle cx="480.8" cy="231.6" r="1.75" fill="#8ccadf"/>
<circle cx="480.6" cy="229.7" r="1.75" fill="#8ccadf"/>
<circle cx="480.8" cy="226.4" r="1.75" fill="#8ccadf"/>
<circle cx="480.4" cy="224.0" r="1.75" fill="#8ccadf"/>
<circle cx="480.4" cy="222.0" r="1.75" fill="#8ccadf"/>
<circle cx="480.8" cy="219.6" r="1.75" fill="#8ccadf"/>
<circle cx="480.5" cy="217.0" r="1.75" fill="#8ccadf"/>
<circle cx="482.1" cy="234.6" r="1.75" fill="#8ccadf"/>
<circle cx="482.5" cy="231.9" r="1.75" fill="#8ccadf"/>
<circle cx="482.2" cy="229.3" r="1.75" fill="#8ccadf"/>
<circle cx="489.5" cy="76.6" r="1.85" fill="#0a0a0a"/>
<circle cx="489.2" cy="138.0" r="1.85" fill="#0a0a0a"/>
<circle cx="489.0" cy="141.0" r="1.85" fill="#0a0a0a"/>
<circle cx="489.5" cy="144.0" r="1.85" fill="#0a0a0a"/>
<circle cx="488.7" cy="147.0" r="1.85" fill="#0a0a0a"/>
<circle cx="489.3" cy="150.0" r="1.85" fill="#0a0a0a"/>
<circle cx="489.0" cy="160.0" r="1.85" fill="#0a0a0a"/>
<circle cx="483.0" cy="169.4" r="1.85" fill="#0a0a0a"/>
<circle cx="483.0" cy="177.8" r="1.85" fill="#0a0a0a"/>
<circle cx="489.8" cy="185.0" r="1.85" fill="#0a0a0a"/>
<circle cx="489.6" cy="188.0" r="1.85" fill="#0a0a0a"/>
<circle cx="489.7" cy="191.0" r="1.85" fill="#0a0a0a"/>
<circle cx="481.0" cy="239.3" r="1.85" fill="#0a0a0a"/>
<circle cx="481.3" cy="237.0" r="1.85" fill="#0a0a0a"/>
<circle cx="481.1" cy="234.2" r="1.85" fill="#0a0a0a"/>
<circle cx="481.0" cy="226.6" r="1.85" fill="#0a0a0a"/>
<circle cx="481.3" cy="224.1" r="1.85" fill="#0a0a0a"/>
<circle cx="481.4" cy="219.3" r="1.85" fill="#0a0a0a"/>
<circle cx="481.0" cy="214.3" r="1.85" fill="#0a0a0a"/>
<circle cx="481.5" cy="211.9" r="1.85" fill="#0a0a0a"/>
<circle cx="481.5" cy="209.2" r="1.85" fill="#0a0a0a"/>
<circle cx="481.3" cy="206.6" r="1.85" fill="#0a0a0a"/>
<circle cx="481.0" cy="204.6" r="1.85" fill="#0a0a0a"/>
<circle cx="480.9" cy="201.9" r="1.85" fill="#0a0a0a"/>
<circle cx="483.0" cy="239.2" r="1.85" fill="#0a0a0a"/>
<circle cx="483.1" cy="234.1" r="1.85" fill="#0a0a0a"/>
<circle cx="483.2" cy="239.5" r="1.85" fill="#0a0a0a"/>
<circle cx="483.7" cy="236.8" r="1.85" fill="#0a0a0a"/>
<circle cx="483.1" cy="231.5" r="1.85" fill="#0a0a0a"/>
<circle cx="483.1" cy="227.1" r="1.85" fill="#0a0a0a"/>
<circle cx="483.2" cy="224.3" r="1.85" fill="#0a0a0a"/>
<circle cx="483.1" cy="221.6" r="1.85" fill="#0a0a0a"/>
<circle cx="483.1" cy="219.0" r="1.85" fill="#0a0a0a"/>
<circle cx="483.4" cy="217.1" r="1.85" fill="#0a0a0a"/>
<circle cx="483.7" cy="214.1" r="1.85" fill="#0a0a0a"/>
<circle cx="483.6" cy="211.9" r="1.85" fill="#0a0a0a"/>
<circle cx="483.5" cy="209.3" r="1.85" fill="#0a0a0a"/>
<circle cx="483.1" cy="206.8" r="1.85" fill="#0a0a0a"/>
<circle cx="483.3" cy="204.6" r="1.85" fill="#0a0a0a"/>
<circle cx="483.1" cy="199.5" r="1.85" fill="#0a0a0a"/>
<circle cx="483.4" cy="197.2" r="1.85" fill="#0a0a0a"/>
<circle cx="483.2" cy="194.4" r="1.85" fill="#0a0a0a"/>
<circle cx="483.2" cy="191.4" r="1.85" fill="#0a0a0a"/>
<circle cx="485.0" cy="236.5" r="1.85" fill="#0a0a0a"/>
<circle cx="485.2" cy="231.5" r="1.85" fill="#0a0a0a"/>
<circle cx="486.1" cy="237.0" r="1.85" fill="#0a0a0a"/>
<circle cx="486.4" cy="234.4" r="1.85" fill="#0a0a0a"/>
<circle cx="486.3" cy="231.4" r="1.85" fill="#0a0a0a"/>
<circle cx="486.4" cy="224.2" r="1.85" fill="#0a0a0a"/>
<circle cx="486.7" cy="222.1" r="1.85" fill="#0a0a0a"/>
<circle cx="486.3" cy="219.5" r="1.85" fill="#0a0a0a"/>
<circle cx="486.4" cy="214.1" r="1.85" fill="#0a0a0a"/>
<circle cx="486.5" cy="204.7" r="1.85" fill="#0a0a0a"/>
<circle cx="486.2" cy="198.9" r="1.85" fill="#0a0a0a"/>
<circle cx="486.7" cy="194.4" r="1.85" fill="#0a0a0a"/>
<circle cx="486.7" cy="192.1" r="1.85" fill="#0a0a0a"/>
<circle cx="488.2" cy="236.6" r="1.85" fill="#0a0a0a"/>
<circle cx="488.5" cy="234.3" r="1.85" fill="#0a0a0a"/>
<circle cx="488.0" cy="231.3" r="1.85" fill="#0a0a0a"/>
<circle cx="489.7" cy="237.2" r="1.85" fill="#0a0a0a"/>
<circle cx="489.4" cy="234.6" r="1.85" fill="#0a0a0a"/>
<circle cx="489.5" cy="232.1" r="1.85" fill="#0a0a0a"/>
<circle cx="489.7" cy="229.6" r="1.85" fill="#0a0a0a"/>
<circle cx="489.6" cy="226.6" r="1.85" fill="#0a0a0a"/>
<circle cx="489.4" cy="222.2" r="1.85" fill="#0a0a0a"/>
<circle cx="490.0" cy="219.4" r="1.85" fill="#0a0a0a"/>
<circle cx="489.8" cy="216.6" r="1.85" fill="#0a0a0a"/>
<circle cx="489.8" cy="211.9" r="1.85" fill="#0a0a0a"/>
<circle cx="489.9" cy="209.5" r="1.85" fill="#0a0a0a"/>
<circle cx="489.9" cy="206.6" r="1.85" fill="#0a0a0a"/>
<circle cx="489.6" cy="198.9" r="1.85" fill="#0a0a0a"/>
<circle cx="490.0" cy="191.7" r="1.85" fill="#0a0a0a"/>
<circle cx="490.0" cy="189.6" r="1.85" fill="#0a0a0a"/>
<circle cx="490.0" cy="187.2" r="1.85" fill="#0a0a0a"/>
<circle cx="491.3" cy="232.0" r="1.85" fill="#0a0a0a"/>
<circle cx="492.5" cy="239.1" r="1.85" fill="#0a0a0a"/>
<circle cx="493.0" cy="236.8" r="1.85" fill="#0a0a0a"/>
<circle cx="492.6" cy="234.1" r="1.85" fill="#0a0a0a"/>
<circle cx="492.7" cy="232.0" r="1.85" fill="#0a0a0a"/>
<circle cx="493.1" cy="226.9" r="1.85" fill="#0a0a0a"/>
<circle cx="492.5" cy="224.0" r="1.85" fill="#0a0a0a"/>
<circle cx="492.8" cy="222.1" r="1.85" fill="#0a0a0a"/>
<circle cx="492.7" cy="219.1" r="1.85" fill="#0a0a0a"/>
<circle cx="492.5" cy="212.2" r="1.85" fill="#0a0a0a"/>
<circle cx="493.0" cy="209.0" r="1.85" fill="#0a0a0a"/>
<circle cx="492.7" cy="207.1" r="1.85" fill="#0a0a0a"/>
<circle cx="492.5" cy="204.1" r="1.85" fill="#0a0a0a"/>
<circle cx="492.6" cy="191.5" r="1.85" fill="#0a0a0a"/>
<circle cx="492.9" cy="186.7" r="1.85" fill="#0a0a0a"/>
<circle cx="494.1" cy="239.7" r="1.85" fill="#0a0a0a"/>
<circle cx="493.9" cy="236.8" r="1.85" fill="#0a0a0a"/>
<circle cx="494.5" cy="228.5" r="1.85" fill="#0a0a0a"/>
<circle cx="498.1" cy="181.3" r="1.75" fill="#8ccadf"/>
<circle cx="498.5" cy="184.3" r="1.75" fill="#8ccadf"/>
<circle cx="494.1" cy="239.0" r="1.75" fill="#8ccadf"/>
<circle cx="493.8" cy="236.9" r="1.75" fill="#8ccadf"/>
<circle cx="493.8" cy="231.5" r="1.75" fill="#8ccadf"/>
<circle cx="494.3" cy="229.6" r="1.75" fill="#8ccadf"/>
<circle cx="493.8" cy="224.6" r="1.75" fill="#8ccadf"/>
<circle cx="493.9" cy="219.0" r="1.75" fill="#8ccadf"/>
<circle cx="494.0" cy="216.5" r="1.75" fill="#8ccadf"/>
<circle cx="493.8" cy="214.2" r="1.75" fill="#8ccadf"/>
<circle cx="494.0" cy="212.0" r="1.75" fill="#8ccadf"/>
<circle cx="494.1" cy="209.3" r="1.75" fill="#8ccadf"/>
<circle cx="495.4" cy="239.4" r="1.75" fill="#8ccadf"/>
<circle cx="496.3" cy="239.0" r="1.75" fill="#8ccadf"/>
<circle cx="496.4" cy="237.0" r="1.75" fill="#8ccadf"/>
<circle cx="496.0" cy="232.0" r="1.75" fill="#8ccadf"/>
<circle cx="496.1" cy="226.5" r="1.75" fill="#8ccadf"/>
<circle cx="496.5" cy="221.7" r="1.75" fill="#8ccadf"/>
<circle cx="498.0" cy="239.5" r="1.75" fill="#8ccadf"/>
<circle cx="498.2" cy="234.0" r="1.75" fill="#8ccadf"/>
<circle cx="499.3" cy="239.4" r="1.75" fill="#8ccadf"/>
<circle cx="499.2" cy="236.7" r="1.75" fill="#8ccadf"/>
<circle cx="499.4" cy="234.1" r="1.75" fill="#8ccadf"/>
<circle cx="499.3" cy="229.3" r="1.75" fill="#8ccadf"/>
<circle cx="498.9" cy="226.9" r="1.75" fill="#8ccadf"/>
<circle cx="499.1" cy="222.1" r="1.75" fill="#8ccadf"/>
<circle cx="498.9" cy="219.1" r="1.75" fill="#8ccadf"/>
<circle cx="499.3" cy="209.0" r="1.75" fill="#8ccadf"/>
<circle cx="507.2" cy="150.2" r="1.85" fill="#0a0a0a"/>
<circle cx="508.0" cy="153.2" r="1.85" fill="#0a0a0a"/>
<circle cx="507.4" cy="156.2" r="1.85" fill="#0a0a0a"/>
<circle cx="507.5" cy="159.2" r="1.85" fill="#0a0a0a"/>
<circle cx="507.8" cy="162.2" r="1.85" fill="#0a0a0a"/>
<circle cx="508.0" cy="165.2" r="1.85" fill="#0a0a0a"/>
<circle cx="508.1" cy="168.2" r="1.85" fill="#0a0a0a"/>
<circle cx="507.2" cy="171.2" r="1.85" fill="#0a0a0a"/>
<circle cx="507.6" cy="174.2" r="1.85" fill="#0a0a0a"/>
<circle cx="507.3" cy="177.2" r="1.85" fill="#0a0a0a"/>
<circle cx="507.8" cy="180.2" r="1.85" fill="#0a0a0a"/>
<circle cx="507.3" cy="183.2" r="1.85" fill="#0a0a0a"/>
<circle cx="507.8" cy="186.2" r="1.85" fill="#0a0a0a"/>
<circle cx="507.9" cy="189.2" r="1.85" fill="#0a0a0a"/>
<circle cx="505.8" cy="188.5" r="1.85" fill="#0a0a0a"/>
<circle cx="504.0" cy="236.8" r="1.85" fill="#0a0a0a"/>
<circle cx="504.0" cy="234.6" r="1.85" fill="#0a0a0a"/>
<circle cx="504.1" cy="231.4" r="1.85" fill="#0a0a0a"/>
<circle cx="504.3" cy="229.3" r="1.85" fill="#0a0a0a"/>
<circle cx="503.9" cy="226.6" r="1.85" fill="#0a0a0a"/>
<circle cx="504.1" cy="224.3" r="1.85" fill="#0a0a0a"/>
<circle cx="504.3" cy="222.1" r="1.85" fill="#0a0a0a"/>
<circle cx="504.0" cy="219.3" r="1.85" fill="#0a0a0a"/>
<circle cx="504.3" cy="217.2" r="1.85" fill="#0a0a0a"/>
<circle cx="504.0" cy="214.2" r="1.85" fill="#0a0a0a"/>
<circle cx="504.2" cy="211.8" r="1.85" fill="#0a0a0a"/>
<circle cx="505.2" cy="239.0" r="1.85" fill="#0a0a0a"/>
<circle cx="505.3" cy="236.5" r="1.85" fill="#0a0a0a"/>
<circle cx="505.3" cy="234.5" r="1.85" fill="#0a0a0a"/>
<circle cx="505.6" cy="229.2" r="1.85" fill="#0a0a0a"/>
<circle cx="506.2" cy="239.3" r="1.85" fill="#0a0a0a"/>
<circle cx="506.3" cy="237.1" r="1.85" fill="#0a0a0a"/>
<circle cx="506.3" cy="226.6" r="1.85" fill="#0a0a0a"/>
<circle cx="506.9" cy="224.0" r="1.85" fill="#0a0a0a"/>
<circle cx="506.5" cy="221.7" r="1.85" fill="#0a0a0a"/>
<circle cx="506.3" cy="219.6" r="1.85" fill="#0a0a0a"/>
<circle cx="506.8" cy="216.7" r="1.85" fill="#0a0a0a"/>
<circle cx="506.3" cy="214.7" r="1.85" fill="#0a0a0a"/>
<circle cx="506.8" cy="211.5" r="1.85" fill="#0a0a0a"/>
<circle cx="506.7" cy="209.7" r="1.85" fill="#0a0a0a"/>
<circle cx="506.5" cy="204.7" r="1.85" fill="#0a0a0a"/>
<circle cx="506.9" cy="201.6" r="1.85" fill="#0a0a0a"/>
<circle cx="508.6" cy="239.1" r="1.85" fill="#0a0a0a"/>
<circle cx="508.3" cy="234.5" r="1.85" fill="#0a0a0a"/>
<circle cx="509.5" cy="239.1" r="1.85" fill="#0a0a0a"/>
<circle cx="509.5" cy="236.4" r="1.85" fill="#0a0a0a"/>
<circle cx="509.9" cy="234.3" r="1.85" fill="#0a0a0a"/>
<circle cx="509.7" cy="231.8" r="1.85" fill="#0a0a0a"/>
<circle cx="509.6" cy="229.7" r="1.85" fill="#0a0a0a"/>
<circle cx="509.7" cy="219.0" r="1.85" fill="#0a0a0a"/>
<circle cx="511.5" cy="231.5" r="1.85" fill="#0a0a0a"/>
<circle cx="512.9" cy="191.0" r="1.75" fill="#8ccadf"/>
<circle cx="513.1" cy="194.0" r="1.75" fill="#8ccadf"/>
<circle cx="513.3" cy="197.0" r="1.75" fill="#8ccadf"/>
<circle cx="512.7" cy="200.0" r="1.75" fill="#8ccadf"/>
<circle cx="513.4" cy="203.0" r="1.75" fill="#8ccadf"/>
<circle cx="512.5" cy="206.0" r="1.75" fill="#8ccadf"/>
<circle cx="513.0" cy="209.0" r="1.75" fill="#8ccadf"/>
<circle cx="513.1" cy="212.0" r="1.75" fill="#8ccadf"/>
<circle cx="512.6" cy="215.0" r="1.75" fill="#8ccadf"/>
<circle cx="513.4" cy="218.0" r="1.75" fill="#8ccadf"/>
<circle cx="512.9" cy="221.0" r="1.75" fill="#8ccadf"/>
<circle cx="512.7" cy="224.0" r="1.75" fill="#8ccadf"/>
<circle cx="512.9" cy="227.0" r="1.75" fill="#8ccadf"/>
<circle cx="513.1" cy="230.0" r="1.75" fill="#8ccadf"/>
<circle cx="512.9" cy="233.0" r="1.75" fill="#8ccadf"/>
<circle cx="512.5" cy="236.0" r="1.75" fill="#8ccadf"/>
<circle cx="512.6" cy="239.0" r="1.75" fill="#8ccadf"/>
<circle cx="510.3" cy="232.0" r="1.75" fill="#8ccadf"/>
<circle cx="510.5" cy="228.9" r="1.75" fill="#8ccadf"/>
<circle cx="510.4" cy="226.9" r="1.75" fill="#8ccadf"/>
<circle cx="510.3" cy="222.0" r="1.75" fill="#8ccadf"/>
<circle cx="510.4" cy="219.3" r="1.75" fill="#8ccadf"/>
<circle cx="510.5" cy="214.3" r="1.75" fill="#8ccadf"/>
<circle cx="510.5" cy="212.0" r="1.75" fill="#8ccadf"/>
<circle cx="510.8" cy="209.0" r="1.75" fill="#8ccadf"/>
<circle cx="510.7" cy="206.8" r="1.75" fill="#8ccadf"/>
<circle cx="512.7" cy="236.9" r="1.75" fill="#8ccadf"/>
<circle cx="512.2" cy="234.2" r="1.75" fill="#8ccadf"/>
<circle cx="514.2" cy="236.6" r="1.75" fill="#8ccadf"/>
<circle cx="514.0" cy="234.6" r="1.75" fill="#8ccadf"/>
<circle cx="513.8" cy="231.9" r="1.75" fill="#8ccadf"/>
<circle cx="513.9" cy="227.1" r="1.75" fill="#8ccadf"/>
<circle cx="513.9" cy="221.8" r="1.75" fill="#8ccadf"/>
<circle cx="513.7" cy="217.1" r="1.75" fill="#8ccadf"/>
<circle cx="513.6" cy="214.0" r="1.75" fill="#8ccadf"/>
<circle cx="513.9" cy="212.2" r="1.75" fill="#8ccadf"/>
<circle cx="515.9" cy="236.7" r="1.75" fill="#8ccadf"/>
<circle cx="516.2" cy="234.5" r="1.75" fill="#8ccadf"/>
<circle cx="516.1" cy="231.3" r="1.75" fill="#8ccadf"/>
<circle cx="515.6" cy="229.0" r="1.75" fill="#8ccadf"/>
<rect x="44.9" y="36.2" width="493.80000000000007" height="212.8" fill="none" stroke="#6e6e6e" stroke-width="1.3"/>
<line x1="42.699999999999996" y1="239.30" x2="44.9" y2="239.30" stroke="#333" stroke-width="1"/>
<line x1="42.699999999999996" y1="210.45" x2="44.9" y2="210.45" stroke="#333" stroke-width="1"/>
<line x1="42.699999999999996" y1="181.60" x2="44.9" y2="181.60" stroke="#333" stroke-width="1"/>
<line x1="42.699999999999996" y1="152.75" x2="44.9" y2="152.75" stroke="#333" stroke-width="1"/>
<line x1="42.699999999999996" y1="123.90" x2="44.9" y2="123.90" stroke="#333" stroke-width="1"/>
<line x1="42.699999999999996" y1="95.05" x2="44.9" y2="95.05" stroke="#333" stroke-width="1"/>
<line x1="42.699999999999996" y1="66.20" x2="44.9" y2="66.20" stroke="#333" stroke-width="1"/>
<line x1="42.699999999999996" y1="37.35" x2="44.9" y2="37.35" stroke="#333" stroke-width="1"/>
<line x1="78.2" y1="249.0" x2="78.2" y2="251.4" stroke="#333" stroke-width="1"/>
<line x1="122" y1="249.0" x2="122" y2="251.4" stroke="#333" stroke-width="1"/>
<line x1="155.1" y1="249.0" x2="155.1" y2="251.4" stroke="#333" stroke-width="1"/>
<line x1="193.9" y1="249.0" x2="193.9" y2="251.4" stroke="#333" stroke-width="1"/>
<line x1="219.1" y1="249.0" x2="219.1" y2="251.4" stroke="#333" stroke-width="1"/>
<line x1="237.8" y1="249.0" x2="237.8" y2="251.4" stroke="#333" stroke-width="1"/>
<line x1="276" y1="249.0" x2="276" y2="251.4" stroke="#333" stroke-width="1"/>
<line x1="295.9" y1="249.0" x2="295.9" y2="251.4" stroke="#333" stroke-width="1"/>
<line x1="318.5" y1="249.0" x2="318.5" y2="251.4" stroke="#333" stroke-width="1"/>
<line x1="337.1" y1="249.0" x2="337.1" y2="251.4" stroke="#333" stroke-width="1"/>
<line x1="356" y1="249.0" x2="356" y2="251.4" stroke="#333" stroke-width="1"/>
<line x1="377.7" y1="249.0" x2="377.7" y2="251.4" stroke="#333" stroke-width="1"/>
<line x1="402.6" y1="249.0" x2="402.6" y2="251.4" stroke="#333" stroke-width="1"/>
<line x1="420.4" y1="249.0" x2="420.4" y2="251.4" stroke="#333" stroke-width="1"/>
<line x1="436.3" y1="249.0" x2="436.3" y2="251.4" stroke="#333" stroke-width="1"/>
<line x1="456.4" y1="249.0" x2="456.4" y2="251.4" stroke="#333" stroke-width="1"/>
<line x1="464.7" y1="249.0" x2="464.7" y2="251.4" stroke="#333" stroke-width="1"/>
<line x1="474.3" y1="249.0" x2="474.3" y2="251.4" stroke="#333" stroke-width="1"/>
<line x1="489.2" y1="249.0" x2="489.2" y2="251.4" stroke="#333" stroke-width="1"/>
<line x1="498" y1="249.0" x2="498" y2="251.4" stroke="#333" stroke-width="1"/>
<line x1="507.8" y1="249.0" x2="507.8" y2="251.4" stroke="#333" stroke-width="1"/>
<line x1="512.8" y1="249.0" x2="512.8" y2="251.4" stroke="#333" stroke-width="1"/>
<text x="78.20" y="262.80" font-size="10.2" text-anchor="middle" fill="#1a1a1a">1</text>
<text x="122.00" y="262.80" font-size="10.2" text-anchor="middle" fill="#1a1a1a">2</text>
<text x="155.10" y="262.80" font-size="10.2" text-anchor="middle" fill="#1a1a1a">3</text>
<text x="193.90" y="262.80" font-size="10.2" text-anchor="middle" fill="#1a1a1a">4</text>
<text x="219.10" y="262.80" font-size="10.2" text-anchor="middle" fill="#1a1a1a">5</text>
<text x="237.80" y="262.80" font-size="10.2" text-anchor="middle" fill="#1a1a1a">6</text>
<text x="276.00" y="262.80" font-size="10.2" text-anchor="middle" fill="#1a1a1a">7</text>
<text x="296.00" y="262.80" font-size="10.2" text-anchor="middle" fill="#1a1a1a">8</text>
<text x="318.50" y="262.80" font-size="10.2" text-anchor="middle" fill="#1a1a1a">9</text>
<text x="337.00" y="262.80" font-size="10.2" text-anchor="middle" textLength="9.4" lengthAdjust="spacingAndGlyphs" fill="#1a1a1a">10</text>
<text x="356.00" y="262.80" font-size="10.2" text-anchor="middle" textLength="9.4" lengthAdjust="spacingAndGlyphs" fill="#1a1a1a">11</text>
<text x="377.70" y="262.80" font-size="10.2" text-anchor="middle" textLength="9.4" lengthAdjust="spacingAndGlyphs" fill="#1a1a1a">12</text>
<text x="402.60" y="262.80" font-size="10.2" text-anchor="middle" textLength="9.4" lengthAdjust="spacingAndGlyphs" fill="#1a1a1a">13</text>
<text x="420.40" y="262.80" font-size="10.2" text-anchor="middle" textLength="9.4" lengthAdjust="spacingAndGlyphs" fill="#1a1a1a">14</text>
<text x="436.30" y="262.80" font-size="10.2" text-anchor="middle" textLength="9.4" lengthAdjust="spacingAndGlyphs" fill="#1a1a1a">15</text>
<text x="452.20" y="262.80" font-size="10.2" text-anchor="middle" textLength="9.4" lengthAdjust="spacingAndGlyphs" fill="#1a1a1a">16</text>
<text x="463.60" y="262.80" font-size="10.2" text-anchor="middle" textLength="9.4" lengthAdjust="spacingAndGlyphs" fill="#1a1a1a">17</text>
<text x="475.30" y="262.80" font-size="10.2" text-anchor="middle" textLength="9.4" lengthAdjust="spacingAndGlyphs" fill="#1a1a1a">18</text>
<text x="486.80" y="262.80" font-size="10.2" text-anchor="middle" textLength="9.4" lengthAdjust="spacingAndGlyphs" fill="#1a1a1a">19</text>
<text x="497.70" y="262.80" font-size="10.2" text-anchor="middle" textLength="9.4" lengthAdjust="spacingAndGlyphs" fill="#1a1a1a">20</text>
<text x="507.20" y="262.80" font-size="10.2" text-anchor="middle" textLength="9.4" lengthAdjust="spacingAndGlyphs" fill="#1a1a1a">21</text>
<text x="518.00" y="262.80" font-size="10.2" text-anchor="middle" textLength="9.4" lengthAdjust="spacingAndGlyphs" fill="#1a1a1a">22</text>
<text x="36.80" y="243.60" font-size="12.2" text-anchor="end" fill="#1a1a1a">0</text>
<text x="36.80" y="214.75" font-size="12.2" text-anchor="end" fill="#1a1a1a">1</text>
<text x="36.80" y="185.90" font-size="12.2" text-anchor="end" fill="#1a1a1a">2</text>
<text x="36.80" y="157.05" font-size="12.2" text-anchor="end" fill="#1a1a1a">3</text>
<text x="36.80" y="128.20" font-size="12.2" text-anchor="end" fill="#1a1a1a">4</text>
<text x="36.80" y="99.35" font-size="12.2" text-anchor="end" fill="#1a1a1a">5</text>
<text x="36.80" y="70.50" font-size="12.2" text-anchor="end" fill="#1a1a1a">6</text>
<text x="36.80" y="41.65" font-size="12.2" text-anchor="end" fill="#1a1a1a">7</text>
<text x="175.30" y="24.60" font-size="12.4" textLength="160.7" lengthAdjust="spacingAndGlyphs" fill="#1a1a1a">Manhattan Plot for NK POAG</text>
<text x="218.80" y="279.70" font-size="12.4" textLength="73.7" lengthAdjust="spacingAndGlyphs" fill="#1a1a1a">Chromosome</text>
<text x="0" y="0" font-size="12.2" fill="#1a1a1a" textLength="79.8" lengthAdjust="spacingAndGlyphs" transform="translate(16.2,182.8) rotate(-90)">-log10(p-SMR)</text>
<line x1="556.5" y1="36.4" x2="556.5" y2="251.2" stroke="#383838" stroke-width="1.2"/>
<line x1="598.5" y1="36.4" x2="598.5" y2="251.2" stroke="#383838" stroke-width="1.2"/>
<line x1="695.7" y1="36.4" x2="695.7" y2="251.2" stroke="#383838" stroke-width="1.2"/>
<line x1="754.2" y1="36.4" x2="754.2" y2="251.2" stroke="#383838" stroke-width="1.2"/>
<line x1="811.5" y1="36.4" x2="811.5" y2="251.2" stroke="#383838" stroke-width="1.2"/>
<line x1="861.3" y1="36.4" x2="861.3" y2="251.2" stroke="#383838" stroke-width="1.2"/>
<line x1="555.9" y1="36.4" x2="861.9" y2="36.4" stroke="#383838" stroke-width="1.2"/>
<line x1="555.9" y1="52.3" x2="861.9" y2="52.3" stroke="#383838" stroke-width="1.2"/>
<line x1="555.9" y1="69.8" x2="861.9" y2="69.8" stroke="#383838" stroke-width="1.2"/>
<line x1="555.9" y1="84.6" x2="861.9" y2="84.6" stroke="#383838" stroke-width="1.2"/>
<line x1="555.9" y1="105.2" x2="861.9" y2="105.2" stroke="#383838" stroke-width="1.2"/>
<line x1="555.9" y1="126.3" x2="861.9" y2="126.3" stroke="#383838" stroke-width="1.2"/>
<line x1="555.9" y1="147.3" x2="861.9" y2="147.3" stroke="#383838" stroke-width="1.2"/>
<line x1="555.9" y1="168.1" x2="861.9" y2="168.1" stroke="#383838" stroke-width="1.2"/>
<line x1="555.9" y1="189" x2="861.9" y2="189" stroke="#383838" stroke-width="1.2"/>
<line x1="555.9" y1="209.7" x2="861.9" y2="209.7" stroke="#383838" stroke-width="1.2"/>
<line x1="555.9" y1="230.8" x2="861.9" y2="230.8" stroke="#383838" stroke-width="1.2"/>
<line x1="555.9" y1="251.2" x2="861.9" y2="251.2" stroke="#383838" stroke-width="1.2"/>
<text x="558.90" y="47.65" font-size="9.2" font-weight="bold" textLength="35.9" lengthAdjust="spacingAndGlyphs" fill="#1a1a1a">Celltype</text>
<text x="646.80" y="47.65" font-size="9.2" text-anchor="middle" font-weight="bold" fill="#1a1a1a">Loci (hg19)</text>
<text x="726.70" y="47.65" font-size="9.2" text-anchor="middle" font-weight="bold" fill="#1a1a1a">SNP</text>
<text x="782.50" y="47.65" font-size="9.2" text-anchor="middle" font-weight="bold" fill="#1a1a1a">Gene</text>
<text x="839.20" y="47.65" font-size="9.2" text-anchor="middle" font-weight="bold" fill="#1a1a1a">p_SMR</text>
<text x="560.70" y="62.95" font-size="9.3" fill="#1a1a1a">NK</text>
<text x="603.10" y="62.95" font-size="9.3" fill="#1a1a1a">chr1:10706661:C:T</text>
<text x="699.00" y="62.95" font-size="9.3" fill="#1a1a1a">rs72858521</text>
<text x="764.90" y="62.95" font-size="8.6" font-style="italic" textLength="26.78" lengthAdjust="spacingAndGlyphs" fill="#333">MASP2</text>
<text x="819.20" y="61.00" font-size="8.4" textLength="14.2" lengthAdjust="spacingAndGlyphs" fill="#222">1.27</text>
<path d="M835.9 54.70 L841.0 59.70 M841.0 54.70 L835.9 59.70" stroke="#555" stroke-width="0.8" fill="none"/>
<text x="843.10" y="60.00" font-size="8.4" textLength="7.9" lengthAdjust="spacingAndGlyphs" fill="#222">10</text>
<text x="851.30" y="57.60" font-size="5.6" textLength="4.6" lengthAdjust="spacingAndGlyphs" fill="#222">-7</text>
<text x="560.70" y="80.40" font-size="9.3" fill="#1a1a1a">NK</text>
<text x="603.10" y="80.40" font-size="9.3" fill="#1a1a1a">chr1:3000465:A:G</text>
<text x="699.00" y="80.40" font-size="9.3" fill="#1a1a1a">rs760567</text>
<text x="764.90" y="80.40" font-size="8.6" font-style="italic" textLength="39.97" lengthAdjust="spacingAndGlyphs" fill="#333">LINC01346</text>
<text x="819.20" y="78.80" font-size="8.4" textLength="14.2" lengthAdjust="spacingAndGlyphs" fill="#222">2.01</text>
<path d="M835.9 72.50 L841.0 77.50 M841.0 72.50 L835.9 77.50" stroke="#555" stroke-width="0.8" fill="none"/>
<text x="843.10" y="77.80" font-size="8.4" textLength="7.9" lengthAdjust="spacingAndGlyphs" fill="#222">10</text>
<text x="851.30" y="75.40" font-size="5.6" textLength="4.6" lengthAdjust="spacingAndGlyphs" fill="#222">-6</text>
<text x="560.70" y="98.10" font-size="9.3" fill="#1a1a1a">NK</text>
<text x="603.10" y="98.10" font-size="9.3" fill="#1a1a1a">chr19:50194525:T:A</text>
<text x="703.50" y="98.10" font-size="9.3" fill="#1a1a1a">-</text>
<text x="764.90" y="98.10" font-size="8.6" font-style="italic" textLength="27.22" lengthAdjust="spacingAndGlyphs" fill="#333">ASPDH</text>
<text x="819.20" y="98.40" font-size="8.4" textLength="14.2" lengthAdjust="spacingAndGlyphs" fill="#222">2.51</text>
<path d="M835.9 92.10 L841.0 97.10 M841.0 92.10 L835.9 97.10" stroke="#555" stroke-width="0.8" fill="none"/>
<text x="843.10" y="97.40" font-size="8.4" textLength="7.9" lengthAdjust="spacingAndGlyphs" fill="#222">10</text>
<text x="851.30" y="95.00" font-size="5.6" textLength="4.6" lengthAdjust="spacingAndGlyphs" fill="#222">-7</text>
<text x="560.70" y="118.95" font-size="9.3" fill="#1a1a1a">NK</text>
<text x="603.10" y="118.95" font-size="9.3" fill="#1a1a1a">chr16:2157248:G:C</text>
<text x="699.00" y="118.95" font-size="9.3" fill="#1a1a1a">rs2854619</text>
<text x="764.90" y="118.95" font-size="8.6" font-style="italic" textLength="27.66" lengthAdjust="spacingAndGlyphs" fill="#333">BICDL2</text>
<text x="819.20" y="119.25" font-size="8.4" textLength="14.2" lengthAdjust="spacingAndGlyphs" fill="#222">4.52</text>
<path d="M835.9 112.95 L841.0 117.95 M841.0 112.95 L835.9 117.95" stroke="#555" stroke-width="0.8" fill="none"/>
<text x="843.10" y="118.25" font-size="8.4" textLength="7.9" lengthAdjust="spacingAndGlyphs" fill="#222">10</text>
<text x="851.30" y="115.85" font-size="5.6" textLength="4.6" lengthAdjust="spacingAndGlyphs" fill="#222">-6</text>
<text x="560.70" y="140.00" font-size="9.3" fill="#1a1a1a">B</text>
<text x="603.10" y="140.00" font-size="9.3" fill="#1a1a1a">chr2:72813589:A:G</text>
<text x="699.00" y="140.00" font-size="9.3" fill="#1a1a1a">rs60325013</text>
<text x="764.90" y="140.00" font-size="8.6" font-style="italic" textLength="21.51" lengthAdjust="spacingAndGlyphs" fill="#333">EMX1</text>
<text x="819.20" y="140.30" font-size="8.4" textLength="14.2" lengthAdjust="spacingAndGlyphs" fill="#222">7.43</text>
<path d="M835.9 134.00 L841.0 139.00 M841.0 134.00 L835.9 139.00" stroke="#555" stroke-width="0.8" fill="none"/>
<text x="843.10" y="139.30" font-size="8.4" textLength="7.9" lengthAdjust="spacingAndGlyphs" fill="#222">10</text>
<text x="851.30" y="136.90" font-size="5.6" textLength="4.6" lengthAdjust="spacingAndGlyphs" fill="#222">-6</text>
<text x="560.70" y="160.90" font-size="9.3" fill="#1a1a1a">Myeloid</text>
<text x="603.10" y="160.90" font-size="9.3" fill="#1a1a1a">chr13:91266030:T:A</text>
<text x="699.00" y="160.90" font-size="9.3" fill="#1a1a1a">rs80168231</text>
<text x="764.90" y="160.90" font-size="8.6" font-style="italic" textLength="39.97" lengthAdjust="spacingAndGlyphs" fill="#333">LINC01049</text>
<text x="819.20" y="161.20" font-size="8.4" textLength="14.2" lengthAdjust="spacingAndGlyphs" fill="#222">1.78</text>
<path d="M835.9 154.90 L841.0 159.90 M841.0 154.90 L835.9 159.90" stroke="#555" stroke-width="0.8" fill="none"/>
<text x="843.10" y="160.20" font-size="8.4" textLength="7.9" lengthAdjust="spacingAndGlyphs" fill="#222">10</text>
<text x="851.30" y="157.80" font-size="5.6" textLength="4.6" lengthAdjust="spacingAndGlyphs" fill="#222">-6</text>
<text x="560.70" y="181.75" font-size="9.3" fill="#1a1a1a">Myeloid</text>
<text x="603.10" y="181.75" font-size="9.3" fill="#1a1a1a">chr2:72813589:A:G</text>
<text x="699.00" y="181.75" font-size="9.3" fill="#1a1a1a">rs60325013</text>
<text x="764.90" y="181.75" font-size="8.6" font-style="italic" textLength="21.51" lengthAdjust="spacingAndGlyphs" fill="#333">EGR4</text>
<text x="819.20" y="182.05" font-size="8.4" textLength="14.2" lengthAdjust="spacingAndGlyphs" fill="#222">9.24</text>
<path d="M835.9 175.75 L841.0 180.75 M841.0 175.75 L835.9 180.75" stroke="#555" stroke-width="0.8" fill="none"/>
<text x="843.10" y="181.05" font-size="8.4" textLength="7.9" lengthAdjust="spacingAndGlyphs" fill="#222">10</text>
<text x="851.30" y="178.65" font-size="5.6" textLength="4.6" lengthAdjust="spacingAndGlyphs" fill="#222">-6</text>
<text x="560.70" y="202.55" font-size="9.3" fill="#1a1a1a">Myeloid</text>
<text x="603.10" y="202.55" font-size="9.3" fill="#1a1a1a">chr15:42690868:C:T</text>
<text x="699.00" y="202.55" font-size="9.3" fill="#1a1a1a">rs113553910</text>
<text x="764.90" y="202.55" font-size="8.6" font-style="italic" textLength="21.94" lengthAdjust="spacingAndGlyphs" fill="#333">TGM5</text>
<text x="819.20" y="202.85" font-size="8.4" textLength="14.2" lengthAdjust="spacingAndGlyphs" fill="#222">1.35</text>
<path d="M835.9 196.55 L841.0 201.55 M841.0 196.55 L835.9 201.55" stroke="#555" stroke-width="0.8" fill="none"/>
<text x="843.10" y="201.85" font-size="8.4" textLength="7.9" lengthAdjust="spacingAndGlyphs" fill="#222">10</text>
<text x="851.30" y="199.45" font-size="5.6" textLength="4.6" lengthAdjust="spacingAndGlyphs" fill="#222">-6</text>
<text x="560.70" y="223.45" font-size="9.3" fill="#1a1a1a">Myeloid</text>
<text x="603.10" y="223.45" font-size="9.3" fill="#1a1a1a">chr12:8444345:G:A</text>
<text x="699.00" y="223.45" font-size="9.3" fill="#1a1a1a">rs12367729</text>
<text x="764.90" y="223.45" font-size="8.6" font-style="italic" textLength="29.41" lengthAdjust="spacingAndGlyphs" fill="#333">RIMKLB</text>
<text x="819.20" y="223.75" font-size="8.4" textLength="14.2" lengthAdjust="spacingAndGlyphs" fill="#222">2.26</text>
<path d="M835.9 217.45 L841.0 222.45 M841.0 217.45 L835.9 222.45" stroke="#555" stroke-width="0.8" fill="none"/>
<text x="843.10" y="222.75" font-size="8.4" textLength="7.9" lengthAdjust="spacingAndGlyphs" fill="#222">10</text>
<text x="851.30" y="220.35" font-size="5.6" textLength="4.6" lengthAdjust="spacingAndGlyphs" fill="#222">-7</text>
<text x="560.70" y="244.20" font-size="9.3" fill="#1a1a1a">Myeloid</text>
<text x="603.10" y="244.20" font-size="9.3" fill="#1a1a1a">chr15:42690868:C:T</text>
<text x="699.00" y="244.20" font-size="9.3" fill="#1a1a1a">rs113553910</text>
<text x="764.90" y="244.20" font-size="8.6" font-style="italic" textLength="21.94" lengthAdjust="spacingAndGlyphs" fill="#333">TGM5</text>
<text x="819.20" y="244.50" font-size="8.4" textLength="14.2" lengthAdjust="spacingAndGlyphs" fill="#222">3.71</text>
<path d="M835.9 238.20 L841.0 243.20 M841.0 238.20 L835.9 243.20" stroke="#555" stroke-width="0.8" fill="none"/>
<text x="843.10" y="243.50" font-size="8.4" textLength="7.9" lengthAdjust="spacingAndGlyphs" fill="#222">10</text>
<text x="851.30" y="241.10" font-size="5.6" textLength="4.6" lengthAdjust="spacingAndGlyphs" fill="#222">-6</text>
<text x="547.80" y="14.60" font-size="18.5" font-weight="bold" fill="#111">b</text>
<text x="5.00" y="14.00" font-size="18.5" font-weight="bold" fill="#111">a</text>
<text x="0.20" y="336.00" font-size="19.5" font-weight="bold" fill="#111">c</text>
<text x="512.00" y="335.60" font-size="18.5" font-weight="bold" fill="#111">d</text>
<line x1="46.3" y1="383.7" x2="469.0" y2="383.7" stroke="#e9545a" stroke-width="1.3" stroke-dasharray="9 3.5" stroke-dashoffset="1.3"/>
<circle cx="46.9" cy="395.7" r="2.75" fill="#c5d7ee" stroke="#fff" stroke-width="0.5"/>
<circle cx="51.6" cy="395.7" r="2.75" fill="#2e6fab" stroke="#fff" stroke-width="0.5"/>
<circle cx="79.3" cy="386" r="2.75" fill="#2e6fab" stroke="#fff" stroke-width="0.5"/>
<circle cx="85.8" cy="386" r="2.75" fill="#2e6fab" stroke="#fff" stroke-width="0.5"/>
<circle cx="109.1" cy="441.5" r="2.75" fill="#2e6fab" stroke="#fff" stroke-width="0.5"/>
<circle cx="92.8" cy="466.2" r="2.75" fill="#2e6fab" stroke="#fff" stroke-width="0.5"/>
<circle cx="96.2" cy="466.2" r="2.75" fill="#2e6fab" stroke="#fff" stroke-width="0.5"/>
<circle cx="99.9" cy="456.7" r="2.75" fill="#2e6fab" stroke="#fff" stroke-width="0.5"/>
<circle cx="108.6" cy="456.7" r="2.75" fill="#2e6fab" stroke="#fff" stroke-width="0.5"/>
<circle cx="99" cy="488.4" r="2.75" fill="#a3c0e3" stroke="#fff" stroke-width="0.5"/>
<circle cx="78.7" cy="526.7" r="2.75" fill="#a3c0e3" stroke="#fff" stroke-width="0.5"/>
<circle cx="59.2" cy="547.4" r="2.75" fill="#dfe8f5" stroke="#fff" stroke-width="0.5"/>
<circle cx="62.5" cy="547.4" r="2.75" fill="#a3c0e3" stroke="#fff" stroke-width="0.5"/>
<circle cx="168.3" cy="566.2" r="2.75" fill="#a3c0e3" stroke="#fff" stroke-width="0.5"/>
<circle cx="439.2" cy="567" r="2.75" fill="#f3c3a0" stroke="#fff" stroke-width="0.5"/>
<circle cx="442.8" cy="568.4" r="2.75" fill="#f0b58c" stroke="#fff" stroke-width="0.5"/>
<circle cx="446.2" cy="567" r="2.75" fill="#e56d1e" stroke="#fff" stroke-width="0.5"/>
<circle cx="439.6" cy="561.6" r="2.75" fill="#e56d1e" stroke="#fff" stroke-width="0.5"/>
<circle cx="448.1" cy="561.6" r="2.75" fill="#e56d1e" stroke="#fff" stroke-width="0.5"/>
<circle cx="465.8" cy="569.3" r="2.75" fill="#e56d1e" stroke="#fff" stroke-width="0.5"/>
<circle cx="465.8" cy="572.6" r="2.75" fill="#e56d1e" stroke="#fff" stroke-width="0.5"/>
<rect x="45.5" y="376.6" width="424.0" height="204.89999999999998" fill="none" stroke="#6e6e6e" stroke-width="1.3"/>
<line x1="43.3" y1="572.50" x2="45.5" y2="572.50" stroke="#333" stroke-width="1"/>
<text x="36.80" y="576.80" font-size="12.2" text-anchor="end" fill="#1a1a1a">0</text>
<line x1="43.3" y1="534.80" x2="45.5" y2="534.80" stroke="#333" stroke-width="1"/>
<text x="36.80" y="539.10" font-size="12.2" text-anchor="end" fill="#1a1a1a">1</text>
<line x1="43.3" y1="497.10" x2="45.5" y2="497.10" stroke="#333" stroke-width="1"/>
<text x="36.80" y="501.40" font-size="12.2" text-anchor="end" fill="#1a1a1a">2</text>
<line x1="43.3" y1="459.40" x2="45.5" y2="459.40" stroke="#333" stroke-width="1"/>
<text x="36.80" y="463.70" font-size="12.2" text-anchor="end" fill="#1a1a1a">3</text>
<line x1="43.3" y1="421.70" x2="45.5" y2="421.70" stroke="#333" stroke-width="1"/>
<text x="36.80" y="426.00" font-size="12.2" text-anchor="end" fill="#1a1a1a">4</text>
<line x1="43.3" y1="384.00" x2="45.5" y2="384.00" stroke="#333" stroke-width="1"/>
<text x="36.80" y="388.30" font-size="12.2" text-anchor="end" fill="#1a1a1a">5</text>
<line x1="45.5" y1="581.5" x2="45.5" y2="583.9" stroke="#333" stroke-width="1"/>
<line x1="102.4" y1="581.5" x2="102.4" y2="583.9" stroke="#333" stroke-width="1"/>
<line x1="158.1" y1="581.5" x2="158.1" y2="583.9" stroke="#333" stroke-width="1"/>
<line x1="214.2" y1="581.5" x2="214.2" y2="583.9" stroke="#333" stroke-width="1"/>
<line x1="270.3" y1="581.5" x2="270.3" y2="583.9" stroke="#333" stroke-width="1"/>
<line x1="326.1" y1="581.5" x2="326.1" y2="583.9" stroke="#333" stroke-width="1"/>
<line x1="382.5" y1="581.5" x2="382.5" y2="583.9" stroke="#333" stroke-width="1"/>
<line x1="438.8" y1="581.5" x2="438.8" y2="583.9" stroke="#333" stroke-width="1"/>
<text x="21.10" y="601.00" font-size="12.2" textLength="38.3" lengthAdjust="spacingAndGlyphs" fill="#1a1a1a">4.7875</text>
<text x="74.70" y="601.00" font-size="12.2" textLength="38.3" lengthAdjust="spacingAndGlyphs" fill="#1a1a1a">4.7900</text>
<text x="137.10" y="601.00" font-size="12.2" textLength="38.3" lengthAdjust="spacingAndGlyphs" fill="#1a1a1a">4.7925</text>
<text x="195.40" y="601.00" font-size="12.2" textLength="38.3" lengthAdjust="spacingAndGlyphs" fill="#1a1a1a">4.7950</text>
<text x="251.00" y="601.00" font-size="12.2" textLength="38.3" lengthAdjust="spacingAndGlyphs" fill="#1a1a1a">4.7975</text>
<text x="304.20" y="601.00" font-size="12.2" textLength="38.3" lengthAdjust="spacingAndGlyphs" fill="#1a1a1a">4.8000</text>
<text x="364.90" y="601.00" font-size="12.2" textLength="38.3" lengthAdjust="spacingAndGlyphs" fill="#1a1a1a">4.8025</text>
<text x="425.00" y="601.00" font-size="12.2" textLength="38.3" lengthAdjust="spacingAndGlyphs" fill="#1a1a1a">5.8050</text>
<text x="477.60" y="601.00" font-size="12.2" textLength="19.4" lengthAdjust="spacingAndGlyphs" fill="#1a1a1a">1e7</text>
<text x="102.60" y="353.30" font-size="12.4" textLength="307.2" lengthAdjust="spacingAndGlyphs" fill="#1a1a1a">Roomlocus Plot for chr17:47967685:G:A (rs115322609)</text>
<text x="255.70" y="368.10" font-size="12.4" text-anchor="middle" fill="#1a1a1a">in NK POAG</text>
<text x="207.20" y="625.00" font-size="12.4" textLength="96.8" lengthAdjust="spacingAndGlyphs" fill="#1a1a1a">Genomic Position</text>
<text x="0" y="0" font-size="12.2" fill="#1a1a1a" textLength="81.3" lengthAdjust="spacingAndGlyphs" transform="translate(14.3,521.7) rotate(-90)">-log10(p-SMR)</text>
<rect x="381.3" y="390" width="64.2" height="55.5" rx="1.5" fill="#fff" stroke="#d8d8d8" stroke-width="0.9"/>
<text x="392.80" y="404.20" font-size="9.6" font-style="italic" fill="#222">Gene</text>
<circle cx="388.2" cy="410.9" r="1.6" fill="#2e6fab"/>
<text x="392.80" y="414.40" font-size="9.6" font-style="italic" fill="#222">NXPH3</text>
<circle cx="388.2" cy="422.4" r="1.6" fill="#a3c0e3"/>
<text x="392.80" y="425.90" font-size="9.6" font-style="italic" fill="#222">CACNA1G</text>
<circle cx="388.2" cy="434" r="1.6" fill="#e56d1e"/>
<text x="392.80" y="437.50" font-size="9.6" font-style="italic" fill="#222">SGCA</text>
<line x1="600.7" y1="388.9" x2="600.7" y2="456.4" stroke="#c3c6ca" stroke-width="1.2"/>
<line x1="611.5" y1="386.5" x2="611.5" y2="449.9" stroke="#c3c6ca" stroke-width="1.2"/>
<line x1="686.3" y1="444.7" x2="686.3" y2="487" stroke="#c3c6ca" stroke-width="1.2"/>
<line x1="667.2" y1="453" x2="667.2" y2="517.7" stroke="#c3c6ca" stroke-width="1.2"/>
<line x1="663.8" y1="521.5" x2="663.8" y2="572.8" stroke="#c3c6ca" stroke-width="1.2"/>
<line x1="805.2" y1="499.1" x2="805.2" y2="570.2" stroke="#c3c6ca" stroke-width="1.2"/>
<line x1="671" y1="466" x2="702" y2="466" stroke="#c3c6ca" stroke-width="1.2"/>
<line x1="653.5" y1="477.8" x2="680.8" y2="477.8" stroke="#c3c6ca" stroke-width="1.2"/>
<line x1="653.5" y1="493.2" x2="680.8" y2="493.2" stroke="#c3c6ca" stroke-width="1.2"/>
<line x1="650.8" y1="547.4" x2="676.3" y2="547.4" stroke="#c3c6ca" stroke-width="1.2"/>
<line x1="773.6" y1="523.1" x2="836.9" y2="523.1" stroke="#c3c6ca" stroke-width="1.2"/>
<line x1="773.6" y1="529" x2="836.9" y2="529" stroke="#c3c6ca" stroke-width="1.2"/>
<line x1="773.6" y1="539" x2="836.9" y2="539" stroke="#c3c6ca" stroke-width="1.2"/>
<line x1="773.6" y1="544.1" x2="836.9" y2="544.1" stroke="#c3c6ca" stroke-width="1.2"/>
<line x1="600.7" y1="431.4" x2="686.6" y2="478.66" stroke="#e9a43a" stroke-width="1.3"/>
<line x1="690.2" y1="480.64" x2="805.2" y2="543.9" stroke="#e9a43a" stroke-width="1.3" stroke-dasharray="9 3.3"/>
<circle cx="600.7" cy="414.8" r="1.7" fill="#2f73b3"/>
<circle cx="611.5" cy="412.6" r="1.7" fill="#2f73b3"/>
<circle cx="600.7" cy="426.2" r="1.7" fill="#2f73b3"/>
<circle cx="611.5" cy="426.2" r="1.7" fill="#2f73b3"/>
<circle cx="600.7" cy="431.4" r="1.7" fill="#2f73b3"/>
<circle cx="686.3" cy="466" r="1.7" fill="#2f73b3"/>
<circle cx="667.2" cy="477.8" r="1.7" fill="#2f73b3"/>
<circle cx="667.2" cy="493.2" r="1.7" fill="#2f73b3"/>
<circle cx="663.8" cy="547.4" r="1.7" fill="#2f73b3"/>
<circle cx="805.2" cy="523.1" r="1.7" fill="#2f73b3"/>
<circle cx="805.2" cy="529" r="1.7" fill="#2f73b3"/>
<circle cx="805.2" cy="539" r="1.7" fill="#2f73b3"/>
<circle cx="805.2" cy="544.1" r="1.7" fill="#2f73b3"/>
<text x="587.80" y="411.80" font-size="7.2" font-style="italic" fill="#222">NXPH3</text>
<text x="613.70" y="414.60" font-size="7.2" font-style="italic" fill="#222">NXPH3</text>
<text x="587.80" y="424.80" font-size="7.2" font-style="italic" fill="#222">NXPH3</text>
<text x="613.70" y="427.90" font-size="7.2" font-style="italic" fill="#222">NXPH3</text>
<text x="587.80" y="438.60" font-size="7.2" font-style="italic" fill="#222">NXPH3</text>
<text x="689.20" y="463.30" font-size="7.2" font-style="italic" fill="#222">CACNA1G</text>
<text x="630.70" y="477.60" font-size="7.2" font-style="italic" fill="#222">CACNA1G</text>
<text x="668.70" y="502.20" font-size="7.2" font-style="italic" fill="#222">CACNA1G</text>
<text x="666.20" y="545.50" font-size="7.2" font-style="italic" fill="#222">CACNA1G</text>
<text x="783.10" y="520.90" font-size="7.2" font-style="italic" fill="#222">SGCA</text>
<text x="807.60" y="528.90" font-size="7.2" font-style="italic" fill="#222">SGCA</text>
<text x="808.70" y="538.90" font-size="7.2" font-style="italic" fill="#222">SGCA</text>
<text x="783.10" y="552.80" font-size="7.2" font-style="italic" fill="#222">SGCA</text>
<rect x="587.3" y="377.2" width="261.20000000000005" height="205.09999999999997" fill="none" stroke="#6e6e6e" stroke-width="1.3"/>
<line x1="585.0999999999999" y1="395.90" x2="587.3" y2="395.90" stroke="#333" stroke-width="1"/>
<text x="578.80" y="400.20" font-size="12.2" text-anchor="end" fill="#1a1a1a">0.25</text>
<line x1="585.0999999999999" y1="422.20" x2="587.3" y2="422.20" stroke="#333" stroke-width="1"/>
<text x="578.80" y="426.50" font-size="12.2" text-anchor="end" fill="#1a1a1a">0.20</text>
<line x1="585.0999999999999" y1="448.50" x2="587.3" y2="448.50" stroke="#333" stroke-width="1"/>
<text x="578.80" y="452.80" font-size="12.2" text-anchor="end" fill="#1a1a1a">0.15</text>
<line x1="585.0999999999999" y1="474.80" x2="587.3" y2="474.80" stroke="#333" stroke-width="1"/>
<text x="578.80" y="479.10" font-size="12.2" text-anchor="end" fill="#1a1a1a">0.10</text>
<line x1="585.0999999999999" y1="501.10" x2="587.3" y2="501.10" stroke="#333" stroke-width="1"/>
<text x="578.80" y="505.40" font-size="12.2" text-anchor="end" fill="#1a1a1a">0.05</text>
<line x1="585.0999999999999" y1="527.40" x2="587.3" y2="527.40" stroke="#333" stroke-width="1"/>
<text x="578.80" y="531.70" font-size="12.2" text-anchor="end" fill="#1a1a1a">0</text>
<line x1="585.0999999999999" y1="553.70" x2="587.3" y2="553.70" stroke="#333" stroke-width="1"/>
<text x="578.80" y="558.00" font-size="12.2" text-anchor="end" fill="#1a1a1a">-0.05</text>
<line x1="585.0999999999999" y1="580.00" x2="587.3" y2="580.00" stroke="#333" stroke-width="1"/>
<text x="578.80" y="584.30" font-size="12.2" text-anchor="end" fill="#1a1a1a">-0.10</text>
<line x1="591" y1="582.3" x2="591" y2="584.6999999999999" stroke="#333" stroke-width="1"/>
<line x1="627.4" y1="582.3" x2="627.4" y2="584.6999999999999" stroke="#333" stroke-width="1"/>
<line x1="663.2" y1="582.3" x2="663.2" y2="584.6999999999999" stroke="#333" stroke-width="1"/>
<line x1="699.2" y1="582.3" x2="699.2" y2="584.6999999999999" stroke="#333" stroke-width="1"/>
<line x1="734.9" y1="582.3" x2="734.9" y2="584.6999999999999" stroke="#333" stroke-width="1"/>
<line x1="770.6" y1="582.3" x2="770.6" y2="584.6999999999999" stroke="#333" stroke-width="1"/>
<line x1="806.3" y1="582.3" x2="806.3" y2="584.6999999999999" stroke="#333" stroke-width="1"/>
<line x1="842.1" y1="582.3" x2="842.1" y2="584.6999999999999" stroke="#333" stroke-width="1"/>
<text x="591.00" y="601.00" font-size="12.2" text-anchor="middle" fill="#1a1a1a">0</text>
<text x="624.80" y="601.00" font-size="12.2" text-anchor="middle" fill="#1a1a1a">0.001</text>
<text x="661.40" y="601.00" font-size="12.2" text-anchor="middle" fill="#1a1a1a">0.002</text>
<text x="698.50" y="601.00" font-size="12.2" text-anchor="middle" fill="#1a1a1a">0.003</text>
<text x="735.60" y="601.00" font-size="12.2" text-anchor="middle" fill="#1a1a1a">0.004</text>
<text x="773.10" y="601.00" font-size="12.2" text-anchor="middle" fill="#1a1a1a">0.005</text>
<text x="809.20" y="601.00" font-size="12.2" text-anchor="middle" fill="#1a1a1a">0.006</text>
<text x="844.80" y="601.00" font-size="12.2" text-anchor="middle" fill="#1a1a1a">0.007</text>
<text x="560.20" y="349.30" font-size="12.4" textLength="303" lengthAdjust="spacingAndGlyphs" fill="#1a1a1a">Effect Size Plot for chr17:47967685:G:A (rs115322609)</text>
<text x="713.90" y="364.60" font-size="12.4" text-anchor="middle" fill="#1a1a1a">in NK POAG</text>
<text x="667.80" y="624.60" font-size="12.4" textLength="98" lengthAdjust="spacingAndGlyphs" fill="#1a1a1a">eQTL effect sizes</text>
<text x="0" y="0" font-size="12.2" fill="#1a1a1a" textLength="96.5" lengthAdjust="spacingAndGlyphs" transform="translate(536,527.4) rotate(-90)">GWAS effect size</text>
<rect x="775.2" y="389.4" width="61.3" height="13.1" rx="1.5" fill="#fff" stroke="#d8d8d8" stroke-width="0.9"/>
<path d="M781.6 392.4 L784.6 395.5 L781.6 398.6 L778.6 395.5 Z" fill="#6b9fd0"/>
<text x="785.70" y="399.70" font-size="9.6" textLength="47.4" lengthAdjust="spacingAndGlyphs" fill="#222">Effect sizes</text>
</svg></body></html>
